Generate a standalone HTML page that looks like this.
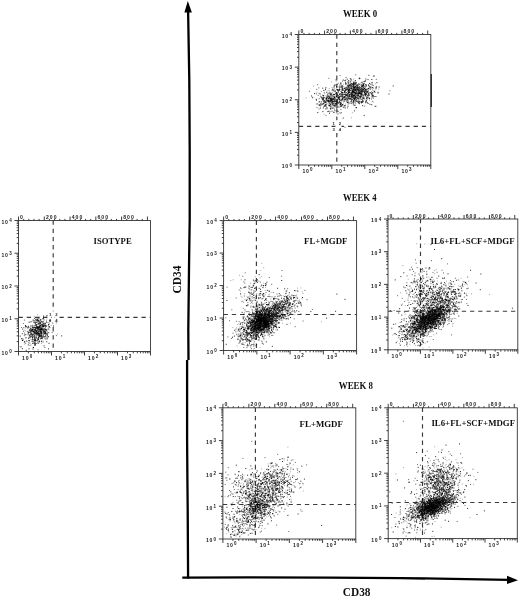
<!DOCTYPE html><html><head><meta charset="utf-8"><style>
html,body{margin:0;padding:0;background:#fff;width:520px;height:597px;overflow:hidden}
svg{display:block}
.tk{font-family:"Liberation Sans",sans-serif;font-weight:bold;font-size:5.1px;letter-spacing:0.7px;fill:#1a1a1a}
.tkt{font-family:"Liberation Sans",sans-serif;font-weight:bold;font-size:5.1px;letter-spacing:1.05px;fill:#1a1a1a}
.tks{font-family:"Liberation Sans",sans-serif;font-weight:bold;font-size:4.5px;fill:#1a1a1a}
.tq{font-family:"Liberation Sans",sans-serif;font-weight:bold;font-size:4.2px;fill:#222}
.lb{font-family:"Liberation Serif",serif;font-weight:bold;font-size:9.2px;fill:#111}
.tt{font-family:"Liberation Serif",serif;font-weight:bold;font-size:9.3px;fill:#111}
.ax{font-family:"Liberation Serif",serif;font-weight:bold;font-size:11.5px;fill:#111}
</style></head><body><svg width="520" height="597" viewBox="0 0 520 597">
<defs><filter id="gb" x="0" y="0" width="1" height="1"><feGaussianBlur stdDeviation="0.3"/></filter></defs>
<rect width="520" height="597" fill="#fff"/><g filter="url(#gb)"><rect width="520" height="597" fill="#fff"/>
<rect x="18.5" y="220.5" width="132" height="131" fill="none" stroke="#333" stroke-width="0.9"/>
<path d="M18.5 220.5v-4M23.66 220.5v-1.6M28.81 220.5v-1.6M33.97 220.5v-1.6M39.12 220.5v-1.6M44.28 220.5v-4M49.44 220.5v-1.6M54.59 220.5v-1.6M59.75 220.5v-1.6M64.91 220.5v-1.6M70.06 220.5v-4M75.22 220.5v-1.6M80.38 220.5v-1.6M85.53 220.5v-1.6M90.69 220.5v-1.6M95.84 220.5v-4M101 220.5v-1.6M106.16 220.5v-1.6M111.31 220.5v-1.6M116.47 220.5v-1.6M121.62 220.5v-4M126.78 220.5v-1.6M131.94 220.5v-1.6M137.09 220.5v-1.6M142.25 220.5v-1.6M147.41 220.5v-4M18.5 351.5h-4M18.5 341.64h-1.8M18.5 335.87h-1.8M18.5 331.78h-1.8M18.5 328.61h-1.8M18.5 326.02h-1.8M18.5 323.82h-1.8M18.5 321.92h-1.8M18.5 320.25h-1.8M18.5 318.75h-4M18.5 308.89h-1.8M18.5 303.12h-1.8M18.5 299.03h-1.8M18.5 295.86h-1.8M18.5 293.27h-1.8M18.5 291.07h-1.8M18.5 289.17h-1.8M18.5 287.5h-1.8M18.5 286h-4M18.5 276.14h-1.8M18.5 270.37h-1.8M18.5 266.28h-1.8M18.5 263.11h-1.8M18.5 260.52h-1.8M18.5 258.32h-1.8M18.5 256.42h-1.8M18.5 254.75h-1.8M18.5 253.25h-4M18.5 243.39h-1.8M18.5 237.62h-1.8M18.5 233.53h-1.8M18.5 230.36h-1.8M18.5 227.77h-1.8M18.5 225.57h-1.8M18.5 223.67h-1.8M18.5 222h-1.8M18.5 220.5h-4M18.5 351.5v4M28.43 351.5v1.8M34.25 351.5v1.8M38.37 351.5v1.8M41.57 351.5v1.8M44.18 351.5v1.8M46.39 351.5v1.8M48.3 351.5v1.8M49.99 351.5v1.8M51.5 351.5v4M61.43 351.5v1.8M67.25 351.5v1.8M71.37 351.5v1.8M74.57 351.5v1.8M77.18 351.5v1.8M79.39 351.5v1.8M81.3 351.5v1.8M82.99 351.5v1.8M84.5 351.5v4M94.43 351.5v1.8M100.25 351.5v1.8M104.37 351.5v1.8M107.57 351.5v1.8M110.18 351.5v1.8M112.39 351.5v1.8M114.3 351.5v1.8M115.99 351.5v1.8M117.5 351.5v4M127.43 351.5v1.8M133.25 351.5v1.8M137.37 351.5v1.8M140.57 351.5v1.8M143.18 351.5v1.8M145.39 351.5v1.8M147.3 351.5v1.8M148.99 351.5v1.8M150.5 351.5v4" stroke="#2a2a2a" stroke-width="0.9" fill="none"/>
<text x="20.1" y="219" class="tkt">0</text>
<text x="45.88" y="219" class="tkt">200</text>
<text x="71.66" y="219" class="tkt">400</text>
<text x="97.44" y="219" class="tkt">600</text>
<text x="123.22" y="219" class="tkt">800</text>
<text x="1.5" y="354.8" class="tk">10</text>
<text x="9.2" y="353" class="tks">0</text>
<text x="1.5" y="322.05" class="tk">10</text>
<text x="9.2" y="320.25" class="tks">1</text>
<text x="1.5" y="289.3" class="tk">10</text>
<text x="9.2" y="287.5" class="tks">2</text>
<text x="1.5" y="256.55" class="tk">10</text>
<text x="9.2" y="254.75" class="tks">3</text>
<text x="1.5" y="223.8" class="tk">10</text>
<text x="9.2" y="222" class="tks">4</text>
<text x="22.1" y="359.8" class="tk">10</text>
<text x="29.7" y="357.8" class="tks">0</text>
<text x="55.1" y="359.8" class="tk">10</text>
<text x="62.7" y="357.8" class="tks">1</text>
<text x="88.1" y="359.8" class="tk">10</text>
<text x="95.7" y="357.8" class="tks">2</text>
<text x="121.1" y="359.8" class="tk">10</text>
<text x="128.7" y="357.8" class="tks">3</text>
<path d="M53.2 220.5V351.5M18.5 317.3H150.5" stroke="#3a3a3a" stroke-width="1.15" stroke-dasharray="4.3 3.9" fill="none"/>
<rect x="51.9" y="311.3" width="2.6" height="12" fill="#fff"/><rect x="54.5" y="316.3" width="3.4" height="2" fill="#fff"/>
<text x="50.1" y="315.8" class="tq" text-anchor="middle">1</text>
<text x="56.3" y="315.8" class="tq" text-anchor="middle">2</text>
<text x="50.1" y="321.8" class="tq" text-anchor="middle">3</text>
<text x="56.3" y="321.8" class="tq" text-anchor="middle">4</text>
<text x="93.6" y="244.4" class="lb" textLength="38.1" lengthAdjust="spacingAndGlyphs">ISOTYPE</text>
<rect x="298.8" y="34.5" width="132" height="130.5" fill="none" stroke="#333" stroke-width="0.9"/>
<path d="M298.8 34.5v-4M303.96 34.5v-1.6M309.11 34.5v-1.6M314.27 34.5v-1.6M319.43 34.5v-1.6M324.58 34.5v-4M329.74 34.5v-1.6M334.89 34.5v-1.6M340.05 34.5v-1.6M345.21 34.5v-1.6M350.36 34.5v-4M355.52 34.5v-1.6M360.68 34.5v-1.6M365.83 34.5v-1.6M370.99 34.5v-1.6M376.14 34.5v-4M381.3 34.5v-1.6M386.46 34.5v-1.6M391.61 34.5v-1.6M396.77 34.5v-1.6M401.93 34.5v-4M407.08 34.5v-1.6M412.24 34.5v-1.6M417.39 34.5v-1.6M422.55 34.5v-1.6M427.71 34.5v-4M298.8 165h-4M298.8 155.18h-1.8M298.8 149.43h-1.8M298.8 145.36h-1.8M298.8 142.2h-1.8M298.8 139.61h-1.8M298.8 137.43h-1.8M298.8 135.54h-1.8M298.8 133.87h-1.8M298.8 132.38h-4M298.8 122.55h-1.8M298.8 116.81h-1.8M298.8 112.73h-1.8M298.8 109.57h-1.8M298.8 106.99h-1.8M298.8 104.8h-1.8M298.8 102.91h-1.8M298.8 101.24h-1.8M298.8 99.75h-4M298.8 89.93h-1.8M298.8 84.18h-1.8M298.8 80.11h-1.8M298.8 76.95h-1.8M298.8 74.36h-1.8M298.8 72.18h-1.8M298.8 70.29h-1.8M298.8 68.62h-1.8M298.8 67.12h-4M298.8 57.3h-1.8M298.8 51.56h-1.8M298.8 47.48h-1.8M298.8 44.32h-1.8M298.8 41.74h-1.8M298.8 39.55h-1.8M298.8 37.66h-1.8M298.8 35.99h-1.8M298.8 34.5h-4M298.8 165v4M308.73 165v1.8M314.55 165v1.8M318.67 165v1.8M321.87 165v1.8M324.48 165v1.8M326.69 165v1.8M328.6 165v1.8M330.29 165v1.8M331.8 165v4M341.73 165v1.8M347.55 165v1.8M351.67 165v1.8M354.87 165v1.8M357.48 165v1.8M359.69 165v1.8M361.6 165v1.8M363.29 165v1.8M364.8 165v4M374.73 165v1.8M380.55 165v1.8M384.67 165v1.8M387.87 165v1.8M390.48 165v1.8M392.69 165v1.8M394.6 165v1.8M396.29 165v1.8M397.8 165v4M407.73 165v1.8M413.55 165v1.8M417.67 165v1.8M420.87 165v1.8M423.48 165v1.8M425.69 165v1.8M427.6 165v1.8M429.29 165v1.8M430.8 165v4" stroke="#2a2a2a" stroke-width="0.9" fill="none"/>
<text x="300.4" y="33" class="tkt">0</text>
<text x="326.18" y="33" class="tkt">200</text>
<text x="351.96" y="33" class="tkt">400</text>
<text x="377.74" y="33" class="tkt">600</text>
<text x="403.53" y="33" class="tkt">800</text>
<text x="281.8" y="168.3" class="tk">10</text>
<text x="289.5" y="166.5" class="tks">0</text>
<text x="281.8" y="135.68" class="tk">10</text>
<text x="289.5" y="133.88" class="tks">1</text>
<text x="281.8" y="103.05" class="tk">10</text>
<text x="289.5" y="101.25" class="tks">2</text>
<text x="281.8" y="70.42" class="tk">10</text>
<text x="289.5" y="68.62" class="tks">3</text>
<text x="281.8" y="37.8" class="tk">10</text>
<text x="289.5" y="36" class="tks">4</text>
<text x="302.4" y="173.3" class="tk">10</text>
<text x="310" y="171.3" class="tks">0</text>
<text x="335.4" y="173.3" class="tk">10</text>
<text x="343" y="171.3" class="tks">1</text>
<text x="368.4" y="173.3" class="tk">10</text>
<text x="376" y="171.3" class="tks">2</text>
<text x="401.4" y="173.3" class="tk">10</text>
<text x="409" y="171.3" class="tks">3</text>
<path d="M336.8 34.5V165M298.8 126.3H430.8" stroke="#3a3a3a" stroke-width="1.15" stroke-dasharray="4.3 3.9" fill="none"/>
<rect x="335.5" y="120.3" width="2.6" height="12" fill="#fff"/><rect x="338.1" y="125.3" width="3.4" height="2" fill="#fff"/>
<text x="333.7" y="124.8" class="tq" text-anchor="middle">1</text>
<text x="339.9" y="124.8" class="tq" text-anchor="middle">2</text>
<text x="333.7" y="130.8" class="tq" text-anchor="middle">3</text>
<text x="339.9" y="130.8" class="tq" text-anchor="middle">4</text>
<rect x="223.6" y="220.6" width="133" height="129.9" fill="none" stroke="#333" stroke-width="0.9"/>
<path d="M223.6 220.6v-4M228.8 220.6v-1.6M233.99 220.6v-1.6M239.19 220.6v-1.6M244.38 220.6v-1.6M249.58 220.6v-4M254.77 220.6v-1.6M259.97 220.6v-1.6M265.16 220.6v-1.6M270.36 220.6v-1.6M275.55 220.6v-4M280.75 220.6v-1.6M285.94 220.6v-1.6M291.14 220.6v-1.6M296.33 220.6v-1.6M301.53 220.6v-4M306.73 220.6v-1.6M311.92 220.6v-1.6M317.12 220.6v-1.6M322.31 220.6v-1.6M327.51 220.6v-4M332.7 220.6v-1.6M337.9 220.6v-1.6M343.09 220.6v-1.6M348.29 220.6v-1.6M353.48 220.6v-4M223.6 350.5h-4M223.6 340.72h-1.8M223.6 335.01h-1.8M223.6 330.95h-1.8M223.6 327.8h-1.8M223.6 325.23h-1.8M223.6 323.06h-1.8M223.6 321.17h-1.8M223.6 319.51h-1.8M223.6 318.02h-4M223.6 308.25h-1.8M223.6 302.53h-1.8M223.6 298.47h-1.8M223.6 295.33h-1.8M223.6 292.75h-1.8M223.6 290.58h-1.8M223.6 288.7h-1.8M223.6 287.04h-1.8M223.6 285.55h-4M223.6 275.77h-1.8M223.6 270.06h-1.8M223.6 266h-1.8M223.6 262.85h-1.8M223.6 260.28h-1.8M223.6 258.11h-1.8M223.6 256.22h-1.8M223.6 254.56h-1.8M223.6 253.07h-4M223.6 243.3h-1.8M223.6 237.58h-1.8M223.6 233.52h-1.8M223.6 230.38h-1.8M223.6 227.8h-1.8M223.6 225.63h-1.8M223.6 223.75h-1.8M223.6 222.09h-1.8M223.6 220.6h-4M223.6 350.5v4M233.61 350.5v1.8M239.46 350.5v1.8M243.62 350.5v1.8M246.84 350.5v1.8M249.47 350.5v1.8M251.7 350.5v1.8M253.63 350.5v1.8M255.33 350.5v1.8M256.85 350.5v4M266.86 350.5v1.8M272.71 350.5v1.8M276.87 350.5v1.8M280.09 350.5v1.8M282.72 350.5v1.8M284.95 350.5v1.8M286.88 350.5v1.8M288.58 350.5v1.8M290.1 350.5v4M300.11 350.5v1.8M305.96 350.5v1.8M310.12 350.5v1.8M313.34 350.5v1.8M315.97 350.5v1.8M318.2 350.5v1.8M320.13 350.5v1.8M321.83 350.5v1.8M323.35 350.5v4M333.36 350.5v1.8M339.21 350.5v1.8M343.37 350.5v1.8M346.59 350.5v1.8M349.22 350.5v1.8M351.45 350.5v1.8M353.38 350.5v1.8M355.08 350.5v1.8M356.6 350.5v4" stroke="#2a2a2a" stroke-width="0.9" fill="none"/>
<text x="225.2" y="219.1" class="tkt">0</text>
<text x="251.18" y="219.1" class="tkt">200</text>
<text x="277.15" y="219.1" class="tkt">400</text>
<text x="303.13" y="219.1" class="tkt">600</text>
<text x="329.11" y="219.1" class="tkt">800</text>
<text x="206.6" y="353.8" class="tk">10</text>
<text x="214.3" y="352" class="tks">0</text>
<text x="206.6" y="321.32" class="tk">10</text>
<text x="214.3" y="319.52" class="tks">1</text>
<text x="206.6" y="288.85" class="tk">10</text>
<text x="214.3" y="287.05" class="tks">2</text>
<text x="206.6" y="256.38" class="tk">10</text>
<text x="214.3" y="254.57" class="tks">3</text>
<text x="206.6" y="223.9" class="tk">10</text>
<text x="214.3" y="222.1" class="tks">4</text>
<text x="227.2" y="358.8" class="tk">10</text>
<text x="234.8" y="356.8" class="tks">0</text>
<text x="260.45" y="358.8" class="tk">10</text>
<text x="268.05" y="356.8" class="tks">1</text>
<text x="293.7" y="358.8" class="tk">10</text>
<text x="301.3" y="356.8" class="tks">2</text>
<text x="326.95" y="358.8" class="tk">10</text>
<text x="334.55" y="356.8" class="tks">3</text>
<path d="M256.4 220.6V350.5M223.6 314.5H356.6" stroke="#3a3a3a" stroke-width="1.15" stroke-dasharray="4.3 3.9" fill="none"/>
<text x="304" y="244.4" class="lb" textLength="43.5" lengthAdjust="spacingAndGlyphs">FL&#43;MGDF</text>
<rect x="388" y="219" width="129.8" height="130.8" fill="none" stroke="#333" stroke-width="0.9"/>
<path d="M388 219v-4M393.07 219v-1.6M398.14 219v-1.6M403.21 219v-1.6M408.28 219v-1.6M413.35 219v-4M418.42 219v-1.6M423.49 219v-1.6M428.56 219v-1.6M433.63 219v-1.6M438.7 219v-4M443.77 219v-1.6M448.84 219v-1.6M453.91 219v-1.6M458.98 219v-1.6M464.05 219v-4M469.12 219v-1.6M474.2 219v-1.6M479.27 219v-1.6M484.34 219v-1.6M489.41 219v-4M494.48 219v-1.6M499.55 219v-1.6M504.62 219v-1.6M509.69 219v-1.6M514.76 219v-4M388 349.8h-4M388 339.96h-1.8M388 334.2h-1.8M388 330.11h-1.8M388 326.94h-1.8M388 324.35h-1.8M388 322.17h-1.8M388 320.27h-1.8M388 318.6h-1.8M388 317.1h-4M388 307.26h-1.8M388 301.5h-1.8M388 297.41h-1.8M388 294.24h-1.8M388 291.65h-1.8M388 289.47h-1.8M388 287.57h-1.8M388 285.9h-1.8M388 284.4h-4M388 274.56h-1.8M388 268.8h-1.8M388 264.71h-1.8M388 261.54h-1.8M388 258.95h-1.8M388 256.77h-1.8M388 254.87h-1.8M388 253.2h-1.8M388 251.7h-4M388 241.86h-1.8M388 236.1h-1.8M388 232.01h-1.8M388 228.84h-1.8M388 226.25h-1.8M388 224.07h-1.8M388 222.17h-1.8M388 220.5h-1.8M388 219h-4M388 349.8v4M397.77 349.8v1.8M403.48 349.8v1.8M407.54 349.8v1.8M410.68 349.8v1.8M413.25 349.8v1.8M415.42 349.8v1.8M417.31 349.8v1.8M418.97 349.8v1.8M420.45 349.8v4M430.22 349.8v1.8M435.93 349.8v1.8M439.99 349.8v1.8M443.13 349.8v1.8M445.7 349.8v1.8M447.87 349.8v1.8M449.76 349.8v1.8M451.42 349.8v1.8M452.9 349.8v4M462.67 349.8v1.8M468.38 349.8v1.8M472.44 349.8v1.8M475.58 349.8v1.8M478.15 349.8v1.8M480.32 349.8v1.8M482.21 349.8v1.8M483.87 349.8v1.8M485.35 349.8v4M495.12 349.8v1.8M500.83 349.8v1.8M504.89 349.8v1.8M508.03 349.8v1.8M510.6 349.8v1.8M512.77 349.8v1.8M514.66 349.8v1.8M516.32 349.8v1.8M517.8 349.8v4" stroke="#2a2a2a" stroke-width="0.9" fill="none"/>
<text x="389.6" y="217.5" class="tkt">0</text>
<text x="414.95" y="217.5" class="tkt">200</text>
<text x="440.3" y="217.5" class="tkt">400</text>
<text x="465.65" y="217.5" class="tkt">600</text>
<text x="491.01" y="217.5" class="tkt">800</text>
<text x="371" y="353.1" class="tk">10</text>
<text x="378.7" y="351.3" class="tks">0</text>
<text x="371" y="320.4" class="tk">10</text>
<text x="378.7" y="318.6" class="tks">1</text>
<text x="371" y="287.7" class="tk">10</text>
<text x="378.7" y="285.9" class="tks">2</text>
<text x="371" y="255" class="tk">10</text>
<text x="378.7" y="253.2" class="tks">3</text>
<text x="371" y="222.3" class="tk">10</text>
<text x="378.7" y="220.5" class="tks">4</text>
<text x="391.6" y="358.1" class="tk">10</text>
<text x="399.2" y="356.1" class="tks">0</text>
<text x="424.05" y="358.1" class="tk">10</text>
<text x="431.65" y="356.1" class="tks">1</text>
<text x="456.5" y="358.1" class="tk">10</text>
<text x="464.1" y="356.1" class="tks">2</text>
<text x="488.95" y="358.1" class="tk">10</text>
<text x="496.55" y="356.1" class="tks">3</text>
<path d="M420.5 219V349.8M388 311.2H517.8" stroke="#3a3a3a" stroke-width="1.15" stroke-dasharray="4.3 3.9" fill="none"/>
<text x="430.5" y="243.7" class="lb" textLength="84.1" lengthAdjust="spacingAndGlyphs">IL6&#43;FL&#43;SCF&#43;MDGF</text>
<rect x="222.9" y="407.8" width="132.9" height="131.2" fill="none" stroke="#333" stroke-width="0.9"/>
<path d="M222.9 407.8v-4M228.09 407.8v-1.6M233.28 407.8v-1.6M238.47 407.8v-1.6M243.67 407.8v-1.6M248.86 407.8v-4M254.05 407.8v-1.6M259.24 407.8v-1.6M264.43 407.8v-1.6M269.62 407.8v-1.6M274.81 407.8v-4M280.01 407.8v-1.6M285.2 407.8v-1.6M290.39 407.8v-1.6M295.58 407.8v-1.6M300.77 407.8v-4M305.96 407.8v-1.6M311.15 407.8v-1.6M316.35 407.8v-1.6M321.54 407.8v-1.6M326.73 407.8v-4M331.92 407.8v-1.6M337.11 407.8v-1.6M342.3 407.8v-1.6M347.49 407.8v-1.6M352.69 407.8v-4M222.9 539h-4M222.9 529.13h-1.8M222.9 523.35h-1.8M222.9 519.25h-1.8M222.9 516.07h-1.8M222.9 513.48h-1.8M222.9 511.28h-1.8M222.9 509.38h-1.8M222.9 507.7h-1.8M222.9 506.2h-4M222.9 496.33h-1.8M222.9 490.55h-1.8M222.9 486.45h-1.8M222.9 483.27h-1.8M222.9 480.68h-1.8M222.9 478.48h-1.8M222.9 476.58h-1.8M222.9 474.9h-1.8M222.9 473.4h-4M222.9 463.53h-1.8M222.9 457.75h-1.8M222.9 453.65h-1.8M222.9 450.47h-1.8M222.9 447.88h-1.8M222.9 445.68h-1.8M222.9 443.78h-1.8M222.9 442.1h-1.8M222.9 440.6h-4M222.9 430.73h-1.8M222.9 424.95h-1.8M222.9 420.85h-1.8M222.9 417.67h-1.8M222.9 415.08h-1.8M222.9 412.88h-1.8M222.9 410.98h-1.8M222.9 409.3h-1.8M222.9 407.8h-4M222.9 539v4M232.9 539v1.8M238.75 539v1.8M242.9 539v1.8M246.12 539v1.8M248.75 539v1.8M250.98 539v1.8M252.91 539v1.8M254.6 539v1.8M256.12 539v4M266.13 539v1.8M271.98 539v1.8M276.13 539v1.8M279.35 539v1.8M281.98 539v1.8M284.2 539v1.8M286.13 539v1.8M287.83 539v1.8M289.35 539v4M299.35 539v1.8M305.2 539v1.8M309.35 539v1.8M312.57 539v1.8M315.2 539v1.8M317.43 539v1.8M319.36 539v1.8M321.05 539v1.8M322.58 539v4M332.58 539v1.8M338.43 539v1.8M342.58 539v1.8M345.8 539v1.8M348.43 539v1.8M350.65 539v1.8M352.58 539v1.8M354.28 539v1.8M355.8 539v4" stroke="#2a2a2a" stroke-width="0.9" fill="none"/>
<text x="224.5" y="406.3" class="tkt">0</text>
<text x="250.46" y="406.3" class="tkt">200</text>
<text x="276.41" y="406.3" class="tkt">400</text>
<text x="302.37" y="406.3" class="tkt">600</text>
<text x="328.33" y="406.3" class="tkt">800</text>
<text x="205.9" y="542.3" class="tk">10</text>
<text x="213.6" y="540.5" class="tks">0</text>
<text x="205.9" y="509.5" class="tk">10</text>
<text x="213.6" y="507.7" class="tks">1</text>
<text x="205.9" y="476.7" class="tk">10</text>
<text x="213.6" y="474.9" class="tks">2</text>
<text x="205.9" y="443.9" class="tk">10</text>
<text x="213.6" y="442.1" class="tks">3</text>
<text x="205.9" y="411.1" class="tk">10</text>
<text x="213.6" y="409.3" class="tks">4</text>
<text x="226.5" y="547.3" class="tk">10</text>
<text x="234.1" y="545.3" class="tks">0</text>
<text x="259.73" y="547.3" class="tk">10</text>
<text x="267.33" y="545.3" class="tks">1</text>
<text x="292.95" y="547.3" class="tk">10</text>
<text x="300.55" y="545.3" class="tks">2</text>
<text x="326.18" y="547.3" class="tk">10</text>
<text x="333.78" y="545.3" class="tks">3</text>
<path d="M255.4 407.8V539M222.9 504.5H355.8" stroke="#3a3a3a" stroke-width="1.15" stroke-dasharray="4.3 3.9" fill="none"/>
<text x="299.6" y="427.1" class="lb" textLength="43.3" lengthAdjust="spacingAndGlyphs">FL&#43;MGDF</text>
<rect x="388.2" y="407.8" width="129.1" height="130.8" fill="none" stroke="#333" stroke-width="0.9"/>
<path d="M388.2 407.8v-4M393.24 407.8v-1.6M398.29 407.8v-1.6M403.33 407.8v-1.6M408.37 407.8v-1.6M413.41 407.8v-4M418.46 407.8v-1.6M423.5 407.8v-1.6M428.54 407.8v-1.6M433.59 407.8v-1.6M438.63 407.8v-4M443.67 407.8v-1.6M448.72 407.8v-1.6M453.76 407.8v-1.6M458.8 407.8v-1.6M463.84 407.8v-4M468.89 407.8v-1.6M473.93 407.8v-1.6M478.97 407.8v-1.6M484.02 407.8v-1.6M489.06 407.8v-4M494.1 407.8v-1.6M499.15 407.8v-1.6M504.19 407.8v-1.6M509.23 407.8v-1.6M514.27 407.8v-4M388.2 538.6h-4M388.2 528.76h-1.8M388.2 523h-1.8M388.2 518.91h-1.8M388.2 515.74h-1.8M388.2 513.15h-1.8M388.2 510.97h-1.8M388.2 509.07h-1.8M388.2 507.4h-1.8M388.2 505.9h-4M388.2 496.06h-1.8M388.2 490.3h-1.8M388.2 486.21h-1.8M388.2 483.04h-1.8M388.2 480.45h-1.8M388.2 478.27h-1.8M388.2 476.37h-1.8M388.2 474.7h-1.8M388.2 473.2h-4M388.2 463.36h-1.8M388.2 457.6h-1.8M388.2 453.51h-1.8M388.2 450.34h-1.8M388.2 447.75h-1.8M388.2 445.57h-1.8M388.2 443.67h-1.8M388.2 442h-1.8M388.2 440.5h-4M388.2 430.66h-1.8M388.2 424.9h-1.8M388.2 420.81h-1.8M388.2 417.64h-1.8M388.2 415.05h-1.8M388.2 412.87h-1.8M388.2 410.97h-1.8M388.2 409.3h-1.8M388.2 407.8h-4M388.2 538.6v4M397.92 538.6v1.8M403.6 538.6v1.8M407.63 538.6v1.8M410.76 538.6v1.8M413.31 538.6v1.8M415.48 538.6v1.8M417.35 538.6v1.8M419 538.6v1.8M420.47 538.6v4M430.19 538.6v1.8M435.87 538.6v1.8M439.91 538.6v1.8M443.03 538.6v1.8M445.59 538.6v1.8M447.75 538.6v1.8M449.62 538.6v1.8M451.27 538.6v1.8M452.75 538.6v4M462.47 538.6v1.8M468.15 538.6v1.8M472.18 538.6v1.8M475.31 538.6v1.8M477.86 538.6v1.8M480.03 538.6v1.8M481.9 538.6v1.8M483.55 538.6v1.8M485.02 538.6v4M494.74 538.6v1.8M500.42 538.6v1.8M504.46 538.6v1.8M507.58 538.6v1.8M510.14 538.6v1.8M512.3 538.6v1.8M514.17 538.6v1.8M515.82 538.6v1.8M517.3 538.6v4" stroke="#2a2a2a" stroke-width="0.9" fill="none"/>
<text x="389.8" y="406.3" class="tkt">0</text>
<text x="415.01" y="406.3" class="tkt">200</text>
<text x="440.23" y="406.3" class="tkt">400</text>
<text x="465.44" y="406.3" class="tkt">600</text>
<text x="490.66" y="406.3" class="tkt">800</text>
<text x="371.2" y="541.9" class="tk">10</text>
<text x="378.9" y="540.1" class="tks">0</text>
<text x="371.2" y="509.2" class="tk">10</text>
<text x="378.9" y="507.4" class="tks">1</text>
<text x="371.2" y="476.5" class="tk">10</text>
<text x="378.9" y="474.7" class="tks">2</text>
<text x="371.2" y="443.8" class="tk">10</text>
<text x="378.9" y="442" class="tks">3</text>
<text x="371.2" y="411.1" class="tk">10</text>
<text x="378.9" y="409.3" class="tks">4</text>
<text x="391.8" y="546.9" class="tk">10</text>
<text x="399.4" y="544.9" class="tks">0</text>
<text x="424.07" y="546.9" class="tk">10</text>
<text x="431.68" y="544.9" class="tks">1</text>
<text x="456.35" y="546.9" class="tk">10</text>
<text x="463.95" y="544.9" class="tks">2</text>
<text x="488.62" y="546.9" class="tk">10</text>
<text x="496.23" y="544.9" class="tks">3</text>
<path d="M422.5 407.8V538.6M388.2 502.5H517.3" stroke="#3a3a3a" stroke-width="1.15" stroke-dasharray="4.3 3.9" fill="none"/>
<text x="431.4" y="425.7" class="lb" textLength="83.7" lengthAdjust="spacingAndGlyphs">IL6&#43;FL&#43;SCF&#43;MDGF</text>
<defs><filter id="bl" x="0" y="0" width="1" height="1"><feGaussianBlur stdDeviation="0.3"/></filter></defs>
<g filter="url(#bl)">
<path d="M47.6 328.2h1M36.6 333.4h1M30.6 330.5h1M44.7 327.4h1M38.2 334.4h1M42.1 324.8h1M36.8 330.2h1M44.9 323.9h1M30.2 326.5h1M32.2 331.0h1M29.4 329.4h1M37.4 322.3h1M41.9 330.1h1M39.4 329.9h1M40.5 329.4h1M43.9 323.2h1M41.3 331.1h1M44.0 331.1h1M38.6 326.0h1M40.1 327.8h1M43.9 330.6h1M38.0 326.7h1M29.0 331.0h1M39.5 323.9h1M42.9 341.2h1M35.1 324.1h1M41.5 327.2h1M39.7 331.2h1M35.5 331.6h1M37.8 329.3h1M32.4 330.0h1M49.3 330.0h1M39.0 322.4h1M45.3 332.3h1M34.0 326.0h1M39.6 330.9h1M39.5 327.7h1M47.3 322.4h1M35.4 321.1h1M47.0 337.5h1M35.7 334.4h1M29.8 334.8h1M32.9 331.4h1M34.2 325.2h1M47.8 329.7h1M39.4 322.1h1M35.5 331.2h1M38.1 324.2h1M46.6 331.1h1M26.9 332.9h1M40.3 325.0h1M42.4 327.8h1M46.6 329.8h1M38.2 332.3h1M32.8 321.7h1M43.2 324.2h1M42.0 324.4h1M41.3 329.0h1M46.3 319.1h1M37.8 328.7h1M37.6 321.2h1M37.7 335.5h1M23.7 330.2h1M39.5 325.4h1M47.7 336.8h1M34.8 328.9h1M41.4 322.4h1M44.3 325.0h1M31.3 329.6h1M43.3 333.3h1M38.0 331.1h1M43.1 326.3h1M43.0 328.2h1M33.0 328.7h1M45.0 327.4h1M42.3 328.2h1M35.1 343.6h1M34.1 331.7h1M35.1 340.4h1M28.0 322.2h1M37.3 329.9h1M32.0 325.3h1M42.5 322.3h1M44.0 329.1h1M43.7 326.2h1M48.5 322.7h1M29.2 322.5h1M28.6 327.6h1M37.2 327.8h1M32.7 319.4h1M37.0 314.8h1M36.0 337.7h1M40.6 336.7h1M34.4 338.5h1M47.8 325.6h1M42.6 326.0h1M33.8 329.3h1M43.1 323.7h1M50.6 325.7h1M40.5 327.2h1M46.1 325.5h1M30.5 336.8h1M34.6 336.1h1M29.6 343.3h1M41.3 337.8h1M24.9 330.7h1M30.1 335.4h1M30.6 339.8h1M32.0 325.6h1M24.8 328.1h1M33.8 333.6h1M33.7 329.8h1M23.9 344.2h1M38.5 333.9h1M33.3 327.4h1M42.8 336.1h1M39.3 326.0h1M40.3 337.7h1M38.1 339.6h1M30.2 330.4h1M37.7 342.0h1M29.1 330.2h1M30.4 336.6h1M31.5 335.6h1M38.4 327.0h1M27.3 341.2h1M25.8 340.9h1M57.1 334.1h1M36.7 332.1h1M30.6 344.9h1M32.3 347.3h1M35.9 333.6h1M32.6 336.7h1M33.7 329.3h1M40.4 334.0h1M32.7 348.7h1M31.6 330.1h1M42.6 342.4h1M38.8 330.2h1M27.5 332.1h1M34.1 337.7h1M39.8 328.7h1M41.5 329.6h1M36.4 340.3h1M33.2 328.8h1M37.4 335.8h1M37.4 335.2h1M38.6 338.8h1M43.0 333.5h1M29.5 338.9h1M32.5 329.3h1M31.3 336.2h1M41.0 343.6h1M39.3 324.6h1M43.5 330.1h1M44.1 324.8h1M33.6 316.5h1M34.8 333.9h1M42.3 328.4h1M39.0 334.7h1M30.4 325.5h1M44.5 324.3h1M32.7 343.5h1M22.8 339.0h1M36.9 333.3h1M29.7 337.4h1M25.6 350.2h1M35.2 322.7h1M38.3 333.2h1M37.3 332.5h1M41.3 341.3h1" stroke="#000" stroke-width="1" stroke-opacity="0.35" fill="none"/>
<path d="M34.2 335.3h1M42.8 335.6h1M42.0 338.7h1M45.5 331.0h1M37.5 323.9h1M39.5 329.9h1M36.2 320.5h1M51.7 332.6h1M39.4 325.4h1M28.2 327.4h1M35.4 325.2h1M46.7 315.6h1M37.3 320.4h1M32.8 332.0h1M37.2 327.8h1M46.1 326.4h1M40.3 331.2h1M41.3 341.0h1M45.0 335.4h1M38.5 323.6h1M38.3 323.3h1M43.0 331.0h1M30.1 329.0h1M36.6 333.3h1M30.5 328.6h1M37.1 338.4h1M34.4 332.7h1M36.5 328.5h1M42.3 329.4h1M39.6 334.4h1M43.4 325.6h1M44.1 326.1h1M38.5 336.5h1M44.5 332.2h1M43.8 336.6h1M26.8 331.4h1M43.9 325.6h1M38.8 329.7h1M43.0 317.7h1M35.4 325.4h1M46.0 330.2h1M41.2 324.7h1M41.2 337.1h1M45.8 337.2h1M34.3 320.6h1M40.7 328.7h1M40.9 330.7h1M39.5 333.0h1M40.1 331.5h1M24.5 334.8h1M38.8 328.8h1M30.3 330.6h1M46.8 336.2h1M38.5 335.6h1M38.4 328.7h1M32.3 327.0h1M35.4 325.0h1M36.5 326.5h1M43.4 323.5h1M42.5 322.1h1M39.4 329.7h1M40.5 329.1h1M42.7 321.3h1M37.4 324.4h1M44.4 329.8h1M39.1 317.2h1M23.3 327.6h1M33.9 332.6h1M30.4 327.8h1M43.1 331.8h1M34.4 321.3h1M39.8 319.4h1M49.4 327.7h1M38.7 320.7h1M39.6 326.2h1M55.9 335.6h1M38.1 331.4h1M42.2 324.2h1M35.1 323.7h1M28.7 330.2h1M34.1 330.2h1M32.2 329.5h1M34.3 330.9h1M43.6 319.9h1M38.1 331.0h1M33.4 326.0h1M51.9 323.0h1M40.1 338.2h1M46.0 316.0h1M45.2 329.7h1M40.0 338.9h1M44.9 323.7h1M32.5 334.4h1M38.0 338.7h1M37.4 329.2h1M42.4 325.7h1M32.6 329.8h1M35.0 333.1h1M34.3 330.1h1M22.9 323.6h1M35.3 328.8h1M39.9 330.7h1M33.5 331.5h1M33.1 327.4h1M36.2 327.3h1M34.3 337.8h1M40.8 336.7h1M31.9 334.3h1M35.3 331.7h1M37.5 328.9h1M33.8 332.9h1M44.1 331.7h1M42.4 328.8h1M37.8 326.8h1M35.9 324.6h1M34.8 328.2h1M32.1 327.0h1M35.6 319.7h1M42.9 329.7h1M45.9 320.9h1M34.5 329.8h1M35.2 330.7h1M40.7 333.6h1M23.9 320.1h1M49.6 320.5h1M41.5 324.3h1M24.1 333.1h1M40.6 334.0h1M42.4 337.0h1M33.7 336.0h1M47.8 328.9h1M38.2 335.7h1M32.1 343.5h1M33.7 339.6h1M31.8 341.3h1M38.2 331.1h1M38.4 332.7h1M38.2 327.9h1M31.6 341.3h1M33.5 341.7h1M34.5 332.3h1M37.1 328.8h1M30.7 333.3h1M28.1 338.0h1M21.1 338.7h1M33.4 336.1h1M28.2 331.9h1M46.9 334.9h1M40.2 329.8h1M28.9 335.6h1M37.5 328.7h1M34.8 329.7h1M30.4 336.9h1M25.9 350.3h1M35.6 340.7h1M33.4 333.3h1M32.8 337.0h1M33.1 334.4h1M42.2 321.8h1M37.9 334.4h1M44.4 347.5h1M31.1 331.8h1M31.3 330.4h1M34.4 333.5h1M47.1 333.6h1M38.4 341.2h1M36.3 333.6h1M33.7 343.1h1M34.1 339.9h1M38.1 321.2h1M40.1 331.5h1M46.8 332.1h1M37.0 342.9h1M37.1 340.8h1M55.8 322.9h1M40.4 328.7h1M33.8 342.1h1M39.5 333.6h1M32.1 338.5h1M36.3 330.6h1M37.9 337.1h1M32.5 343.0h1M20.8 346.8h1M32.9 331.5h1M48.6 323.9h1M21.9 340.3h1M36.1 332.9h1M43.5 330.3h1M25.6 337.5h1M26.0 341.1h1M48.0 324.7h1M28.6 332.6h1M25.1 343.3h1M38.8 329.1h1M24.7 334.5h1M30.7 326.0h1M40.1 335.1h1M34.9 344.0h1M26.8 327.1h1M30.5 336.4h1M40.0 325.5h1M32.8 341.1h1M35.8 324.5h1M35.5 327.9h1M23.8 335.7h1M29.4 337.7h1M39.2 335.5h1M34.8 340.1h1M25.4 338.1h1M34.4 338.0h1M26.6 334.7h1M22.9 331.4h1M31.1 321.7h1M29.5 345.4h1M21.0 327.5h1M28.2 332.7h1M35.6 338.6h1M37.6 349.9h1M33.0 331.4h1M32.5 349.2h1M28.1 338.6h1M35.5 334.5h1M37.3 329.0h1M36.4 330.8h1M19.7 346.8h1M28.8 337.0h1M34.8 322.7h1" stroke="#000" stroke-width="1" stroke-opacity="0.6" fill="none"/>
<path d="M36.0 325.9h1M31.9 337.0h1M49.1 320.7h1M38.1 321.0h1M31.4 330.4h1M40.1 332.7h1M40.0 322.3h1M29.9 331.8h1M41.5 333.1h1M42.9 318.7h1M44.4 328.6h1M42.7 326.1h1M41.8 337.8h1M43.1 331.0h1M39.5 324.1h1M36.9 333.1h1M25.0 325.8h1M40.9 331.7h1M34.8 327.3h1M36.7 320.2h1M31.7 329.2h1M42.3 318.8h1M40.1 336.1h1M31.8 335.6h1M36.6 319.0h1M38.1 327.7h1M36.2 326.5h1M41.6 324.3h1M35.8 322.4h1M43.4 334.5h1M38.8 334.9h1M39.2 331.4h1M34.7 339.6h1M39.7 322.9h1M42.1 336.2h1M44.7 323.2h1M42.8 326.3h1M32.3 327.7h1M40.0 320.1h1M34.4 322.9h1M34.2 318.4h1M48.7 326.5h1M37.2 339.8h1M40.9 328.6h1M38.7 333.8h1M37.0 332.2h1M45.3 325.7h1M44.2 333.5h1M43.6 345.9h1M46.1 322.2h1M38.4 327.7h1M35.2 333.1h1M32.8 332.0h1M35.5 332.2h1M42.3 329.5h1M38.2 327.2h1M35.2 330.1h1M44.3 331.6h1M37.7 327.5h1M41.3 328.3h1M39.8 323.3h1M37.1 327.8h1M42.6 325.6h1M38.7 333.6h1M39.1 327.1h1M37.7 332.0h1M36.1 331.6h1M44.7 329.3h1M44.7 336.5h1M35.5 327.5h1M38.0 333.4h1M28.0 326.3h1M35.8 335.2h1M34.6 329.8h1M34.0 327.6h1M45.5 333.6h1M32.6 331.5h1M39.5 326.8h1M41.0 338.4h1M43.2 332.2h1M40.8 333.2h1M43.0 316.1h1M48.2 324.7h1M45.2 326.0h1M42.9 326.6h1M38.3 323.4h1M39.1 336.7h1M44.3 333.6h1M38.4 318.6h1M39.6 327.8h1M34.4 332.8h1M40.0 325.6h1M45.5 334.3h1M40.1 329.9h1M37.8 327.6h1M41.4 334.9h1M41.0 329.5h1M36.7 321.9h1M40.4 319.9h1M39.2 321.9h1M48.2 332.7h1M35.3 319.7h1M34.0 340.5h1M36.8 327.6h1M41.4 325.8h1M40.9 335.4h1M40.2 329.1h1M44.9 326.0h1M41.2 332.5h1M35.7 336.8h1M41.7 330.3h1M44.4 332.1h1M43.6 332.2h1M36.6 330.7h1M28.4 342.9h1M35.7 328.1h1M35.5 328.1h1M44.9 329.7h1M45.0 333.1h1M46.4 334.0h1M36.9 326.3h1M33.5 322.4h1M35.5 330.1h1M41.8 326.0h1M37.4 334.6h1M41.9 326.8h1M30.9 329.9h1M41.1 334.0h1M45.7 329.8h1M45.2 332.9h1M38.8 341.1h1M29.7 332.4h1M25.1 325.7h1M38.7 327.3h1M41.5 331.9h1M33.0 347.5h1M38.1 343.2h1M32.7 331.0h1M46.8 335.3h1M22.5 340.0h1M41.0 321.7h1M28.4 340.5h1M29.9 328.9h1M44.4 338.1h1M27.8 344.9h1M37.1 319.3h1M32.1 330.9h1M38.4 329.5h1M40.9 341.7h1M30.1 334.3h1M39.2 336.7h1M34.6 344.6h1M35.2 340.2h1M37.7 339.6h1M31.4 334.7h1M40.5 332.6h1M39.1 326.3h1M35.6 343.6h1M21.9 340.5h1M37.5 320.3h1M34.0 337.0h1M45.0 332.1h1M43.2 324.1h1M35.2 341.1h1M32.0 337.4h1M28.0 333.1h1M36.0 333.1h1M29.3 330.1h1M46.3 341.8h1M25.5 326.5h1M27.3 328.0h1M45.4 339.0h1M34.2 338.8h1M22.2 329.1h1M36.0 333.4h1M48.1 336.7h1M24.2 341.8h1M39.6 336.0h1M32.6 339.6h1M32.1 329.7h1M38.1 337.5h1M31.5 334.1h1M48.6 327.1h1M34.9 340.6h1M37.1 334.1h1M48.0 348.9h1M28.8 340.9h1M36.0 331.0h1M39.6 330.1h1M25.6 326.9h1M38.8 334.9h1M33.8 331.9h1M41.3 333.4h1M32.4 327.8h1M34.5 342.7h1M39.0 341.8h1M34.4 344.8h1M34.5 345.4h1M37.6 320.2h1M29.2 335.9h1M30.7 334.0h1M37.9 338.9h1M36.4 333.7h1M43.3 336.9h1M35.6 337.4h1M23.9 342.0h1M30.7 333.1h1M21.5 338.7h1M31.8 339.7h1M40.8 327.1h1M33.7 334.9h1M28.5 348.8h1M45.7 329.8h1M34.3 343.4h1M41.0 336.2h1M21.9 348.7h1M28.5 334.7h1M48.5 343.3h1M39.7 335.7h1M46.8 338.8h1M30.5 331.5h1M32.7 320.4h1M21.8 333.7h1M19.7 336.1h1M61.2 335.9h1M53.0 326.0h1M29.6 321.9h1" stroke="#000" stroke-width="1" stroke-opacity="0.85" fill="none"/>
<path d="M342.1 93.0h1M355.4 92.4h1M362.7 83.5h1M353.6 90.4h1M369.4 86.5h1M351.1 92.6h1M356.9 87.4h1M350.4 92.4h1M355.7 88.8h1M353.2 102.6h1M347.7 92.4h1M362.9 86.8h1M366.0 97.4h1M353.3 86.4h1M364.3 81.1h1M346.2 97.5h1M333.5 96.8h1M347.9 83.3h1M331.2 81.8h1M351.9 112.7h1M365.9 92.6h1M362.7 87.5h1M352.6 91.8h1M351.9 97.4h1M363.6 97.1h1M353.8 94.5h1M347.8 100.4h1M348.9 84.5h1M361.3 90.3h1M346.4 85.9h1M345.0 94.7h1M352.4 98.5h1M340.4 101.8h1M343.8 90.3h1M353.2 79.2h1M355.8 90.1h1M359.2 92.2h1M358.3 89.6h1M346.6 99.5h1M358.0 91.1h1M343.3 90.3h1M353.5 89.1h1M359.9 88.0h1M360.1 93.5h1M362.4 92.8h1M351.5 89.9h1M359.9 92.8h1M341.6 90.9h1M358.5 88.4h1M356.0 88.7h1M348.5 95.9h1M358.0 85.6h1M335.6 93.4h1M365.7 93.8h1M338.5 89.4h1M354.1 98.2h1M348.1 92.6h1M353.6 89.7h1M370.6 88.5h1M345.8 101.8h1M358.4 99.9h1M348.8 91.4h1M352.3 94.5h1M354.2 92.5h1M354.6 81.0h1M360.4 102.6h1M353.0 92.9h1M354.8 96.0h1M346.0 94.7h1M358.4 98.4h1M359.6 94.6h1M347.8 87.6h1M365.8 96.7h1M373.2 92.2h1M345.6 89.3h1M348.1 87.6h1M358.8 96.3h1M349.1 86.3h1M350.6 98.1h1M369.0 100.2h1M358.5 99.2h1M351.8 97.0h1M348.9 85.1h1M350.2 102.0h1M341.0 86.0h1M355.3 103.8h1M353.1 98.3h1M358.1 87.2h1M353.7 91.7h1M360.0 93.2h1M357.6 87.6h1M349.2 92.2h1M354.9 93.5h1M341.9 88.9h1M352.2 83.3h1M355.6 97.4h1M358.5 87.4h1M357.0 89.8h1M357.7 90.5h1M354.3 85.9h1M355.4 74.6h1M346.8 88.2h1M361.0 99.1h1M356.1 87.8h1M362.6 98.0h1M343.8 96.9h1M368.6 95.5h1M346.9 88.5h1M358.9 89.4h1M358.7 96.9h1M365.6 100.8h1M353.5 90.3h1M350.5 85.4h1M352.0 93.3h1M358.5 102.3h1M354.6 93.0h1M339.6 102.6h1M354.5 89.0h1M353.7 90.1h1M353.4 93.3h1M349.7 96.4h1M355.8 95.5h1M358.3 87.5h1M356.0 86.2h1M346.2 100.9h1M351.3 80.2h1M354.9 92.3h1M362.6 91.1h1M348.7 91.9h1M348.5 83.7h1M361.4 93.4h1M355.5 97.3h1M367.1 92.9h1M362.6 89.4h1M352.9 95.6h1M349.1 85.6h1M361.4 93.6h1M367.6 92.7h1M336.6 80.2h1M332.0 101.0h1M356.1 94.9h1M360.4 87.8h1M356.0 91.9h1M343.5 90.3h1M353.5 84.8h1M357.1 102.5h1M352.2 96.1h1M333.2 99.7h1M359.9 94.9h1M358.5 86.3h1M360.8 89.8h1M354.4 95.1h1M359.5 92.6h1M346.4 87.6h1M363.4 87.7h1M352.1 89.7h1M359.9 91.4h1M363.7 89.1h1M345.5 100.1h1M346.4 86.6h1M375.4 89.9h1M353.3 89.0h1M369.9 87.3h1M344.8 98.2h1M346.9 81.9h1M356.1 99.4h1M360.2 92.9h1M363.0 84.6h1M353.6 81.4h1M358.2 97.8h1M355.8 91.0h1M345.3 88.2h1M361.5 88.0h1M352.7 81.7h1M349.3 102.7h1M348.6 92.0h1M357.6 90.0h1M353.2 98.5h1M358.1 90.7h1M353.3 102.3h1M341.0 91.9h1M355.9 90.1h1M331.5 87.5h1M356.9 98.2h1M364.5 92.8h1M371.8 90.1h1M347.4 85.4h1M345.0 88.0h1M348.9 92.4h1M356.4 86.6h1M348.4 97.0h1M372.4 93.0h1M361.5 96.2h1M344.9 99.0h1M356.2 85.5h1M371.9 89.1h1M350.3 86.1h1M351.3 83.3h1M364.6 84.4h1M341.6 98.8h1M343.0 84.1h1M364.5 89.6h1M344.4 87.2h1M353.3 91.7h1M355.5 90.0h1M346.2 87.4h1M362.1 89.4h1M344.9 93.1h1M378.2 89.1h1M365.3 80.8h1M341.7 86.0h1M348.1 101.4h1M352.5 91.0h1M348.5 86.4h1M359.3 88.4h1M336.9 106.0h1M361.0 96.0h1M352.1 93.4h1M354.2 97.8h1M365.3 89.7h1M356.6 92.9h1M357.5 96.3h1M350.5 91.7h1M358.5 89.8h1M365.3 92.1h1M350.4 93.1h1M357.8 90.1h1M354.0 97.9h1M353.7 82.8h1M364.5 99.6h1M343.8 88.2h1M349.4 103.5h1M351.4 96.9h1M354.3 99.8h1M372.2 93.0h1M341.7 93.9h1M359.1 90.7h1M344.9 94.3h1M359.3 87.6h1M369.6 92.6h1M357.4 93.3h1M339.2 84.8h1M372.9 97.8h1M351.4 97.2h1M362.7 96.2h1M358.0 83.5h1M349.4 85.3h1M364.4 86.7h1M357.2 95.9h1M349.5 97.2h1M354.2 84.6h1M374.8 83.7h1M340.6 97.2h1M372.9 102.1h1M346.9 99.1h1M365.0 93.7h1M350.4 99.0h1M351.2 92.3h1M364.3 90.8h1M347.5 81.7h1M355.4 97.1h1M359.4 98.6h1M348.9 81.1h1M344.3 92.5h1M356.8 87.9h1M364.2 86.2h1M356.8 90.2h1M349.9 96.7h1M360.9 96.9h1M351.7 102.7h1M351.8 103.8h1M356.2 88.0h1M353.9 88.5h1M363.4 91.5h1M357.1 97.7h1M363.0 88.7h1M344.8 88.8h1M340.5 93.4h1M356.3 93.4h1M330.1 100.8h1M354.2 91.6h1M347.1 97.0h1M342.4 93.9h1M342.5 100.4h1M355.4 86.6h1M363.3 86.5h1M354.6 99.0h1M354.9 75.1h1M357.4 90.0h1M335.8 97.4h1M326.9 99.9h1M338.1 95.8h1M328.1 100.9h1M326.4 91.8h1M342.9 101.6h1M334.4 103.5h1M336.2 103.8h1M326.5 97.3h1M343.1 102.9h1M320.3 103.0h1M332.3 103.5h1M332.7 108.2h1M331.3 97.6h1M330.5 106.5h1M328.5 97.6h1M342.9 104.7h1M352.7 92.3h1M333.3 98.5h1M337.5 103.2h1M328.9 100.3h1M333.3 94.6h1M329.7 102.6h1M339.3 94.9h1M321.1 96.7h1M342.0 94.2h1M324.4 101.0h1M342.4 99.5h1M329.4 100.2h1M342.6 100.7h1M334.6 107.3h1M305.6 98.0h1M341.4 100.1h1M331.2 98.1h1M345.2 104.0h1M341.0 93.0h1M342.5 99.3h1M343.0 96.4h1M352.3 96.6h1M333.9 97.9h1M325.5 100.6h1M337.4 105.2h1M337.6 97.8h1M328.9 103.7h1M332.4 96.3h1M339.2 96.2h1M321.5 97.2h1M339.0 112.8h1M347.5 102.6h1M325.5 105.6h1M327.8 101.7h1M335.6 106.3h1M340.9 100.9h1M325.6 104.7h1M346.3 99.5h1M323.6 114.3h1M336.8 102.7h1M330.0 97.7h1M348.0 102.4h1M343.8 97.2h1M325.2 102.7h1M346.2 100.7h1M318.6 105.6h1M330.7 95.6h1M328.7 97.6h1M335.5 103.2h1M335.8 113.1h1M330.2 101.0h1M338.8 99.3h1M331.1 90.3h1M322.6 97.9h1M335.8 96.2h1M316.4 92.1h1M326.8 94.8h1M329.3 101.3h1M336.7 95.2h1M322.4 104.0h1M324.6 95.3h1M341.9 96.1h1M329.5 94.1h1M351.5 97.7h1M327.7 90.4h1M324.4 100.4h1M341.1 105.8h1M337.8 95.1h1M327.4 93.0h1M332.5 95.7h1M335.0 100.3h1M339.0 89.9h1M331.9 98.4h1M335.5 104.4h1M326.8 94.0h1M331.9 104.6h1M334.5 101.2h1M327.9 103.9h1M338.4 98.4h1M327.5 100.1h1M338.7 99.6h1M337.5 96.1h1M330.8 97.2h1M330.4 95.7h1M334.2 105.1h1M330.3 93.1h1M333.8 94.4h1M332.3 88.6h1M327.1 111.7h1M338.7 99.4h1M336.0 106.2h1M343.3 95.7h1M339.4 106.1h1M350.9 102.9h1M337.4 99.3h1M329.9 108.6h1M341.5 105.4h1M339.0 88.3h1M335.8 81.2h1M350.9 117.8h1M339.7 98.3h1M359.5 83.4h1M319.6 101.8h1M328.8 88.6h1M313.0 86.2h1M366.3 101.4h1M320.9 91.5h1M352.2 95.2h1M370.0 87.9h1M328.9 91.1h1M340.8 94.3h1M358.4 95.8h1M366.6 99.2h1M366.1 102.6h1M353.0 105.1h1M368.2 91.5h1M355.6 101.0h1" stroke="#000" stroke-width="1" stroke-opacity="0.35" fill="none"/>
<path d="M359.9 95.0h1M346.6 101.7h1M340.0 106.1h1M356.1 101.5h1M333.6 86.5h1M355.5 91.7h1M353.0 83.6h1M346.2 83.8h1M343.5 88.3h1M354.3 90.5h1M347.9 83.2h1M341.3 96.8h1M368.7 88.3h1M351.2 93.4h1M346.4 96.0h1M355.0 90.1h1M352.0 90.6h1M337.4 95.7h1M354.0 98.6h1M348.4 89.5h1M363.3 85.2h1M353.1 91.7h1M361.2 94.8h1M361.5 90.1h1M356.0 97.5h1M374.7 92.2h1M340.8 95.4h1M352.6 91.3h1M356.0 94.0h1M354.8 83.5h1M370.3 92.8h1M358.3 100.0h1M331.6 92.8h1M361.4 92.8h1M372.6 98.2h1M365.5 86.3h1M353.0 100.4h1M360.1 91.6h1M339.9 104.6h1M364.7 91.8h1M355.2 93.3h1M336.2 89.1h1M351.4 97.0h1M354.9 90.4h1M357.2 87.5h1M348.2 96.7h1M363.5 88.4h1M350.1 82.2h1M360.1 97.3h1M373.0 95.4h1M355.2 84.6h1M334.2 89.0h1M350.4 85.0h1M341.5 90.0h1M353.3 102.2h1M353.9 92.6h1M362.4 100.7h1M364.5 88.6h1M343.4 106.9h1M351.3 96.3h1M354.4 90.2h1M370.3 87.4h1M365.1 89.9h1M341.5 87.5h1M367.5 98.4h1M340.5 105.9h1M360.8 96.6h1M354.9 102.9h1M371.2 91.8h1M339.3 89.5h1M344.5 99.7h1M339.8 99.9h1M363.2 91.2h1M360.0 99.0h1M345.0 95.4h1M367.8 90.3h1M355.7 83.6h1M356.5 90.1h1M350.5 93.5h1M352.5 96.9h1M368.1 85.0h1M359.1 92.8h1M353.1 94.3h1M363.3 89.9h1M358.8 93.2h1M361.8 86.1h1M351.4 90.0h1M344.3 92.8h1M355.4 94.0h1M346.6 94.1h1M351.6 94.6h1M356.3 95.5h1M361.5 90.7h1M351.9 92.2h1M353.3 89.0h1M342.1 81.2h1M353.3 92.8h1M342.1 88.2h1M338.4 97.6h1M347.2 85.2h1M353.6 99.3h1M362.4 83.6h1M355.3 89.5h1M362.0 97.7h1M358.4 87.9h1M347.2 96.8h1M346.2 89.5h1M338.8 102.7h1M350.8 103.4h1M341.7 95.0h1M361.7 94.5h1M347.7 82.1h1M375.8 79.4h1M373.0 76.1h1M349.7 94.1h1M357.0 94.4h1M350.2 81.4h1M360.6 94.8h1M367.1 92.4h1M353.1 89.6h1M350.8 94.4h1M364.7 87.4h1M332.7 101.0h1M362.4 89.5h1M346.5 88.5h1M361.0 94.9h1M359.5 78.4h1M355.2 98.6h1M358.4 91.8h1M355.6 89.4h1M346.7 88.1h1M362.9 84.9h1M346.0 92.5h1M366.4 98.9h1M355.0 88.4h1M371.5 96.1h1M355.2 86.9h1M371.5 83.0h1M360.5 88.1h1M358.2 89.1h1M353.0 84.2h1M356.4 93.7h1M363.5 98.7h1M374.5 106.3h1M347.3 94.3h1M362.5 101.9h1M349.8 78.6h1M351.9 88.0h1M361.3 91.2h1M366.2 89.6h1M351.9 91.4h1M359.1 84.5h1M351.0 93.7h1M337.9 90.9h1M341.6 96.2h1M361.7 91.2h1M351.7 84.2h1M361.2 88.9h1M358.7 92.4h1M364.3 81.6h1M357.2 95.0h1M356.6 93.2h1M356.4 100.8h1M356.4 92.6h1M358.5 103.1h1M350.3 84.8h1M365.0 95.8h1M354.0 87.3h1M367.1 89.1h1M365.1 89.3h1M358.9 86.5h1M357.6 96.0h1M358.3 102.1h1M333.5 87.4h1M345.3 98.9h1M341.7 85.6h1M358.4 95.9h1M345.4 97.0h1M368.1 84.9h1M351.4 88.7h1M361.6 90.7h1M370.4 86.9h1M356.2 93.0h1M366.3 97.3h1M361.2 101.6h1M350.7 88.5h1M338.6 86.8h1M350.5 94.6h1M348.4 82.7h1M354.3 93.9h1M347.7 90.0h1M352.3 86.1h1M353.8 96.0h1M348.6 89.3h1M363.0 87.1h1M371.7 95.6h1M351.8 94.0h1M354.2 90.4h1M371.9 101.4h1M349.5 98.7h1M348.3 99.2h1M348.2 90.3h1M351.3 99.4h1M345.4 92.9h1M365.6 90.1h1M349.1 98.8h1M345.2 84.3h1M357.5 98.5h1M351.2 83.7h1M353.9 105.4h1M334.7 104.1h1M352.2 90.8h1M355.4 100.3h1M354.3 95.8h1M360.8 82.6h1M337.2 93.0h1M348.4 91.9h1M351.9 94.5h1M353.3 96.7h1M358.2 88.1h1M361.9 91.3h1M339.5 87.0h1M339.7 94.6h1M348.1 86.0h1M357.9 95.5h1M356.8 96.2h1M344.2 91.3h1M345.2 83.1h1M347.8 90.6h1M340.4 84.5h1M346.7 97.3h1M347.9 90.1h1M365.3 91.3h1M351.5 97.5h1M367.0 102.7h1M332.6 96.1h1M337.6 90.2h1M362.4 98.3h1M350.3 94.8h1M366.3 89.0h1M350.8 96.6h1M344.4 92.1h1M344.7 99.3h1M377.5 93.1h1M360.0 96.7h1M365.4 95.1h1M364.2 106.1h1M352.0 99.5h1M368.2 93.8h1M356.5 87.2h1M346.8 95.0h1M361.5 102.4h1M352.0 86.2h1M356.7 89.7h1M349.3 90.0h1M354.1 92.9h1M362.9 97.0h1M373.1 88.1h1M363.4 98.3h1M361.0 103.0h1M346.0 98.6h1M364.7 90.8h1M353.7 95.4h1M366.2 92.5h1M352.6 86.2h1M350.7 88.4h1M349.3 98.3h1M351.5 91.9h1M348.6 89.6h1M347.1 102.5h1M352.5 92.6h1M350.6 90.5h1M354.7 97.5h1M362.8 98.3h1M342.1 96.3h1M347.9 86.7h1M358.3 84.2h1M353.1 92.0h1M359.6 89.2h1M348.7 85.5h1M357.5 93.7h1M370.0 84.2h1M356.7 98.2h1M341.0 92.4h1M342.8 90.1h1M352.3 89.8h1M355.2 92.7h1M359.2 90.5h1M353.4 89.3h1M348.3 103.0h1M361.0 86.5h1M360.5 95.7h1M371.0 99.0h1M345.6 77.5h1M341.9 94.5h1M350.4 96.8h1M367.1 91.2h1M358.1 101.4h1M360.8 93.2h1M350.6 88.0h1M330.0 109.2h1M330.5 101.1h1M322.0 95.2h1M324.1 97.8h1M330.5 93.9h1M334.4 100.1h1M316.5 107.6h1M329.2 96.8h1M334.0 109.0h1M344.4 99.8h1M331.5 100.4h1M328.5 97.2h1M340.0 102.4h1M333.4 94.2h1M340.1 113.1h1M344.9 105.4h1M339.7 103.8h1M338.7 101.8h1M331.1 102.2h1M338.2 102.9h1M335.0 97.1h1M331.1 99.4h1M329.0 97.1h1M347.6 104.1h1M337.2 99.8h1M335.2 93.3h1M321.8 99.5h1M349.6 98.5h1M333.2 103.4h1M334.1 97.4h1M327.4 94.8h1M328.0 101.0h1M337.8 96.1h1M344.7 108.2h1M328.4 111.1h1M344.4 99.9h1M325.8 98.5h1M332.5 107.0h1M337.0 99.5h1M339.0 101.5h1M334.4 85.0h1M328.3 98.6h1M331.8 105.1h1M339.6 106.9h1M329.5 111.7h1M337.5 89.6h1M330.4 98.8h1M332.4 108.1h1M325.6 102.5h1M320.7 104.1h1M322.9 108.1h1M325.3 104.4h1M332.3 97.9h1M318.3 87.9h1M326.3 103.8h1M347.0 107.8h1M336.7 84.5h1M320.5 97.2h1M319.8 105.8h1M321.5 98.3h1M324.6 102.4h1M338.0 97.5h1M320.1 104.8h1M338.9 87.8h1M340.9 112.7h1M328.3 105.3h1M340.9 100.2h1M333.1 99.6h1M337.2 110.9h1M326.1 92.4h1M330.7 100.7h1M331.4 99.3h1M328.8 100.9h1M329.6 101.7h1M322.7 98.3h1M317.6 95.4h1M334.9 90.9h1M312.2 97.3h1M333.5 112.6h1M323.0 106.9h1M326.9 107.9h1M343.9 101.4h1M336.4 99.3h1M326.4 98.1h1M327.2 100.4h1M342.9 107.5h1M344.2 99.7h1M337.0 100.3h1M331.3 102.9h1M333.3 99.4h1M331.1 94.1h1M337.3 106.6h1M332.9 104.2h1M337.4 97.3h1M318.6 93.4h1M323.8 105.1h1M328.0 100.6h1M342.0 99.1h1M328.8 105.4h1M333.9 91.0h1M318.7 98.7h1M329.8 99.4h1M322.6 98.2h1M328.5 95.6h1M329.9 101.0h1M333.6 100.8h1M340.1 96.0h1M323.0 99.7h1M333.7 85.6h1M330.4 106.4h1M339.5 100.3h1M318.5 109.0h1M327.8 93.3h1M329.2 101.9h1M340.4 109.5h1M333.9 98.1h1M320.4 103.6h1M325.7 98.7h1M318.5 102.2h1M328.9 106.2h1M319.0 101.6h1M330.4 99.2h1M322.1 97.8h1M321.0 97.8h1M335.6 103.0h1M336.8 98.0h1M338.7 102.7h1M316.2 89.3h1M339.5 100.4h1M331.7 102.7h1M327.1 96.1h1M308.9 91.3h1M330.0 99.1h1M334.3 99.1h1M335.5 99.8h1M333.9 97.1h1M330.2 94.0h1M326.6 97.9h1M328.8 98.1h1M321.0 101.8h1M341.1 103.3h1M341.0 94.5h1M323.1 96.2h1M331.8 100.4h1M325.2 88.3h1M316.1 104.0h1M317.1 103.9h1M338.3 98.4h1M331.7 108.5h1M332.6 103.8h1M332.2 101.9h1M325.5 115.6h1M336.5 96.0h1M315.9 93.8h1M350.4 92.9h1M330.3 100.6h1M329.7 104.7h1M325.4 106.5h1M319.9 96.2h1M323.8 100.6h1M340.2 104.6h1M329.2 93.1h1M320.8 105.0h1M325.4 87.5h1M327.9 96.3h1M312.1 97.8h1M362.5 87.0h1M350.3 88.6h1M317.1 84.7h1M331.5 100.9h1M360.8 91.3h1M366.7 96.9h1M360.8 91.9h1M326.1 107.2h1M336.1 107.3h1M334.4 101.2h1M357.1 87.1h1M357.0 97.8h1M372.2 94.7h1M322.6 100.7h1M343.9 80.6h1M339.7 75.6h1M344.5 127.3h1M337.7 83.3h1M326.4 108.9h1M347.7 87.0h1M334.6 105.5h1M338.2 107.1h1M349.3 95.6h1M328.4 78.4h1M339.5 85.8h1M358.6 93.3h1M371.1 94.5h1M351.1 98.9h1M353.3 101.4h1M389.4 90.8h1" stroke="#000" stroke-width="1" stroke-opacity="0.6" fill="none"/>
<path d="M363.5 81.7h1M371.6 82.7h1M354.6 83.4h1M358.6 92.4h1M354.8 89.9h1M355.2 98.7h1M350.4 79.1h1M340.4 83.1h1M338.0 92.0h1M358.5 91.3h1M359.7 97.8h1M342.0 95.9h1M342.4 86.3h1M361.6 86.4h1M365.9 85.2h1M364.0 94.2h1M369.7 89.3h1M352.0 95.0h1M345.6 89.7h1M339.0 90.2h1M349.0 96.3h1M355.5 89.9h1M363.6 83.4h1M365.2 94.7h1M356.2 87.9h1M359.4 102.0h1M375.4 96.5h1M365.5 85.8h1M355.1 93.3h1M356.4 91.3h1M354.2 92.0h1M359.9 96.6h1M369.0 83.4h1M355.1 96.5h1M353.7 95.6h1M347.9 98.6h1M360.9 85.0h1M353.5 83.0h1M349.5 84.9h1M358.0 102.8h1M367.2 91.5h1M363.8 92.5h1M345.5 94.9h1M340.3 83.2h1M363.0 95.1h1M349.1 92.1h1M361.3 88.7h1M345.1 80.3h1M359.3 90.0h1M350.6 80.0h1M369.7 92.8h1M361.3 91.4h1M346.2 95.1h1M367.4 97.5h1M349.4 87.5h1M354.4 97.8h1M353.0 83.3h1M353.1 103.9h1M352.1 84.4h1M352.8 88.9h1M344.2 91.5h1M360.5 93.4h1M357.3 84.5h1M362.3 100.2h1M363.3 98.1h1M353.1 89.6h1M353.1 87.5h1M348.4 92.7h1M352.4 96.6h1M364.0 92.6h1M334.6 91.6h1M372.0 95.3h1M361.2 94.2h1M351.9 91.3h1M354.5 105.2h1M368.4 75.3h1M353.4 100.2h1M346.9 93.3h1M348.4 89.7h1M356.3 85.4h1M366.1 98.6h1M348.5 96.1h1M355.2 87.4h1M364.6 93.2h1M373.6 96.5h1M375.5 88.1h1M372.6 85.7h1M359.5 97.2h1M353.4 88.4h1M340.4 104.4h1M350.0 90.2h1M341.7 87.1h1M358.8 78.7h1M371.9 87.5h1M358.6 91.8h1M367.2 95.4h1M348.1 80.7h1M342.0 92.5h1M355.0 86.4h1M372.5 96.2h1M361.4 89.7h1M362.5 101.4h1M360.6 85.1h1M365.7 93.6h1M357.4 88.3h1M353.5 92.7h1M354.8 97.0h1M348.1 92.6h1M347.0 102.3h1M343.9 97.0h1M364.9 81.0h1M350.2 98.9h1M366.4 91.8h1M351.1 83.8h1M341.6 88.9h1M349.0 94.6h1M363.0 89.4h1M364.6 93.9h1M365.0 93.8h1M367.5 79.6h1M349.3 88.3h1M375.9 86.8h1M350.2 86.7h1M369.1 86.9h1M342.4 92.9h1M378.6 87.0h1M349.4 85.6h1M351.2 86.9h1M353.1 98.3h1M371.9 92.8h1M377.6 92.3h1M334.5 85.0h1M357.8 91.1h1M350.6 101.3h1M368.7 95.0h1M352.0 91.7h1M365.4 101.5h1M368.3 85.8h1M352.7 101.2h1M374.0 91.7h1M357.2 89.5h1M365.1 102.7h1M361.8 102.1h1M335.5 79.9h1M369.5 104.3h1M342.8 97.4h1M364.7 90.0h1M347.5 87.0h1M351.3 88.8h1M353.2 86.7h1M359.3 101.4h1M348.2 95.1h1M339.2 96.5h1M371.1 93.6h1M361.8 86.7h1M355.6 97.0h1M337.1 89.7h1M353.2 87.1h1M362.5 90.6h1M343.8 92.3h1M364.0 88.5h1M340.5 87.2h1M353.2 84.4h1M357.2 101.3h1M357.2 85.4h1M348.9 90.7h1M350.9 85.7h1M355.9 107.6h1M371.3 79.5h1M354.1 87.8h1M371.5 84.7h1M364.6 95.7h1M356.7 88.4h1M360.5 87.3h1M354.0 87.8h1M355.2 89.9h1M353.7 86.2h1M373.7 76.0h1M353.8 95.2h1M369.1 98.6h1M371.6 97.0h1M350.7 94.3h1M344.9 90.2h1M360.0 89.8h1M354.0 98.7h1M360.2 90.0h1M357.1 86.8h1M340.3 103.0h1M347.0 95.7h1M350.0 84.1h1M345.6 90.2h1M373.6 91.0h1M376.4 82.6h1M348.1 93.0h1M367.6 103.5h1M335.7 93.2h1M341.2 86.2h1M343.8 94.5h1M354.1 87.6h1M345.5 87.9h1M353.4 84.5h1M350.9 95.8h1M365.4 79.0h1M361.5 99.4h1M375.6 87.8h1M327.6 96.4h1M354.5 96.0h1M353.2 84.8h1M362.2 105.6h1M364.9 94.9h1M365.6 91.6h1M375.3 106.3h1M348.3 91.2h1M368.0 88.4h1M341.9 90.1h1M338.4 98.6h1M358.0 94.7h1M351.7 92.4h1M342.7 80.0h1M367.8 88.7h1M355.0 93.0h1M365.3 84.6h1M346.8 98.7h1M345.0 90.0h1M358.9 103.7h1M362.3 95.2h1M358.0 89.8h1M348.2 88.9h1M354.9 80.7h1M346.7 79.2h1M357.5 95.4h1M351.3 87.1h1M353.3 95.7h1M355.2 82.7h1M345.9 95.4h1M360.3 92.8h1M362.6 84.6h1M344.0 97.3h1M352.8 97.3h1M367.7 95.0h1M364.2 91.1h1M352.3 90.7h1M363.6 91.2h1M365.8 100.6h1M354.5 89.6h1M362.8 84.3h1M347.4 91.3h1M365.7 90.1h1M347.7 86.0h1M347.9 85.1h1M352.5 95.5h1M359.5 93.8h1M358.9 78.1h1M357.4 93.1h1M344.6 97.1h1M354.2 99.4h1M353.4 84.9h1M359.4 96.5h1M347.7 94.0h1M345.1 82.3h1M340.5 91.3h1M351.0 100.9h1M361.2 102.0h1M355.2 101.0h1M362.0 85.6h1M361.8 92.0h1M368.2 93.1h1M353.7 83.7h1M339.2 89.4h1M358.2 93.0h1M360.7 91.5h1M348.4 92.8h1M353.9 110.9h1M352.9 85.3h1M360.7 93.2h1M371.2 104.7h1M354.3 98.8h1M368.2 94.2h1M358.1 98.2h1M355.6 85.0h1M369.1 98.1h1M361.6 88.4h1M367.7 96.1h1M361.7 82.1h1M349.5 99.0h1M356.3 99.3h1M358.9 88.1h1M352.7 91.0h1M366.0 94.3h1M358.9 93.5h1M355.5 107.8h1M363.0 85.5h1M351.3 99.9h1M353.4 82.5h1M341.5 99.3h1M343.9 88.5h1M322.0 104.2h1M335.2 105.9h1M332.0 99.4h1M333.3 112.2h1M344.5 107.0h1M331.5 95.9h1M325.0 89.7h1M343.5 98.3h1M330.4 100.1h1M316.0 100.2h1M326.3 99.0h1M337.8 103.0h1M330.4 98.5h1M332.8 90.8h1M326.1 100.9h1M339.7 104.4h1M325.4 101.9h1M332.5 89.9h1M325.0 102.0h1M330.9 100.8h1M323.0 95.5h1M336.5 89.7h1M344.9 94.6h1M323.8 101.2h1M336.5 102.1h1M327.6 100.8h1M332.3 89.7h1M324.4 105.7h1M330.3 105.8h1M329.3 97.2h1M319.9 108.0h1M334.5 94.8h1M337.0 94.7h1M336.4 94.1h1M329.9 108.3h1M323.8 92.9h1M336.4 103.9h1M341.4 99.9h1M345.3 83.8h1M336.3 96.7h1M334.5 110.7h1M332.1 101.8h1M334.0 106.0h1M337.4 114.0h1M329.8 94.4h1M336.4 101.0h1M325.9 98.4h1M325.7 99.6h1M339.6 93.5h1M333.5 99.2h1M329.4 101.9h1M334.9 98.9h1M322.1 99.7h1M338.9 99.5h1M315.8 99.3h1M347.5 106.2h1M333.7 94.5h1M322.5 98.3h1M322.3 88.2h1M327.3 97.7h1M338.2 97.7h1M330.3 96.1h1M330.7 94.3h1M331.5 101.7h1M332.2 104.1h1M314.1 93.6h1M326.6 96.0h1M311.0 96.0h1M336.1 86.6h1M342.4 97.4h1M318.6 104.7h1M330.4 104.1h1M344.6 91.0h1M334.1 101.1h1M344.5 96.5h1M330.6 107.9h1M336.7 101.9h1M327.6 111.5h1M319.1 105.2h1M324.2 106.3h1M340.4 103.3h1M336.0 96.2h1M329.4 93.0h1M326.7 100.5h1M325.7 97.2h1M325.2 105.3h1M333.6 96.6h1M322.8 103.8h1M336.3 105.7h1M322.4 111.6h1M329.0 113.2h1M323.3 97.6h1M328.3 98.5h1M331.7 98.9h1M324.4 101.8h1M325.4 104.6h1M336.2 103.9h1M329.4 98.8h1M336.6 102.0h1M342.7 118.0h1M328.2 101.6h1M342.3 98.7h1M331.6 103.0h1M348.8 95.1h1M335.2 101.6h1M325.8 98.7h1M335.9 92.8h1M347.1 100.0h1M341.3 106.0h1M338.9 97.6h1M328.0 101.9h1M330.8 98.3h1M336.7 107.4h1M333.9 97.5h1M325.3 108.8h1M337.6 90.3h1M336.3 96.6h1M330.2 99.0h1M328.1 100.0h1M329.3 103.8h1M336.4 104.6h1M331.2 99.6h1M339.0 94.4h1M319.6 93.9h1M352.6 102.2h1M341.7 89.0h1M330.1 104.3h1M341.9 104.6h1M337.3 90.8h1M342.1 98.6h1M331.5 111.1h1M323.9 102.9h1M328.8 105.5h1M334.9 103.7h1M336.8 101.8h1M334.3 105.8h1M333.1 105.6h1M323.1 101.2h1M333.5 102.2h1M332.8 101.7h1M340.7 106.1h1M338.4 97.3h1M328.0 101.0h1M327.4 101.7h1M334.3 101.3h1M343.8 105.5h1M323.0 103.2h1M332.9 98.5h1M340.4 96.4h1M346.9 89.6h1M361.3 101.9h1M355.8 82.7h1M337.5 111.6h1M354.8 94.7h1M348.3 97.4h1M353.6 100.9h1M317.3 112.6h1M323.1 99.1h1M351.0 95.7h1M341.3 92.7h1M353.2 95.5h1M358.1 93.5h1M336.1 100.0h1M348.0 90.5h1M348.9 89.2h1M334.6 104.1h1M363.7 115.4h1M332.7 94.6h1M323.4 90.5h1M352.5 92.4h1M388.5 94.0h1M392.7 85.9h1M343.3 94.3h1M342.0 104.8h1M342.3 89.9h1M361.1 94.1h1" stroke="#000" stroke-width="1" stroke-opacity="0.85" fill="none"/>
<path d="M262.1 314.0h1M269.4 317.2h1M252.9 331.7h1M258.7 320.6h1M261.4 325.1h1M269.1 319.5h1M252.2 311.9h1M250.2 329.9h1M265.3 313.6h1M263.0 322.2h1M264.5 313.8h1M263.8 312.9h1M265.6 323.1h1M262.5 310.9h1M253.3 306.6h1M264.5 327.4h1M259.3 327.5h1M258.3 306.3h1M273.6 317.9h1M258.3 332.6h1M248.5 313.3h1M263.6 326.7h1M250.9 329.7h1M249.4 333.3h1M251.8 325.9h1M272.4 321.6h1M255.5 336.0h1M256.5 337.0h1M259.1 312.0h1M267.5 319.6h1M260.3 309.7h1M267.6 317.1h1M255.6 319.7h1M261.5 308.8h1M256.8 317.0h1M252.7 318.6h1M270.5 332.1h1M258.8 316.4h1M249.3 326.2h1M256.5 322.5h1M260.6 323.2h1M261.8 328.1h1M254.2 319.7h1M256.8 302.6h1M268.5 334.0h1M251.3 324.1h1M255.1 325.0h1M269.3 317.1h1M265.1 322.5h1M250.9 322.1h1M264.9 329.3h1M262.3 321.7h1M267.5 326.7h1M261.6 335.0h1M255.1 326.4h1M247.8 329.9h1M258.0 320.0h1M256.3 316.6h1M258.3 328.7h1M254.1 322.1h1M259.1 312.4h1M263.7 323.5h1M260.4 327.7h1M264.7 335.3h1M261.8 320.4h1M265.6 324.9h1M255.9 315.9h1M266.5 321.3h1M258.3 321.5h1M267.8 318.9h1M259.8 311.3h1M267.8 315.5h1M250.6 326.1h1M257.8 317.9h1M246.2 320.8h1M258.6 313.2h1M264.6 314.1h1M263.6 312.4h1M262.2 315.2h1M266.8 308.3h1M268.7 316.5h1M260.0 330.9h1M252.1 324.3h1M265.6 326.5h1M257.7 307.6h1M255.4 311.5h1M270.2 328.3h1M259.8 317.9h1M252.4 320.9h1M246.1 332.3h1M253.5 323.0h1M276.7 323.9h1M251.5 322.3h1M264.9 319.0h1M246.3 326.0h1M262.1 329.4h1M260.2 320.4h1M271.2 326.1h1M258.5 319.8h1M270.4 316.1h1M257.6 316.5h1M249.0 332.4h1M248.8 318.6h1M261.9 328.8h1M252.7 317.1h1M264.1 326.9h1M257.3 317.6h1M267.6 318.8h1M250.9 324.6h1M264.3 312.4h1M266.9 314.8h1M263.1 325.4h1M264.4 316.8h1M257.8 318.6h1M270.2 318.3h1M261.1 326.9h1M258.5 330.0h1M254.5 321.2h1M264.0 326.4h1M264.6 326.1h1M260.2 321.7h1M261.9 322.8h1M265.5 319.6h1M272.6 327.9h1M257.3 321.3h1M257.9 327.6h1M260.7 323.1h1M258.8 323.0h1M252.4 322.6h1M264.3 322.7h1M270.2 315.2h1M262.1 334.2h1M272.4 332.5h1M264.0 317.3h1M255.4 333.4h1M248.8 321.4h1M267.4 323.6h1M261.1 317.1h1M251.0 323.1h1M263.9 324.6h1M260.5 323.4h1M257.3 328.0h1M247.5 328.0h1M267.2 324.7h1M254.1 324.3h1M264.2 316.5h1M265.6 328.5h1M259.9 322.2h1M264.4 321.7h1M262.2 327.1h1M261.3 321.3h1M258.1 322.3h1M253.2 328.8h1M248.4 328.8h1M255.4 317.7h1M269.2 336.7h1M255.6 321.8h1M256.2 312.4h1M252.1 316.5h1M267.1 317.7h1M255.2 324.7h1M266.5 329.6h1M253.8 310.6h1M250.1 317.9h1M263.3 322.0h1M265.8 324.0h1M255.5 325.0h1M250.8 320.5h1M243.9 329.2h1M258.3 330.1h1M259.9 319.0h1M258.6 323.9h1M265.1 320.3h1M256.7 323.1h1M271.1 323.1h1M270.0 311.9h1M249.9 326.0h1M266.5 329.0h1M260.7 329.7h1M251.9 323.2h1M256.5 323.1h1M249.9 326.9h1M260.4 315.7h1M251.1 327.5h1M265.7 327.8h1M256.8 311.4h1M261.9 313.8h1M265.0 314.0h1M265.4 317.0h1M268.9 319.9h1M266.8 314.9h1M264.4 324.6h1M261.9 321.8h1M262.0 311.9h1M254.0 328.4h1M252.6 340.1h1M261.1 319.9h1M267.6 322.6h1M261.6 311.6h1M262.0 332.1h1M254.0 320.5h1M260.1 320.0h1M268.1 325.4h1M264.2 321.6h1M255.4 318.3h1M245.1 330.2h1M257.3 313.4h1M259.0 329.6h1M262.3 315.6h1M268.9 321.4h1M249.9 321.1h1M257.3 316.1h1M254.9 326.0h1M251.2 322.6h1M254.1 322.0h1M268.4 326.3h1M259.1 317.1h1M265.8 319.6h1M262.1 320.2h1M265.5 332.3h1M258.5 321.0h1M274.9 319.7h1M263.3 314.1h1M268.6 329.8h1M255.4 319.1h1M270.3 322.4h1M259.9 330.2h1M258.7 317.7h1M259.2 317.9h1M255.8 306.4h1M266.7 317.7h1M258.5 328.2h1M252.5 322.1h1M267.3 322.2h1M261.6 316.9h1M260.6 314.8h1M251.0 320.8h1M272.6 317.0h1M269.2 313.1h1M263.7 319.4h1M272.2 328.1h1M261.4 322.5h1M270.3 313.9h1M266.4 325.4h1M266.3 324.1h1M254.6 314.9h1M261.5 321.3h1M265.7 320.2h1M266.1 323.4h1M258.5 322.3h1M259.8 320.6h1M258.0 330.1h1M263.2 327.9h1M268.5 304.5h1M259.7 326.3h1M265.9 325.9h1M266.8 331.6h1M267.7 333.7h1M264.0 322.7h1M262.1 329.9h1M259.0 316.7h1M249.8 329.3h1M257.5 321.8h1M257.8 319.3h1M253.7 330.7h1M275.3 318.7h1M249.4 326.4h1M248.8 313.6h1M261.2 329.1h1M266.4 316.1h1M254.8 335.5h1M274.4 314.2h1M253.7 326.2h1M264.0 320.7h1M265.3 316.1h1M255.5 328.6h1M253.9 317.3h1M248.2 322.3h1M259.4 318.9h1M272.8 322.1h1M261.7 327.0h1M251.1 330.1h1M264.1 325.1h1M266.9 323.8h1M257.0 318.9h1M259.0 326.3h1M258.3 328.4h1M261.8 326.3h1M259.6 312.9h1M272.7 320.2h1M259.5 317.3h1M271.1 309.0h1M250.3 324.2h1M273.5 320.1h1M263.4 313.2h1M255.2 319.1h1M264.7 331.3h1M268.6 329.2h1M264.5 318.3h1M259.1 312.3h1M260.4 322.2h1M264.8 324.2h1M263.6 327.9h1M254.1 316.0h1M253.7 317.6h1M260.8 324.4h1M263.5 331.5h1M264.0 331.4h1M258.4 318.7h1M265.4 313.2h1M253.5 319.4h1M263.9 324.9h1M259.8 310.1h1M268.6 315.5h1M266.6 321.1h1M263.3 320.7h1M266.4 332.8h1M254.4 327.5h1M268.0 328.2h1M259.4 320.3h1M266.5 324.8h1M264.6 321.9h1M262.9 330.6h1M262.6 322.2h1M264.6 318.7h1M270.5 323.5h1M252.7 319.9h1M249.2 321.8h1M244.8 311.1h1M260.2 319.2h1M263.8 319.4h1M258.8 321.7h1M258.9 321.1h1M253.7 329.5h1M254.5 326.5h1M249.9 319.5h1M255.7 314.8h1M262.9 325.8h1M260.5 302.0h1M262.1 324.6h1M265.4 313.8h1M250.6 329.5h1M268.9 316.1h1M250.4 330.0h1M257.3 321.0h1M257.4 325.9h1M257.0 320.5h1M270.9 323.6h1M261.1 327.4h1M262.4 315.8h1M250.7 327.7h1M257.5 321.0h1M275.5 325.3h1M261.0 329.2h1M259.6 305.6h1M261.1 329.7h1M257.8 318.5h1M264.2 335.1h1M260.0 330.1h1M261.8 315.4h1M258.1 328.3h1M263.1 327.0h1M253.7 321.5h1M261.1 315.1h1M258.5 323.0h1M268.3 326.9h1M251.5 325.6h1M255.6 318.0h1M260.8 320.9h1M256.5 317.8h1M263.5 325.2h1M264.6 318.3h1M260.6 311.1h1M262.6 328.5h1M262.1 317.0h1M258.1 325.8h1M259.0 305.1h1M263.2 316.1h1M254.7 318.5h1M262.0 322.9h1M261.3 321.3h1M270.8 322.0h1M259.2 309.8h1M256.4 311.8h1M276.0 320.9h1M260.5 315.6h1M246.7 323.3h1M269.2 317.3h1M253.4 322.1h1M257.3 325.1h1M264.5 318.4h1M261.3 311.8h1M255.9 324.3h1M260.7 320.3h1M265.8 322.2h1M255.1 323.7h1M263.3 322.0h1M273.1 319.4h1M267.2 327.4h1M260.0 322.9h1M265.3 320.0h1M265.2 323.5h1M246.5 326.7h1M254.4 318.7h1M266.9 322.8h1M248.2 326.5h1M260.0 326.2h1M271.0 320.6h1M262.6 318.7h1M273.4 323.2h1M260.7 317.0h1M269.9 319.3h1M243.8 320.2h1M264.4 329.9h1M271.3 313.3h1M263.7 330.7h1M264.6 323.5h1M249.8 322.8h1M266.0 309.5h1M256.4 324.9h1M272.0 321.0h1M258.8 323.6h1M256.6 324.0h1M262.2 331.0h1M258.6 324.4h1M263.9 322.0h1M261.7 323.5h1M257.8 315.7h1M270.5 318.7h1M264.4 311.4h1M267.4 330.3h1M268.3 312.9h1M264.3 331.7h1M261.8 324.6h1M257.0 325.5h1M265.4 326.7h1M260.2 321.2h1M252.5 315.3h1M264.9 321.7h1M266.7 326.8h1M257.3 317.6h1M265.1 319.1h1M265.0 313.5h1M252.2 326.0h1M248.9 317.5h1M259.0 322.9h1M264.3 336.2h1M266.7 331.1h1M259.3 324.6h1M254.8 309.6h1M266.5 317.2h1M255.8 321.1h1M260.0 318.3h1M269.4 318.1h1M253.4 323.9h1M255.9 326.6h1M265.9 323.8h1M257.0 317.1h1M266.5 316.0h1M257.0 315.5h1M260.9 316.4h1M263.5 325.3h1M268.9 320.4h1M242.7 318.9h1M268.6 316.6h1M255.9 321.8h1M260.6 323.1h1M268.7 328.3h1M260.2 318.7h1M258.2 327.6h1M270.0 323.3h1M264.2 311.4h1M255.0 318.1h1M274.5 326.2h1M264.7 322.1h1M258.5 323.8h1M255.4 318.0h1M268.9 326.2h1M263.5 325.4h1M264.6 323.6h1M267.0 330.4h1M272.9 313.7h1M266.5 317.3h1M257.5 319.9h1M267.1 323.2h1M260.0 324.0h1M256.9 321.7h1M261.2 330.5h1M258.4 315.2h1M256.8 329.5h1M266.8 324.0h1M253.8 322.7h1M267.3 314.8h1M260.2 323.2h1M248.6 314.7h1M268.0 314.1h1M268.3 314.8h1M263.4 323.8h1M264.5 308.0h1M266.2 328.8h1M275.5 315.8h1M265.6 322.2h1M273.6 307.1h1M275.6 312.9h1M270.2 299.1h1M275.6 304.3h1M284.7 315.6h1M275.3 312.4h1M264.3 311.8h1M277.1 307.9h1M265.1 315.4h1M261.9 321.1h1M302.1 291.8h1M258.7 317.1h1M275.6 314.5h1M253.5 327.4h1M267.1 308.3h1M272.3 313.2h1M285.2 296.1h1M263.8 309.9h1M285.6 292.9h1M276.1 307.8h1M307.1 299.8h1M262.4 313.4h1M283.8 311.0h1M266.7 316.7h1M268.2 312.9h1M279.9 303.6h1M274.8 326.0h1M271.4 324.7h1M258.8 319.8h1M277.1 314.0h1M258.0 331.4h1M289.7 313.2h1M270.5 315.9h1M288.7 304.5h1M276.9 310.5h1M275.9 307.2h1M256.4 323.8h1M280.5 305.4h1M298.8 303.4h1M282.1 308.5h1M281.6 310.5h1M275.9 317.3h1M256.9 314.9h1M246.4 324.4h1M266.5 327.4h1M293.5 311.1h1M274.0 307.7h1M285.8 305.9h1M292.8 301.2h1M306.0 299.7h1M263.6 303.7h1M288.2 309.3h1M270.9 306.7h1M280.0 312.1h1M277.4 307.8h1M277.5 303.0h1M276.6 316.2h1M287.3 310.4h1M259.4 311.3h1M277.1 313.4h1M267.6 308.9h1M253.2 316.4h1M276.3 310.5h1M281.9 307.6h1M297.5 302.9h1M274.1 308.1h1M279.1 305.8h1M271.9 308.7h1M277.5 306.7h1M269.0 326.3h1M266.8 325.9h1M265.5 311.6h1M281.8 304.4h1M259.1 324.0h1M264.4 309.8h1M256.3 329.0h1M277.6 310.4h1M274.6 310.7h1M295.9 295.0h1M278.7 309.6h1M275.0 318.8h1M284.3 303.7h1M286.2 299.6h1M300.4 288.0h1M277.9 303.2h1M282.0 302.4h1M253.7 312.6h1M281.2 304.3h1M289.0 296.8h1M285.2 310.6h1M285.1 307.3h1M275.5 313.7h1M269.0 317.9h1M272.1 301.5h1M261.8 315.5h1M272.8 310.0h1M277.8 316.7h1M289.8 298.0h1M270.1 306.5h1M252.3 326.3h1M289.5 307.5h1M294.3 297.9h1M274.0 310.3h1M278.5 312.1h1M264.3 313.9h1M271.2 305.4h1M273.4 315.8h1M274.3 308.1h1M280.5 302.1h1M271.4 297.1h1M284.9 309.7h1M282.8 307.8h1M261.9 320.7h1M278.3 318.4h1M268.9 320.2h1M270.4 323.3h1M263.8 324.7h1M284.8 309.3h1M280.5 315.7h1M261.8 314.5h1M280.1 303.5h1M283.7 303.9h1M276.0 306.4h1M288.2 305.0h1M276.4 318.3h1M258.8 317.3h1M264.5 331.9h1M273.6 303.2h1M281.5 312.6h1M260.3 320.3h1M273.7 308.1h1M274.4 310.7h1M269.1 311.7h1M264.9 315.1h1M264.6 303.9h1M301.5 298.9h1M283.7 318.4h1M289.8 309.3h1M266.5 326.7h1M277.6 307.4h1M287.7 313.8h1M284.1 306.6h1M272.4 315.6h1M277.0 304.6h1M265.0 318.9h1M295.4 296.0h1M248.9 321.4h1M288.1 305.9h1M274.5 311.0h1M250.0 329.8h1M273.9 309.4h1M291.0 297.5h1M294.3 314.6h1M270.4 319.7h1M295.7 298.0h1M264.7 317.2h1M278.2 317.9h1M299.0 300.2h1M286.8 297.1h1M269.6 323.6h1M300.2 313.4h1M259.7 322.9h1M281.0 317.0h1M275.0 301.2h1M286.3 314.4h1M269.0 302.7h1M271.9 314.6h1M249.5 345.6h1M276.4 301.4h1M270.3 308.8h1M286.7 295.8h1M278.2 305.7h1M256.1 323.5h1M275.3 329.9h1M268.4 333.0h1M289.3 308.6h1M254.5 314.7h1M279.5 315.0h1M271.5 311.8h1M282.7 295.9h1M258.0 318.7h1M260.8 303.4h1M277.4 308.8h1M279.6 311.4h1M273.3 325.6h1M290.8 307.1h1M268.8 316.2h1M246.7 320.8h1M264.7 302.5h1M287.4 310.1h1M255.1 329.5h1M288.7 297.3h1M278.3 305.1h1M270.9 301.1h1M284.3 317.0h1M246.9 332.2h1M286.2 312.6h1M271.6 296.6h1M263.0 315.0h1M297.0 288.1h1M296.8 290.8h1M291.8 306.1h1M271.8 313.1h1M284.8 315.6h1M287.6 301.8h1M286.4 306.5h1M276.1 315.1h1M278.3 317.7h1M269.8 316.1h1M289.2 303.2h1M288.5 295.0h1M296.4 297.0h1M275.9 305.2h1M277.5 315.4h1M283.4 305.1h1M280.0 307.6h1M302.5 293.5h1M275.0 316.3h1M293.0 301.0h1M288.2 306.6h1M284.4 307.8h1M272.5 313.3h1M282.1 312.7h1M271.4 318.3h1M272.1 302.2h1M290.0 323.2h1M282.2 323.2h1M277.0 304.5h1M274.0 312.3h1M260.7 305.0h1M279.1 299.8h1M262.5 311.0h1M259.9 326.7h1M280.2 306.8h1M277.3 314.8h1M274.9 306.2h1M279.7 309.0h1M271.8 305.7h1M262.4 324.7h1M278.1 313.3h1M272.8 308.8h1M277.1 303.2h1M271.6 303.9h1M252.8 325.3h1M268.5 311.0h1M262.7 315.6h1M273.9 307.1h1M274.5 315.5h1M289.0 302.2h1M277.2 316.0h1M280.9 313.5h1M263.9 309.3h1M291.9 306.6h1M273.5 312.6h1M261.1 323.1h1M275.9 318.2h1M288.7 315.3h1M286.3 313.3h1M288.0 311.5h1M278.9 310.2h1M275.4 314.2h1M262.9 322.1h1M273.0 302.0h1M244.4 299.4h1M270.6 292.6h1M265.1 287.6h1M264.9 294.8h1M258.1 297.6h1M262.8 285.4h1M240.2 291.2h1M261.2 276.4h1M263.2 283.3h1M249.9 303.3h1M245.6 287.0h1M252.0 296.6h1M246.7 296.9h1M232.7 279.8h1M251.3 289.5h1M259.1 295.0h1M250.8 290.6h1M255.7 311.3h1M263.2 267.8h1M249.6 295.4h1M258.5 281.4h1M251.1 287.4h1M246.4 306.4h1M245.8 300.9h1M258.1 298.8h1M259.4 298.6h1M260.4 286.3h1M244.1 316.8h1M260.3 270.5h1M251.0 294.4h1M242.4 301.0h1M244.0 293.8h1M251.8 294.1h1M254.8 287.5h1M247.9 296.8h1M240.6 296.2h1M241.3 288.6h1M248.4 287.7h1M257.4 280.5h1M251.1 294.0h1M249.6 312.6h1M261.3 263.3h1M241.7 297.2h1M253.0 286.6h1M258.6 298.1h1M259.5 304.3h1M249.2 286.5h1M265.9 284.6h1M263.2 286.2h1M248.9 320.5h1M250.7 289.6h1M250.1 283.3h1M242.9 302.3h1M264.9 290.6h1M258.0 304.0h1M251.1 296.9h1M249.2 289.2h1M260.9 291.7h1M254.8 276.7h1M258.4 305.4h1M252.3 303.5h1M249.5 296.5h1M257.8 298.3h1M258.5 304.4h1M250.6 305.9h1M248.5 292.5h1M256.2 293.4h1M240.7 279.7h1M255.4 299.2h1M247.2 334.6h1M246.6 334.6h1M254.7 336.1h1M243.3 334.2h1M252.6 337.5h1M250.1 325.9h1M251.1 337.6h1M246.6 322.0h1M246.7 336.3h1M244.4 332.1h1M242.3 330.6h1M244.0 344.9h1M249.8 326.0h1M263.3 338.0h1M250.1 347.7h1M253.5 342.1h1M250.1 330.1h1M250.4 337.4h1M262.6 334.2h1M252.0 324.6h1M236.6 345.9h1M238.4 328.9h1M246.2 340.5h1M253.4 337.2h1M237.4 331.4h1M235.9 334.8h1M238.9 327.0h1M253.4 335.3h1M246.9 344.4h1M246.1 332.0h1M250.5 333.1h1M251.4 328.8h1M238.5 330.4h1M253.8 348.4h1M249.2 340.1h1M244.0 336.1h1M243.7 326.1h1M246.1 345.7h1M240.5 339.5h1M248.0 334.7h1M246.0 337.6h1M244.0 329.9h1M251.3 335.9h1M246.3 322.0h1M253.3 349.0h1M239.1 342.5h1M242.5 342.7h1M253.1 329.1h1M243.0 340.0h1M254.2 334.8h1M247.3 328.0h1M256.6 334.2h1M241.0 322.7h1M251.0 332.1h1M243.4 321.8h1M253.7 327.9h1M254.0 341.3h1M239.5 336.0h1M247.9 339.2h1M251.4 339.4h1M257.1 328.6h1M247.8 319.5h1M236.2 327.8h1M254.8 345.6h1M236.9 324.7h1M248.4 333.5h1M256.1 339.5h1M232.3 327.6h1M249.0 323.1h1M241.1 333.9h1M246.9 333.8h1M257.2 330.5h1M248.1 332.8h1M250.7 323.7h1M244.6 342.6h1M242.1 325.1h1M259.5 347.7h1M255.3 338.2h1M246.8 327.8h1M239.1 275.3h1M284.9 314.6h1M240.8 343.5h1M230.3 280.5h1M238.4 323.9h1M320.9 321.8h1M259.6 277.7h1" stroke="#000" stroke-width="1" stroke-opacity="0.35" fill="none"/>
<path d="M258.0 327.4h1M259.5 323.4h1M262.2 309.4h1M248.1 323.0h1M248.6 328.1h1M268.0 327.8h1M258.6 325.1h1M258.7 324.9h1M243.7 314.6h1M254.5 327.4h1M272.1 320.8h1M258.4 324.0h1M259.2 322.8h1M258.8 317.0h1M260.2 322.6h1M262.1 334.9h1M245.1 327.8h1M258.2 331.2h1M251.5 329.1h1M257.4 328.6h1M265.7 324.2h1M272.8 312.3h1M263.4 318.4h1M262.0 324.8h1M255.6 326.8h1M250.5 314.7h1M268.2 315.5h1M267.6 335.2h1M270.6 316.0h1M256.1 313.8h1M254.7 322.2h1M264.5 327.5h1M255.4 316.7h1M268.3 324.5h1M268.8 317.4h1M254.7 326.8h1M259.0 319.5h1M265.9 324.4h1M254.3 318.1h1M274.1 315.5h1M260.7 323.4h1M270.3 316.6h1M267.6 315.2h1M272.3 322.8h1M260.8 318.9h1M263.9 321.2h1M244.4 309.8h1M251.1 329.1h1M261.3 322.3h1M255.0 315.8h1M264.8 312.6h1M277.1 312.8h1M262.2 306.5h1M263.7 322.7h1M271.4 316.1h1M252.9 324.8h1M263.0 330.2h1M261.7 321.0h1M259.3 311.8h1M266.3 320.5h1M276.7 313.5h1M249.2 315.4h1M257.5 316.9h1M256.8 332.7h1M266.8 321.2h1M254.7 321.3h1M252.8 324.3h1M259.9 321.1h1M256.5 307.3h1M266.2 300.3h1M263.2 314.0h1M256.3 328.8h1M260.9 324.6h1M271.0 321.0h1M258.9 332.6h1M260.1 313.7h1M264.5 317.1h1M258.5 326.4h1M256.5 317.9h1M251.1 322.6h1M247.3 325.4h1M259.0 319.9h1M259.4 315.0h1M259.3 323.7h1M261.4 331.0h1M261.2 315.1h1M264.4 324.2h1M260.5 318.6h1M259.0 320.1h1M251.6 309.6h1M270.9 308.7h1M260.0 331.9h1M260.4 328.5h1M264.7 319.0h1M264.6 317.0h1M253.1 321.7h1M273.6 325.8h1M253.7 313.9h1M257.8 319.7h1M252.6 326.4h1M264.6 323.7h1M252.2 325.3h1M259.2 331.7h1M253.3 320.6h1M262.1 320.0h1M255.1 330.3h1M275.0 315.2h1M259.5 328.6h1M260.7 316.9h1M258.4 319.9h1M259.6 323.2h1M264.8 327.0h1M264.8 322.7h1M265.4 317.4h1M265.0 324.7h1M257.8 340.1h1M266.0 316.7h1M273.1 314.2h1M255.2 326.2h1M260.5 318.4h1M270.0 325.9h1M260.6 321.9h1M265.8 314.4h1M252.0 322.5h1M248.5 319.7h1M250.9 320.3h1M262.1 321.0h1M255.4 336.9h1M267.7 325.4h1M260.9 331.2h1M259.8 319.8h1M253.5 338.4h1M263.9 327.5h1M272.9 316.6h1M265.1 299.3h1M266.8 324.5h1M265.6 321.5h1M256.4 324.7h1M262.1 316.0h1M262.5 327.1h1M265.0 323.2h1M265.0 317.4h1M249.6 319.2h1M266.4 312.7h1M265.7 319.1h1M255.4 327.3h1M259.0 323.3h1M276.2 321.1h1M254.0 318.8h1M265.0 324.7h1M252.7 331.0h1M263.7 311.4h1M262.7 321.4h1M264.0 321.2h1M264.9 318.9h1M259.4 318.4h1M264.9 316.9h1M253.4 321.0h1M266.3 325.8h1M254.9 316.9h1M253.0 313.7h1M254.0 328.9h1M259.0 320.7h1M268.2 331.2h1M258.1 321.3h1M254.0 329.9h1M264.8 324.0h1M246.4 324.7h1M249.4 326.8h1M258.6 329.9h1M248.3 311.5h1M260.8 321.2h1M259.7 324.7h1M252.8 325.1h1M260.2 320.5h1M256.1 316.1h1M267.5 317.3h1M266.9 318.3h1M256.5 328.0h1M273.9 320.4h1M271.2 329.5h1M259.9 327.3h1M257.9 328.2h1M269.3 323.8h1M259.1 319.4h1M262.8 327.1h1M262.1 309.6h1M255.8 332.3h1M259.7 323.7h1M275.7 324.1h1M267.6 315.4h1M265.9 316.3h1M269.1 325.8h1M251.7 330.2h1M257.7 319.6h1M260.4 334.7h1M256.2 313.5h1M267.1 320.0h1M249.7 328.9h1M261.8 323.2h1M256.2 319.2h1M255.5 311.4h1M250.7 330.8h1M265.0 322.9h1M265.5 322.7h1M267.9 326.9h1M267.2 325.5h1M250.4 318.4h1M275.5 316.0h1M270.8 316.4h1M273.8 322.5h1M248.3 314.2h1M246.5 331.2h1M261.8 325.7h1M254.4 332.6h1M261.5 324.4h1M257.6 321.7h1M260.0 314.1h1M255.7 333.0h1M265.4 326.8h1M262.2 312.3h1M248.1 327.9h1M266.3 330.4h1M266.9 319.4h1M240.7 326.5h1M266.6 315.2h1M266.4 316.4h1M255.3 322.7h1M263.9 325.8h1M257.0 327.6h1M276.4 327.9h1M265.2 315.2h1M268.1 323.4h1M267.5 315.5h1M262.6 321.5h1M267.9 325.6h1M254.5 328.1h1M271.2 335.4h1M257.1 316.6h1M259.7 325.8h1M263.9 321.9h1M273.8 320.9h1M253.8 325.5h1M252.2 329.7h1M267.6 328.4h1M259.8 319.5h1M264.0 315.0h1M272.1 313.8h1M257.7 325.4h1M268.8 317.1h1M254.8 335.2h1M261.5 315.5h1M274.2 306.9h1M252.0 321.9h1M272.1 323.6h1M251.0 332.2h1M259.4 329.4h1M266.2 324.4h1M254.4 328.9h1M264.2 322.2h1M256.8 312.8h1M261.4 323.5h1M260.4 324.1h1M254.6 316.3h1M265.4 321.5h1M260.7 315.6h1M265.9 321.7h1M258.9 324.1h1M252.7 329.6h1M271.2 324.3h1M271.1 329.3h1M267.7 315.9h1M259.8 314.4h1M260.9 320.6h1M255.8 325.1h1M263.9 325.1h1M286.6 318.9h1M262.4 314.4h1M268.2 304.5h1M263.7 315.7h1M265.8 321.1h1M260.3 320.4h1M255.6 330.6h1M263.6 325.1h1M259.6 322.6h1M270.0 315.7h1M251.9 310.9h1M264.1 327.1h1M261.1 321.6h1M266.5 326.9h1M264.3 309.8h1M260.0 328.4h1M265.9 324.7h1M256.1 321.5h1M267.8 318.7h1M269.1 334.7h1M257.8 328.4h1M253.7 320.0h1M254.3 327.6h1M252.3 323.9h1M265.1 322.6h1M267.7 317.2h1M254.5 319.1h1M249.6 326.7h1M253.0 316.7h1M265.2 325.0h1M266.5 321.0h1M253.6 326.7h1M251.7 331.2h1M259.4 312.3h1M266.8 320.7h1M268.8 312.2h1M257.6 320.4h1M258.4 323.5h1M258.2 329.9h1M257.4 318.8h1M263.9 328.5h1M261.1 319.0h1M251.8 313.3h1M263.9 332.5h1M254.0 322.9h1M269.2 316.1h1M267.9 327.5h1M259.9 320.1h1M264.8 316.2h1M267.4 329.3h1M253.0 331.5h1M259.0 326.9h1M263.4 323.3h1M256.6 320.7h1M265.0 320.5h1M261.8 330.9h1M260.3 320.6h1M266.6 312.5h1M267.0 317.5h1M267.4 318.0h1M272.2 319.8h1M260.6 324.8h1M260.2 317.2h1M255.8 325.3h1M261.3 323.9h1M263.2 323.7h1M266.8 331.5h1M260.5 326.6h1M260.0 314.4h1M259.2 312.1h1M251.5 332.8h1M263.4 317.5h1M255.9 315.7h1M257.7 321.0h1M256.0 315.7h1M262.2 336.2h1M273.1 320.8h1M267.4 329.4h1M257.2 334.0h1M251.3 332.3h1M257.2 320.5h1M269.1 319.1h1M258.2 323.3h1M258.1 326.2h1M273.1 298.8h1M267.7 322.0h1M253.2 321.9h1M260.8 324.2h1M264.6 310.2h1M262.9 322.1h1M256.9 323.0h1M258.9 321.5h1M264.7 313.9h1M263.5 317.5h1M259.8 318.6h1M263.0 325.4h1M262.6 327.1h1M265.9 327.8h1M244.3 323.3h1M264.3 318.1h1M257.0 325.7h1M249.7 322.7h1M255.7 325.1h1M263.8 320.5h1M265.2 325.5h1M261.4 323.3h1M263.0 323.1h1M261.9 319.7h1M248.1 317.3h1M274.4 320.5h1M248.5 323.2h1M258.1 316.7h1M265.1 326.9h1M261.7 326.7h1M263.9 312.2h1M252.8 329.9h1M250.8 322.6h1M268.2 308.0h1M260.0 322.3h1M256.2 330.9h1M264.0 314.7h1M268.1 321.7h1M251.8 327.3h1M255.2 325.2h1M258.0 328.9h1M264.7 317.9h1M262.3 317.5h1M252.0 320.1h1M253.6 314.4h1M256.3 324.7h1M259.1 321.1h1M245.5 338.8h1M260.9 321.3h1M258.2 321.1h1M260.7 325.9h1M252.1 331.0h1M267.4 321.9h1M270.3 323.6h1M272.3 335.3h1M261.8 323.8h1M257.4 320.8h1M257.6 327.9h1M272.8 316.2h1M271.6 317.1h1M260.6 325.4h1M256.4 315.9h1M268.3 302.0h1M273.9 323.8h1M247.4 326.9h1M271.8 325.4h1M247.3 316.6h1M262.2 321.3h1M269.4 313.1h1M258.0 317.6h1M256.6 320.7h1M265.6 315.1h1M271.8 319.7h1M275.3 324.1h1M255.0 326.5h1M265.7 320.2h1M254.4 333.7h1M259.4 323.9h1M246.1 326.0h1M252.7 324.1h1M257.7 322.0h1M263.9 314.5h1M260.9 320.5h1M252.8 327.1h1M259.0 315.8h1M260.2 309.2h1M267.4 322.4h1M258.2 320.9h1M254.5 318.2h1M261.8 329.8h1M263.2 317.7h1M260.7 333.4h1M269.4 319.1h1M257.4 316.5h1M251.9 322.9h1M257.1 328.2h1M261.4 329.4h1M259.4 320.0h1M257.3 314.1h1M257.4 329.5h1M255.9 310.9h1M260.1 313.4h1M262.5 321.3h1M265.6 318.1h1M247.0 326.5h1M250.9 324.5h1M253.9 320.8h1M259.1 318.3h1M253.7 324.0h1M266.3 323.1h1M254.8 313.9h1M262.5 325.1h1M256.1 312.9h1M265.0 307.0h1M260.3 318.3h1M266.4 319.6h1M259.7 322.3h1M257.3 327.4h1M262.2 332.3h1M266.3 324.3h1M255.5 327.0h1M259.4 321.4h1M270.9 333.1h1M258.0 326.6h1M258.8 315.6h1M266.3 322.6h1M263.0 322.0h1M248.1 325.8h1M264.6 325.7h1M257.0 327.6h1M263.4 329.7h1M260.9 319.1h1M257.3 319.4h1M250.9 326.9h1M254.0 320.4h1M257.2 329.9h1M257.5 331.1h1M259.0 323.8h1M265.7 326.0h1M260.6 307.7h1M264.9 324.7h1M262.8 336.8h1M250.6 316.8h1M245.4 328.4h1M260.3 324.1h1M257.2 311.8h1M270.3 327.4h1M249.1 334.8h1M262.7 318.5h1M256.5 308.4h1M250.9 320.9h1M254.2 334.9h1M278.4 310.7h1M272.3 321.5h1M294.6 308.1h1M265.3 311.8h1M284.7 301.7h1M272.9 308.6h1M282.6 313.0h1M267.9 317.0h1M269.2 308.0h1M271.6 319.0h1M279.4 320.1h1M283.3 304.8h1M273.9 305.3h1M294.7 326.7h1M272.8 307.2h1M273.1 305.7h1M278.5 312.0h1M282.1 301.3h1M275.1 318.2h1M278.5 319.2h1M273.5 305.0h1M253.1 331.8h1M287.4 295.8h1M261.7 320.7h1M271.7 321.0h1M286.4 298.3h1M271.5 319.0h1M284.1 299.0h1M275.3 312.7h1M269.3 313.1h1M282.2 315.3h1M264.7 322.0h1M279.5 307.6h1M276.1 302.8h1M284.0 304.5h1M273.1 306.1h1M268.2 307.3h1M290.1 305.0h1M278.5 303.9h1M270.9 309.9h1M271.1 315.0h1M282.3 310.3h1M298.3 311.5h1M287.6 298.9h1M275.5 302.6h1M283.4 298.3h1M274.5 296.4h1M267.4 317.0h1M259.3 318.2h1M278.3 316.2h1M295.3 290.8h1M281.3 314.6h1M277.7 322.2h1M262.3 313.9h1M269.1 303.0h1M268.7 311.6h1M289.6 296.6h1M290.4 312.9h1M263.2 316.9h1M267.1 322.8h1M278.5 315.1h1M279.3 306.9h1M284.3 304.4h1M274.5 308.3h1M272.2 316.8h1M277.1 296.3h1M272.2 304.1h1M263.5 321.6h1M269.8 315.8h1M270.1 307.7h1M287.9 305.3h1M279.0 303.8h1M265.6 316.8h1M255.2 308.6h1M272.6 308.2h1M269.5 310.2h1M266.7 329.1h1M269.2 314.0h1M276.6 308.1h1M273.3 303.1h1M274.8 315.1h1M293.0 298.4h1M276.3 320.4h1M275.7 308.9h1M255.0 316.4h1M276.6 315.4h1M288.0 319.1h1M283.6 304.9h1M287.5 306.1h1M257.4 324.0h1M281.7 314.3h1M274.3 313.6h1M292.8 303.8h1M286.1 318.5h1M267.9 321.3h1M281.8 307.9h1M276.7 310.1h1M285.4 304.2h1M281.8 311.3h1M281.2 310.4h1M291.4 311.6h1M269.2 318.0h1M284.1 308.6h1M278.7 306.3h1M281.1 302.1h1M284.4 306.6h1M243.8 312.9h1M280.0 308.4h1M268.2 325.1h1M283.1 306.4h1M289.6 303.2h1M259.7 310.8h1M271.6 317.8h1M275.3 312.1h1M289.4 308.2h1M281.7 300.9h1M295.6 300.2h1M262.0 318.1h1M268.9 312.4h1M274.8 310.2h1M266.9 315.9h1M282.8 306.7h1M279.4 317.0h1M288.3 307.1h1M274.6 318.2h1M284.6 309.7h1M278.3 303.8h1M279.9 315.1h1M286.3 290.9h1M288.4 308.9h1M253.5 321.5h1M280.0 303.5h1M254.0 330.5h1M262.1 316.1h1M285.8 296.7h1M275.5 303.4h1M279.1 317.2h1M281.9 307.1h1M264.9 316.0h1M278.4 311.2h1M287.7 310.5h1M276.9 312.6h1M257.8 322.3h1M299.3 301.7h1M279.4 315.3h1M268.6 294.7h1M276.9 304.9h1M289.7 307.8h1M297.2 306.9h1M261.0 313.9h1M287.2 298.4h1M250.5 330.7h1M276.1 313.0h1M273.9 309.5h1M280.2 304.9h1M298.6 303.0h1M268.5 305.7h1M279.1 316.7h1M274.0 306.3h1M256.1 325.3h1M270.9 318.2h1M289.3 310.8h1M274.2 316.2h1M285.4 311.7h1M276.7 301.6h1M277.9 306.9h1M256.3 325.4h1M270.9 313.2h1M263.5 322.6h1M284.6 306.9h1M269.4 317.6h1M271.4 319.1h1M278.3 307.4h1M290.3 298.9h1M266.7 305.8h1M250.7 319.4h1M287.4 303.5h1M285.0 301.6h1M270.6 317.0h1M260.7 321.6h1M273.1 312.5h1M278.8 312.8h1M251.1 327.9h1M297.5 300.9h1M292.1 310.9h1M254.0 327.9h1M261.9 328.8h1M263.4 316.5h1M284.4 315.2h1M260.3 325.3h1M265.3 312.2h1M274.0 307.6h1M279.3 304.4h1M291.7 304.1h1M268.4 310.0h1M284.9 302.1h1M281.7 308.7h1M275.1 324.4h1M269.9 310.7h1M277.5 313.6h1M285.6 300.2h1M300.6 304.6h1M273.8 318.8h1M291.3 295.0h1M262.6 320.1h1M282.5 310.2h1M281.7 307.2h1M278.1 309.7h1M276.9 318.7h1M304.4 290.4h1M283.5 306.2h1M278.6 306.2h1M291.6 295.7h1M287.3 307.5h1M260.1 315.5h1M258.0 318.1h1M267.0 326.6h1M289.5 304.8h1M280.4 311.8h1M265.0 318.4h1M275.9 302.0h1M276.9 309.4h1M294.4 295.6h1M280.1 313.1h1M276.6 317.2h1M266.1 317.1h1M293.7 306.2h1M285.4 303.1h1M280.8 305.5h1M258.7 312.9h1M269.4 311.4h1M282.7 317.5h1M273.8 309.3h1M295.9 303.5h1M281.0 314.4h1M280.8 309.0h1M273.5 313.4h1M272.6 324.5h1M266.0 302.5h1M286.4 307.6h1M283.3 314.7h1M280.6 307.8h1M248.1 327.5h1M287.5 318.1h1M271.5 322.6h1M252.1 330.0h1M257.3 305.1h1M283.9 315.3h1M271.1 319.8h1M266.3 313.5h1M284.5 306.9h1M256.0 309.7h1M286.6 308.4h1M272.8 310.6h1M270.7 317.7h1M280.6 295.7h1M257.2 324.0h1M261.4 321.0h1M293.7 318.8h1M260.2 318.8h1M273.7 318.1h1M266.5 311.4h1M265.1 322.9h1M265.2 321.3h1M275.8 316.8h1M277.8 313.4h1M283.3 307.4h1M265.5 321.4h1M269.0 314.7h1M259.8 324.9h1M274.1 314.8h1M279.9 295.0h1M267.1 309.3h1M283.1 317.6h1M281.8 317.7h1M248.4 291.8h1M253.5 290.7h1M261.0 304.9h1M250.5 287.4h1M256.0 305.4h1M252.4 298.0h1M253.5 292.0h1M253.3 295.2h1M253.7 300.1h1M260.8 305.0h1M262.4 298.4h1M247.7 304.9h1M235.7 298.0h1M248.9 300.1h1M254.8 291.3h1M244.3 283.1h1M242.7 308.3h1M258.5 295.2h1M238.8 289.9h1M253.4 285.0h1M259.7 295.0h1M258.0 298.0h1M255.0 311.2h1M242.3 276.3h1M241.4 301.7h1M244.7 272.8h1M257.0 310.2h1M244.0 287.2h1M265.5 292.6h1M254.1 283.5h1M243.9 296.0h1M261.0 285.0h1M272.8 292.6h1M249.2 298.1h1M247.4 302.6h1M261.3 285.7h1M255.0 280.6h1M253.6 281.0h1M259.9 282.2h1M262.4 304.1h1M268.2 291.1h1M242.4 317.1h1M258.3 317.4h1M255.5 296.8h1M273.5 297.9h1M243.3 281.8h1M250.3 307.0h1M276.5 294.0h1M251.2 302.4h1M246.8 299.4h1M250.3 299.0h1M259.1 293.6h1M247.4 297.6h1M254.6 282.0h1M260.2 306.0h1M235.4 329.1h1M250.9 348.7h1M237.4 336.0h1M255.3 333.2h1M244.2 336.3h1M243.0 334.5h1M249.1 333.6h1M246.6 334.3h1M235.4 331.8h1M248.2 333.8h1M237.9 329.8h1M243.3 347.4h1M244.5 334.8h1M251.9 327.2h1M237.9 339.2h1M251.0 330.3h1M244.2 330.0h1M257.6 334.7h1M232.5 333.1h1M240.7 337.4h1M245.1 339.8h1M242.1 344.1h1M246.0 331.8h1M241.4 334.8h1M236.3 334.2h1M246.0 325.4h1M250.7 324.9h1M244.2 323.0h1M251.2 337.2h1M244.9 335.9h1M231.1 338.5h1M247.1 341.1h1M244.3 334.4h1M256.1 344.5h1M248.8 337.4h1M253.3 334.5h1M245.9 334.8h1M239.2 331.4h1M252.1 338.4h1M238.6 321.6h1M263.0 344.1h1M251.7 325.2h1M241.4 344.3h1M249.2 325.2h1M255.1 331.3h1M247.6 335.6h1M239.9 335.8h1M248.4 318.3h1M256.9 335.8h1M238.5 328.8h1M241.0 328.4h1M256.6 334.9h1M258.1 333.5h1M247.7 333.0h1M247.3 339.4h1M252.9 338.0h1M250.9 344.4h1M242.9 333.4h1M252.4 334.9h1M247.7 320.9h1M253.5 337.3h1M253.7 344.2h1M235.9 321.3h1M250.9 339.9h1M254.1 326.2h1M243.5 329.6h1M229.0 320.7h1M244.9 318.4h1M238.4 343.2h1M240.1 338.2h1M246.8 332.2h1M247.2 344.2h1M256.1 344.9h1M253.0 318.1h1M246.4 347.7h1M253.8 339.1h1M253.1 344.2h1M240.1 334.8h1M239.2 340.2h1M241.1 328.1h1M250.4 320.9h1M251.8 344.5h1M260.1 329.9h1M258.5 337.5h1M227.4 336.8h1M246.8 339.8h1M281.1 276.3h1M271.2 284.3h1M302.6 321.0h1M268.8 277.5h1M263.5 318.7h1M225.3 317.8h1M270.4 301.6h1M311.9 309.5h1M257.4 318.3h1M242.1 324.1h1M231.3 309.8h1M288.5 315.6h1M248.5 288.8h1M281.4 270.5h1M268.0 320.3h1M226.5 287.2h1M287.2 288.7h1M289.0 303.2h1M260.9 333.8h1" stroke="#000" stroke-width="1" stroke-opacity="0.6" fill="none"/>
<path d="M263.3 322.8h1M258.3 327.3h1M263.8 325.0h1M267.4 332.4h1M259.4 327.5h1M260.8 321.6h1M250.3 322.2h1M271.1 330.5h1M263.1 321.3h1M256.8 323.1h1M258.1 325.3h1M247.9 328.4h1M267.8 324.4h1M259.2 327.1h1M270.5 332.6h1M259.0 326.0h1M262.0 308.4h1M255.0 315.1h1M263.3 309.1h1M268.0 323.3h1M258.8 313.0h1M255.8 321.0h1M264.2 328.3h1M243.9 331.1h1M260.4 316.9h1M265.2 323.0h1M264.3 318.8h1M278.4 327.2h1M260.8 314.2h1M256.4 324.8h1M265.8 309.4h1M259.6 321.6h1M264.8 319.4h1M271.5 314.0h1M260.4 326.4h1M259.1 320.2h1M264.3 325.4h1M265.9 327.1h1M265.8 320.9h1M269.2 308.7h1M258.8 321.9h1M258.0 311.2h1M252.9 326.6h1M271.2 314.8h1M260.9 321.9h1M260.7 323.0h1M250.0 322.9h1M251.0 335.9h1M269.4 320.8h1M263.1 330.0h1M252.4 332.5h1M263.5 323.8h1M268.3 328.9h1M258.9 327.8h1M251.1 315.9h1M264.3 320.7h1M263.3 322.4h1M260.3 320.5h1M264.8 320.7h1M258.7 315.2h1M259.1 325.6h1M257.9 325.9h1M267.9 330.0h1M255.1 323.0h1M260.7 310.8h1M258.6 339.9h1M258.7 327.9h1M262.0 336.7h1M259.5 322.7h1M259.8 329.5h1M268.7 330.7h1M258.7 325.4h1M264.1 321.4h1M266.8 313.7h1M272.5 323.3h1M260.4 320.5h1M265.3 326.1h1M256.8 320.9h1M256.1 320.1h1M259.7 312.6h1M265.9 325.6h1M256.7 328.1h1M250.8 325.9h1M263.3 319.4h1M263.5 326.8h1M254.7 324.6h1M260.3 323.3h1M264.2 315.6h1M268.9 324.1h1M271.2 321.4h1M261.6 319.5h1M260.4 330.4h1M265.7 329.7h1M254.0 331.7h1M252.7 314.9h1M262.8 323.8h1M265.1 313.9h1M255.1 323.4h1M254.9 326.2h1M259.1 320.6h1M262.5 314.8h1M257.7 327.4h1M260.8 329.3h1M257.3 309.6h1M248.6 322.6h1M262.2 320.4h1M265.2 321.9h1M259.1 327.5h1M266.5 321.3h1M260.2 329.1h1M259.2 315.8h1M267.8 319.1h1M253.6 329.8h1M266.4 318.9h1M257.8 329.5h1M261.8 317.9h1M260.3 322.8h1M253.9 325.8h1M262.5 317.2h1M263.4 329.3h1M261.1 334.4h1M268.2 321.7h1M263.4 338.9h1M264.3 313.8h1M261.6 326.1h1M273.2 317.5h1M255.9 312.4h1M255.8 318.7h1M248.6 340.9h1M268.6 316.5h1M255.7 326.9h1M268.7 317.1h1M263.8 321.1h1M261.4 318.3h1M263.8 332.0h1M256.2 330.4h1M257.4 316.9h1M258.6 321.7h1M264.2 324.4h1M254.6 329.0h1M272.6 314.2h1M260.4 322.2h1M254.4 328.1h1M261.9 329.6h1M252.0 327.2h1M269.2 313.0h1M264.6 320.5h1M251.9 321.6h1M261.9 318.3h1M271.8 318.5h1M260.2 326.9h1M262.7 318.4h1M264.7 330.7h1M255.3 338.9h1M254.5 329.1h1M260.3 318.5h1M261.2 328.1h1M264.1 307.8h1M259.9 317.9h1M257.6 323.2h1M241.6 312.4h1M264.2 325.5h1M260.4 314.3h1M253.7 325.2h1M266.7 314.7h1M264.2 320.7h1M255.1 328.8h1M268.4 311.9h1M273.0 312.2h1M261.0 334.6h1M260.8 325.9h1M253.5 331.8h1M261.8 314.3h1M260.5 314.8h1M259.8 327.5h1M268.3 323.9h1M257.9 323.2h1M253.0 322.2h1M265.8 318.7h1M257.0 312.4h1M268.7 327.9h1M270.9 315.3h1M261.3 329.7h1M264.8 322.8h1M264.0 316.1h1M265.4 321.1h1M264.6 321.7h1M262.2 320.7h1M256.6 315.1h1M269.0 321.7h1M264.2 300.4h1M264.9 326.7h1M256.5 310.9h1M255.0 315.2h1M257.6 329.1h1M258.6 327.8h1M264.3 318.8h1M253.8 326.7h1M273.1 325.8h1M251.5 328.2h1M257.4 323.0h1M258.2 318.8h1M263.6 324.4h1M263.2 316.6h1M259.1 328.3h1M263.7 316.1h1M277.1 320.6h1M257.2 319.8h1M266.9 320.5h1M266.7 314.4h1M262.8 310.7h1M257.0 326.6h1M261.9 314.4h1M270.0 321.2h1M264.2 318.6h1M268.8 325.7h1M253.7 327.9h1M252.0 320.0h1M267.3 326.5h1M261.9 318.0h1M262.7 324.0h1M268.9 328.4h1M257.9 329.3h1M266.0 317.4h1M245.6 330.3h1M250.0 323.2h1M259.7 327.5h1M251.6 319.0h1M253.9 313.8h1M266.8 318.1h1M264.0 327.5h1M263.8 332.8h1M269.3 310.3h1M249.6 332.2h1M275.5 325.0h1M263.5 323.2h1M264.7 322.6h1M265.0 321.2h1M265.6 310.7h1M267.4 310.9h1M276.8 329.9h1M251.1 328.5h1M259.0 327.6h1M254.2 323.8h1M261.3 315.8h1M258.5 311.0h1M252.6 306.4h1M265.8 326.3h1M258.3 325.6h1M256.1 331.8h1M273.5 332.8h1M260.8 332.2h1M270.1 322.0h1M255.3 321.9h1M258.5 325.7h1M248.2 327.0h1M251.2 320.8h1M262.9 317.1h1M265.1 306.9h1M261.1 316.2h1M263.6 323.3h1M267.5 324.5h1M262.1 329.5h1M257.6 332.9h1M262.9 326.2h1M265.8 320.9h1M274.0 326.0h1M260.0 335.4h1M265.9 324.2h1M275.6 322.2h1M257.6 329.2h1M252.0 327.7h1M263.0 328.2h1M253.3 328.4h1M263.0 319.9h1M271.9 324.1h1M246.5 311.6h1M258.6 326.0h1M266.6 326.8h1M266.3 327.4h1M258.2 316.7h1M246.7 317.0h1M271.1 322.2h1M255.1 324.9h1M257.4 320.1h1M276.1 327.0h1M270.6 323.5h1M258.6 323.9h1M264.1 324.7h1M257.2 325.7h1M272.0 321.1h1M263.2 328.1h1M258.9 312.7h1M246.2 324.1h1M261.1 319.8h1M260.7 311.3h1M263.8 317.8h1M269.4 331.9h1M261.8 318.7h1M255.4 323.9h1M257.5 319.4h1M257.4 324.2h1M271.2 321.2h1M256.9 312.1h1M261.4 318.8h1M258.5 319.7h1M259.9 327.4h1M258.2 318.1h1M268.9 310.9h1M257.0 323.0h1M262.0 318.3h1M255.3 317.7h1M263.2 310.9h1M271.6 322.9h1M267.3 321.2h1M261.3 317.3h1M257.6 336.7h1M279.0 327.5h1M264.4 324.7h1M258.0 318.6h1M256.5 311.6h1M268.3 322.4h1M270.0 321.0h1M259.8 321.2h1M247.7 329.4h1M267.0 322.5h1M254.4 307.2h1M266.8 319.3h1M251.7 328.0h1M268.0 326.5h1M253.5 329.9h1M257.5 316.5h1M258.2 320.9h1M266.0 311.9h1M270.4 326.1h1M259.0 330.7h1M259.4 331.7h1M267.4 323.9h1M248.0 323.4h1M257.1 328.8h1M261.2 317.9h1M261.9 326.4h1M266.5 322.7h1M263.4 320.0h1M269.5 319.1h1M261.1 330.7h1M264.4 321.5h1M268.3 321.1h1M258.0 315.2h1M248.1 319.1h1M258.2 318.3h1M255.3 327.1h1M259.5 317.4h1M252.9 321.4h1M269.0 328.6h1M263.9 326.6h1M268.9 319.6h1M272.3 316.8h1M264.3 309.3h1M264.0 324.2h1M258.8 315.9h1M278.2 323.1h1M263.7 317.2h1M269.8 319.1h1M263.5 317.9h1M255.3 328.8h1M260.5 317.7h1M263.7 323.6h1M265.8 323.3h1M268.7 317.2h1M267.4 304.8h1M259.0 314.7h1M256.2 334.6h1M257.4 321.2h1M275.7 319.4h1M250.5 323.0h1M249.7 314.7h1M275.0 326.6h1M267.0 321.1h1M262.7 310.8h1M258.9 321.1h1M263.8 322.9h1M263.0 317.7h1M265.3 310.6h1M258.8 337.9h1M256.9 319.0h1M267.1 323.1h1M259.8 324.6h1M254.9 329.4h1M254.5 316.4h1M265.1 327.1h1M263.7 329.7h1M259.2 317.2h1M255.8 322.5h1M255.2 321.4h1M252.4 321.2h1M256.9 324.5h1M261.1 333.1h1M259.3 316.6h1M254.7 327.8h1M254.2 321.0h1M267.9 321.8h1M250.5 325.1h1M270.8 322.4h1M268.7 326.8h1M261.3 314.1h1M266.0 331.9h1M254.7 316.3h1M266.0 321.9h1M261.6 318.1h1M263.5 325.3h1M268.2 321.1h1M261.7 325.4h1M273.0 329.2h1M267.0 308.2h1M259.3 330.1h1M257.1 316.2h1M278.8 322.8h1M251.6 322.3h1M248.9 318.5h1M249.3 326.6h1M259.9 330.4h1M252.6 320.4h1M261.4 315.7h1M254.8 325.5h1M259.9 318.7h1M255.4 328.3h1M261.0 320.1h1M261.6 305.6h1M265.5 325.2h1M252.0 327.0h1M257.5 335.5h1M253.1 328.1h1M264.7 323.4h1M256.4 334.4h1M246.0 330.5h1M274.5 316.5h1M267.3 325.8h1M252.3 323.8h1M261.9 312.4h1M255.1 318.7h1M257.1 312.9h1M269.9 313.2h1M256.0 316.2h1M259.0 319.2h1M267.5 324.4h1M264.8 324.8h1M262.1 307.0h1M257.0 332.4h1M254.3 324.1h1M258.9 325.4h1M257.4 320.7h1M269.5 308.2h1M255.1 315.7h1M274.2 298.6h1M268.5 316.8h1M259.7 325.7h1M259.4 325.3h1M254.3 318.8h1M260.9 311.1h1M264.8 325.0h1M265.7 325.7h1M254.8 322.4h1M260.2 326.1h1M261.2 323.1h1M265.4 323.2h1M268.9 317.9h1M252.3 314.1h1M270.0 321.4h1M257.4 327.7h1M260.2 330.0h1M243.1 317.2h1M257.2 332.2h1M258.6 318.2h1M260.1 323.5h1M253.0 331.4h1M258.0 318.5h1M266.3 309.9h1M256.4 319.5h1M254.7 334.2h1M265.7 327.9h1M256.3 322.0h1M255.6 309.4h1M252.4 316.2h1M259.3 320.6h1M259.5 317.0h1M268.0 321.1h1M256.8 320.2h1M264.4 326.9h1M262.9 332.6h1M258.5 314.9h1M260.3 321.4h1M257.5 320.0h1M256.3 332.6h1M248.0 333.2h1M260.5 317.8h1M249.4 321.5h1M247.1 328.1h1M259.8 327.0h1M258.0 317.1h1M268.4 323.7h1M263.0 319.3h1M252.3 312.6h1M273.1 327.6h1M272.0 331.3h1M258.5 332.7h1M252.9 313.9h1M271.5 318.7h1M268.6 320.7h1M253.7 326.8h1M268.5 317.0h1M256.3 319.1h1M257.4 324.0h1M261.0 315.1h1M249.9 324.0h1M267.4 325.0h1M265.0 315.4h1M259.0 319.8h1M263.5 320.4h1M261.5 320.8h1M254.5 326.1h1M258.1 318.9h1M260.6 326.1h1M253.0 321.7h1M257.1 321.1h1M270.5 321.1h1M270.4 322.4h1M259.0 326.0h1M262.7 326.0h1M259.3 319.6h1M250.0 325.2h1M260.0 321.7h1M261.4 315.6h1M268.1 312.8h1M270.6 319.6h1M263.1 323.5h1M263.0 329.0h1M263.2 318.9h1M265.6 324.3h1M269.5 323.2h1M265.3 322.6h1M267.3 321.7h1M263.9 324.9h1M253.4 333.2h1M259.7 314.7h1M259.3 321.8h1M287.3 313.7h1M254.6 323.2h1M281.4 320.1h1M279.4 303.1h1M262.7 328.0h1M272.0 316.1h1M273.9 309.4h1M268.5 314.1h1M273.2 311.8h1M268.6 312.6h1M271.0 327.7h1M260.2 320.3h1M283.0 302.1h1M279.6 310.6h1M285.7 300.0h1M265.9 319.4h1M287.7 302.8h1M265.7 324.0h1M276.3 305.7h1M274.7 304.5h1M289.5 312.7h1M275.5 308.3h1M284.2 288.8h1M278.1 305.1h1M268.4 311.4h1M289.6 302.9h1M282.6 306.3h1M277.2 308.2h1M291.6 308.8h1M277.6 316.4h1M257.6 317.1h1M281.8 304.0h1M276.0 315.1h1M275.5 298.4h1M283.7 302.5h1M258.6 313.9h1M286.1 296.8h1M261.5 319.8h1M274.6 311.3h1M283.3 299.0h1M287.4 311.7h1M261.0 318.7h1M278.8 307.2h1M265.4 320.3h1M300.4 303.1h1M294.0 297.5h1M270.7 313.5h1M276.5 306.0h1M281.0 298.2h1M258.2 329.0h1M290.9 299.1h1M264.5 313.0h1M261.0 310.6h1M252.9 329.1h1M258.1 324.6h1M278.8 293.7h1M264.0 318.7h1M287.0 300.5h1M278.3 313.6h1M274.4 309.5h1M286.0 304.1h1M293.8 310.8h1M282.5 314.7h1M279.1 307.4h1M294.5 312.1h1M266.0 304.6h1M292.2 303.9h1M282.5 309.3h1M282.4 315.5h1M293.2 297.7h1M271.0 314.8h1M274.9 305.8h1M259.4 322.1h1M293.3 297.4h1M280.8 308.7h1M277.6 315.8h1M270.6 323.8h1M274.7 326.1h1M278.5 296.0h1M276.0 316.9h1M302.0 297.5h1M282.5 306.4h1M277.5 299.0h1M287.6 315.7h1M275.0 306.7h1M275.1 307.2h1M263.2 327.6h1M262.7 307.0h1M272.8 309.8h1M274.5 320.2h1M247.0 322.7h1M299.9 302.7h1M276.1 313.2h1M263.2 320.1h1M255.2 323.3h1M273.0 305.6h1M276.4 305.9h1M278.8 310.8h1M287.2 298.7h1M267.7 313.6h1M275.2 321.4h1M298.0 303.0h1M268.6 313.6h1M259.7 322.9h1M284.2 296.6h1M263.0 319.0h1M275.8 320.7h1M262.2 308.2h1M285.7 291.1h1M270.4 318.8h1M269.2 314.1h1M280.3 302.2h1M284.1 300.7h1M273.1 317.8h1M284.5 314.6h1M259.8 314.8h1M268.7 315.8h1M288.8 292.8h1M280.6 318.3h1M276.4 303.9h1M287.0 313.7h1M268.0 324.2h1M243.2 329.7h1M279.4 310.2h1M270.6 310.4h1M267.6 296.5h1M287.6 298.7h1M258.3 315.8h1M272.7 317.0h1M281.8 314.3h1M275.2 316.5h1M264.9 319.0h1M293.6 301.0h1M275.2 313.4h1M281.6 309.5h1M277.7 322.8h1M296.2 310.8h1M255.0 313.9h1M294.4 305.1h1M283.4 316.7h1M273.4 319.2h1M266.7 311.2h1M288.5 300.7h1M259.9 318.9h1M280.6 318.7h1M270.8 310.2h1M271.5 308.2h1M285.9 310.4h1M268.2 311.1h1M267.1 315.3h1M273.2 317.0h1M274.5 305.1h1M259.0 307.6h1M273.7 309.0h1M264.8 320.8h1M297.1 298.2h1M310.4 311.6h1M273.6 326.8h1M285.4 318.9h1M276.8 316.5h1M270.5 324.6h1M254.6 330.2h1M288.7 304.7h1M276.7 307.9h1M280.2 315.8h1M281.8 307.3h1M294.6 300.6h1M268.5 309.1h1M275.6 311.8h1M274.4 315.9h1M280.7 310.4h1M278.3 311.8h1M253.9 323.4h1M283.4 318.6h1M271.8 313.9h1M265.3 327.0h1M276.4 318.2h1M258.7 311.5h1M276.8 306.1h1M282.6 304.5h1M290.3 298.0h1M285.7 301.2h1M273.5 313.7h1M268.8 311.4h1M279.6 315.9h1M266.5 304.6h1M293.8 302.0h1M263.5 319.2h1M281.9 316.2h1M260.6 314.6h1M251.4 335.7h1M262.7 325.9h1M270.5 316.6h1M274.1 303.9h1M280.5 300.9h1M260.9 313.4h1M259.6 325.0h1M261.4 318.4h1M269.2 315.7h1M276.2 312.0h1M268.5 323.5h1M290.3 313.9h1M278.1 308.5h1M273.6 315.8h1M264.1 308.9h1M283.6 309.3h1M294.1 290.5h1M279.4 315.8h1M287.3 313.1h1M262.5 304.6h1M286.8 302.6h1M268.5 312.4h1M289.9 303.1h1M274.4 307.2h1M270.4 310.4h1M272.0 315.7h1M287.1 310.9h1M286.8 301.5h1M286.3 303.7h1M264.5 310.2h1M281.1 301.9h1M271.6 314.3h1M266.4 310.7h1M266.5 323.2h1M272.5 308.7h1M274.8 307.9h1M272.8 321.1h1M268.5 319.3h1M275.9 327.1h1M272.0 319.2h1M277.9 299.8h1M278.8 316.5h1M270.3 319.0h1M270.9 308.7h1M259.8 322.0h1M281.0 317.3h1M282.7 305.8h1M270.0 311.0h1M272.5 315.5h1M285.0 308.3h1M266.4 317.3h1M266.6 309.2h1M271.3 312.4h1M288.5 299.5h1M261.9 320.6h1M279.0 301.8h1M272.0 311.3h1M244.2 320.3h1M289.0 304.9h1M292.1 304.4h1M263.0 317.9h1M254.3 317.6h1M272.0 307.8h1M268.0 304.1h1M300.8 305.8h1M274.7 310.6h1M279.5 304.6h1M278.6 319.2h1M265.4 319.4h1M286.2 297.3h1M275.1 305.0h1M276.5 310.0h1M276.8 317.2h1M268.6 319.9h1M288.7 305.3h1M282.4 307.3h1M282.3 301.1h1M268.1 314.5h1M296.7 306.2h1M267.1 309.5h1M263.6 315.7h1M262.0 319.3h1M282.0 310.1h1M263.1 307.9h1M269.0 314.7h1M242.3 322.5h1M285.3 293.6h1M269.2 308.1h1M279.6 311.7h1M261.1 320.2h1M260.4 316.8h1M270.0 332.8h1M272.6 317.8h1M286.5 297.3h1M276.6 315.7h1M277.1 288.3h1M273.4 299.5h1M280.9 306.8h1M285.3 303.3h1M277.1 312.8h1M270.8 312.0h1M285.4 316.5h1M265.7 315.0h1M291.2 306.6h1M267.8 318.2h1M267.6 310.0h1M278.4 308.0h1M277.4 308.8h1M279.7 316.8h1M270.3 315.5h1M264.0 313.3h1M275.3 304.5h1M272.1 306.6h1M297.4 291.1h1M268.6 315.3h1M278.7 309.8h1M276.1 309.2h1M250.7 292.8h1M260.1 293.5h1M255.2 300.4h1M256.0 289.9h1M252.8 285.5h1M252.7 320.1h1M265.2 285.0h1M259.9 297.6h1M251.7 300.9h1M243.0 314.4h1M244.9 287.1h1M258.7 288.3h1M252.9 280.1h1M258.6 274.6h1M253.6 297.7h1M260.0 289.3h1M254.2 288.5h1M251.9 287.3h1M247.1 305.1h1M266.9 290.3h1M259.7 312.5h1M249.1 298.9h1M273.0 298.7h1M262.3 295.7h1M251.9 294.2h1M255.6 298.3h1M245.9 305.5h1M281.2 280.5h1M265.2 299.4h1M248.5 292.5h1M252.8 307.3h1M256.6 301.8h1M263.4 296.0h1M269.0 291.2h1M245.9 300.4h1M266.4 282.2h1M263.2 293.6h1M253.2 293.1h1M257.1 282.3h1M265.1 285.6h1M261.1 302.9h1M253.2 295.3h1M257.3 308.4h1M249.5 293.7h1M240.1 288.0h1M257.4 313.8h1M261.2 310.0h1M246.1 300.3h1M267.5 304.5h1M246.9 316.0h1M263.1 285.5h1M269.4 296.6h1M262.4 287.6h1M248.7 298.6h1M248.6 286.0h1M265.6 298.5h1M253.5 283.5h1M240.0 293.9h1M263.1 293.9h1M261.9 294.3h1M256.9 279.8h1M261.6 298.8h1M266.2 308.8h1M259.9 291.5h1M258.9 304.7h1M243.5 287.6h1M250.2 300.8h1M254.7 288.0h1M256.7 306.3h1M265.3 283.5h1M263.3 296.8h1M246.9 335.9h1M250.1 336.9h1M243.4 327.8h1M242.7 344.3h1M244.6 339.5h1M248.9 333.7h1M249.0 343.8h1M240.4 328.9h1M249.7 328.4h1M253.1 330.8h1M247.0 328.9h1M246.4 335.1h1M255.1 336.2h1M239.8 336.0h1M256.6 330.9h1M237.1 339.2h1M243.2 331.4h1M238.8 336.0h1M247.4 345.4h1M241.7 339.3h1M241.0 328.4h1M242.1 340.0h1M248.9 340.0h1M239.6 329.8h1M251.4 338.6h1M246.2 341.2h1M250.5 335.6h1M261.8 343.2h1M248.9 340.8h1M242.3 332.8h1M239.8 324.4h1M249.7 332.5h1M250.1 340.9h1M255.4 332.4h1M225.7 344.3h1M250.5 330.1h1M245.6 319.4h1M240.1 323.2h1M258.2 336.8h1M252.0 332.4h1M246.4 333.1h1M253.3 346.0h1M246.6 333.0h1M250.4 345.9h1M242.3 326.9h1M240.1 335.3h1M234.2 330.3h1M238.3 336.8h1M253.0 335.3h1M255.9 335.2h1M245.1 332.6h1M250.0 335.6h1M243.2 339.6h1M261.4 341.2h1M237.8 330.0h1M243.9 329.4h1M241.7 336.0h1M255.1 339.4h1M249.0 342.1h1M252.7 336.4h1M245.6 338.2h1M250.2 341.5h1M239.5 341.8h1M265.8 341.9h1M240.1 340.9h1M252.3 333.2h1M232.0 337.2h1M255.9 338.5h1M246.7 339.5h1M243.6 337.1h1M247.5 334.3h1M247.9 340.1h1M238.3 334.1h1M245.7 337.4h1M241.3 338.5h1M254.5 338.0h1M246.7 338.8h1M259.6 328.0h1M243.3 329.2h1M242.8 318.7h1M247.3 345.9h1M240.3 333.0h1M242.4 327.5h1M246.5 333.1h1M255.5 331.6h1M261.3 329.3h1M245.7 332.9h1M251.0 333.4h1M246.6 336.1h1M250.0 334.3h1M247.5 328.4h1M233.9 336.1h1M293.1 295.7h1M226.4 300.5h1M271.8 346.4h1M286.4 310.1h1M254.2 329.4h1M275.2 320.6h1M244.5 279.8h1M336.4 294.1h1M326.1 318.2h1M286.5 298.9h1M290.0 317.6h1M263.3 309.4h1M335.1 311.3h1M344.5 299.4h1M255.2 326.7h1M286.5 324.3h1" stroke="#000" stroke-width="1" stroke-opacity="0.85" fill="none"/>
<path d="M436.4 310.9h1M414.0 329.3h1M435.5 309.4h1M428.1 318.9h1M413.3 328.8h1M423.9 320.1h1M417.9 324.5h1M418.0 331.0h1M419.6 314.6h1M427.7 319.0h1M444.3 312.8h1M433.2 322.3h1M454.2 318.4h1M409.8 319.4h1M432.0 326.2h1M423.7 320.9h1M428.4 323.4h1M424.2 313.7h1M428.9 321.6h1M433.0 320.9h1M422.8 319.3h1M426.1 311.2h1M421.0 320.1h1M415.6 324.5h1M412.6 331.9h1M426.5 317.0h1M421.1 319.5h1M429.7 318.0h1M427.0 318.3h1M437.7 321.9h1M414.2 317.5h1M422.1 325.1h1M430.2 323.0h1M442.3 307.9h1M441.4 320.8h1M427.5 313.4h1M424.7 311.2h1M438.1 316.7h1M430.9 318.4h1M435.9 305.9h1M422.3 328.4h1M439.4 323.3h1M436.7 311.5h1M423.6 322.7h1M436.3 309.3h1M426.8 318.3h1M417.5 335.8h1M411.9 316.0h1M433.9 322.0h1M430.6 313.7h1M423.2 317.8h1M440.3 308.4h1M412.9 324.8h1M420.3 324.6h1M431.8 322.9h1M435.5 313.8h1M435.3 320.1h1M401.0 328.4h1M425.1 329.9h1M413.3 320.1h1M415.2 323.7h1M446.3 317.9h1M443.1 323.8h1M438.7 317.3h1M413.5 326.9h1M428.5 316.7h1M448.7 312.6h1M448.5 320.6h1M431.9 320.9h1M430.0 309.9h1M422.8 314.6h1M427.0 318.0h1M442.2 312.0h1M417.0 322.7h1M433.5 319.6h1M410.2 326.3h1M427.6 324.1h1M430.1 320.3h1M440.4 310.5h1M436.5 316.3h1M434.7 310.8h1M434.2 323.6h1M432.1 310.8h1M452.0 326.1h1M421.8 323.4h1M432.5 316.1h1M423.3 324.0h1M415.3 312.0h1M422.0 327.5h1M433.5 327.8h1M430.8 309.9h1M424.9 317.1h1M444.1 319.8h1M440.3 307.5h1M429.6 327.0h1M436.9 313.3h1M438.0 319.9h1M433.0 319.3h1M424.4 320.7h1M417.4 326.6h1M420.2 318.2h1M441.8 318.2h1M421.2 319.4h1M411.0 326.3h1M431.2 324.0h1M428.2 322.5h1M416.8 328.7h1M417.0 318.3h1M424.2 329.3h1M435.9 324.4h1M446.3 308.8h1M429.0 319.9h1M427.7 327.2h1M436.7 324.3h1M438.5 316.4h1M439.4 302.1h1M424.7 318.5h1M435.4 319.8h1M413.3 325.3h1M443.0 322.1h1M426.5 318.5h1M419.5 326.3h1M436.7 322.0h1M421.7 322.5h1M427.2 313.4h1M437.9 323.4h1M425.1 326.9h1M442.9 310.5h1M443.6 317.1h1M420.6 323.8h1M428.2 324.4h1M427.9 312.3h1M430.0 316.4h1M427.7 319.4h1M438.2 322.3h1M424.6 320.8h1M420.2 326.3h1M423.0 307.6h1M416.6 317.0h1M423.6 313.7h1M434.0 320.3h1M442.8 315.3h1M420.0 319.0h1M433.3 334.7h1M412.1 330.0h1M429.3 317.8h1M429.0 322.8h1M437.9 306.3h1M418.3 319.8h1M429.3 315.4h1M427.7 326.6h1M431.1 315.4h1M427.2 315.2h1M432.2 323.4h1M432.9 316.6h1M420.1 331.7h1M442.6 303.9h1M430.1 318.5h1M434.2 327.7h1M418.8 323.4h1M431.8 325.9h1M428.7 315.4h1M425.0 316.9h1M446.1 310.0h1M421.1 333.2h1M442.0 320.0h1M420.4 317.3h1M423.3 326.6h1M419.4 324.3h1M432.0 316.8h1M424.1 321.2h1M425.1 317.8h1M442.5 311.5h1M425.9 321.2h1M434.7 311.6h1M441.2 314.1h1M433.2 318.7h1M435.3 322.0h1M422.7 320.5h1M427.7 316.9h1M409.9 327.5h1M417.9 316.1h1M424.9 326.5h1M431.0 319.5h1M422.0 326.8h1M435.5 318.2h1M437.5 320.9h1M428.3 320.0h1M420.3 331.2h1M425.4 324.5h1M420.3 323.8h1M441.8 312.8h1M428.6 325.7h1M417.9 325.2h1M427.1 314.7h1M418.4 328.7h1M424.9 308.2h1M430.7 323.6h1M420.6 323.9h1M426.5 324.0h1M413.7 318.7h1M413.6 336.4h1M421.9 307.9h1M429.5 323.3h1M424.7 313.4h1M443.7 314.1h1M419.5 324.3h1M427.5 325.1h1M424.5 316.7h1M417.4 319.2h1M433.7 319.5h1M421.8 322.7h1M440.4 311.8h1M418.3 329.7h1M432.4 323.0h1M441.4 312.9h1M432.3 322.9h1M424.9 319.5h1M407.7 335.6h1M421.8 310.8h1M423.6 322.8h1M454.1 307.0h1M417.3 322.1h1M424.1 316.1h1M420.6 323.0h1M435.9 318.6h1M428.0 319.8h1M430.2 322.0h1M432.4 316.1h1M421.2 319.6h1M441.7 310.8h1M438.5 312.7h1M422.2 317.2h1M428.4 326.1h1M455.3 318.6h1M422.9 312.7h1M427.6 316.5h1M412.4 318.7h1M406.8 323.7h1M440.0 316.7h1M431.9 316.2h1M441.4 313.6h1M432.5 318.5h1M428.0 323.7h1M418.4 325.8h1M416.7 327.0h1M433.5 318.5h1M426.4 315.7h1M416.5 322.1h1M442.2 321.0h1M436.5 306.0h1M435.1 301.0h1M426.3 319.9h1M434.3 328.0h1M419.9 322.6h1M444.0 314.4h1M425.7 314.8h1M432.0 314.0h1M421.6 330.6h1M434.2 315.0h1M414.1 322.5h1M437.8 312.9h1M426.8 324.3h1M432.2 321.2h1M419.8 319.3h1M428.9 315.0h1M443.6 321.0h1M423.4 325.3h1M432.9 314.9h1M432.7 322.3h1M427.8 318.3h1M433.9 327.7h1M426.2 316.4h1M442.7 307.6h1M413.4 317.9h1M432.8 312.8h1M432.4 312.4h1M439.1 315.3h1M407.5 331.1h1M432.9 312.2h1M434.4 323.7h1M421.2 315.3h1M428.5 311.1h1M427.8 317.5h1M433.8 313.5h1M430.4 326.5h1M446.8 311.1h1M417.1 323.2h1M448.9 307.0h1M440.2 303.9h1M431.5 305.3h1M413.7 327.6h1M441.4 314.4h1M426.8 314.1h1M429.9 325.5h1M417.6 314.7h1M430.8 310.5h1M434.1 312.4h1M431.7 314.1h1M429.3 316.4h1M414.2 316.4h1M424.3 315.1h1M428.3 322.8h1M442.0 309.8h1M430.7 318.7h1M426.0 324.6h1M435.9 313.1h1M424.7 325.3h1M433.2 320.7h1M414.5 328.2h1M425.3 326.0h1M419.9 327.0h1M438.9 323.8h1M440.3 314.3h1M430.7 336.5h1M434.6 298.3h1M432.1 314.6h1M433.3 316.0h1M424.1 316.7h1M413.8 332.2h1M436.7 316.6h1M418.4 334.0h1M430.5 321.1h1M425.9 322.7h1M430.9 318.7h1M435.7 318.2h1M413.0 330.8h1M447.2 320.7h1M425.6 314.1h1M427.6 313.0h1M441.8 309.8h1M421.8 316.5h1M426.6 322.6h1M424.3 320.6h1M424.0 318.2h1M424.7 303.5h1M415.8 321.8h1M433.8 311.3h1M446.6 307.9h1M425.9 320.4h1M429.2 323.7h1M417.2 317.7h1M436.1 304.6h1M420.0 317.1h1M421.9 321.4h1M437.4 320.9h1M421.4 320.8h1M442.7 315.0h1M431.2 319.1h1M439.5 311.0h1M442.3 327.4h1M438.7 308.6h1M426.5 312.9h1M447.4 307.9h1M438.3 315.2h1M430.4 327.3h1M434.9 317.2h1M438.2 312.1h1M417.6 319.8h1M418.3 333.5h1M425.8 319.8h1M421.2 327.8h1M433.7 318.7h1M429.3 310.0h1M441.8 319.7h1M417.4 329.9h1M422.9 327.2h1M424.1 329.7h1M426.4 323.1h1M399.4 333.6h1M436.2 318.4h1M418.9 326.3h1M426.1 316.9h1M428.2 318.1h1M431.8 319.5h1M423.8 326.9h1M433.7 313.5h1M447.3 303.9h1M433.1 323.0h1M422.7 317.9h1M430.3 321.5h1M444.4 318.4h1M427.1 321.1h1M431.9 317.5h1M433.4 319.8h1M426.2 313.3h1M418.7 325.5h1M428.8 316.6h1M429.1 319.7h1M429.1 314.7h1M432.9 324.5h1M430.6 316.8h1M414.7 315.9h1M426.5 324.0h1M430.6 308.5h1M422.8 313.0h1M432.7 321.3h1M427.9 314.9h1M412.2 333.2h1M429.2 318.0h1M442.0 303.9h1M434.9 309.3h1M430.3 320.7h1M443.7 317.1h1M439.9 311.6h1M444.9 322.1h1M432.4 317.3h1M431.2 316.5h1M429.0 319.6h1M415.7 327.2h1M421.5 316.8h1M434.4 314.0h1M416.8 306.2h1M425.2 326.1h1M438.6 313.2h1M434.8 314.2h1M441.2 322.4h1M440.6 321.7h1M444.0 314.9h1M441.7 305.3h1M437.2 300.5h1M413.3 330.0h1M414.0 313.4h1M441.9 316.0h1M426.3 316.8h1M418.2 309.4h1M435.5 311.4h1M422.9 317.4h1M434.4 305.7h1M433.2 320.2h1M423.8 323.3h1M433.1 318.4h1M423.5 319.6h1M422.0 322.2h1M432.6 317.8h1M438.8 314.1h1M420.5 322.6h1M429.0 317.1h1M429.2 318.5h1M419.6 315.9h1M412.5 338.1h1M439.9 317.1h1M429.6 317.9h1M440.1 303.9h1M431.8 318.8h1M434.3 318.4h1M442.1 313.1h1M423.4 324.2h1M426.4 323.8h1M433.7 320.9h1M443.4 318.4h1M423.7 322.1h1M417.0 319.3h1M418.7 323.3h1M429.3 325.9h1M425.3 315.9h1M434.4 314.6h1M430.3 325.6h1M437.2 320.9h1M433.6 328.0h1M430.1 328.2h1M427.2 310.8h1M427.2 315.4h1M428.4 327.2h1M427.6 321.1h1M435.0 314.5h1M428.1 319.3h1M442.7 322.3h1M435.3 318.6h1M428.3 311.8h1M423.3 323.8h1M421.3 326.3h1M428.4 318.4h1M420.6 331.4h1M429.8 322.1h1M411.8 320.6h1M425.8 327.3h1M413.5 318.2h1M429.8 324.8h1M421.5 326.6h1M428.0 325.1h1M444.0 315.4h1M410.4 327.4h1M424.1 314.9h1M419.9 315.0h1M438.0 318.0h1M438.1 313.2h1M439.0 315.1h1M442.3 310.1h1M442.0 302.2h1M452.5 318.6h1M435.9 294.4h1M447.7 295.7h1M437.0 292.6h1M430.4 305.6h1M467.0 284.8h1M441.2 297.0h1M452.9 297.0h1M439.5 310.3h1M445.1 318.3h1M442.3 300.3h1M426.7 321.0h1M440.5 300.2h1M437.0 306.0h1M440.1 306.0h1M416.5 333.6h1M448.5 321.7h1M453.6 292.3h1M448.3 298.0h1M452.2 299.4h1M445.6 296.5h1M437.2 314.8h1M429.4 297.8h1M457.6 279.9h1M448.5 307.2h1M454.6 305.6h1M435.1 328.0h1M441.9 307.0h1M433.0 316.5h1M441.8 289.9h1M440.8 294.7h1M450.1 309.6h1M439.0 301.4h1M437.4 310.6h1M457.9 309.5h1M434.8 285.1h1M443.2 302.3h1M463.8 293.4h1M440.8 300.2h1M417.8 305.4h1M442.7 304.8h1M449.9 298.0h1M447.4 307.2h1M445.8 281.1h1M450.3 285.0h1M443.1 295.1h1M432.8 302.4h1M456.2 296.2h1M445.1 304.7h1M433.9 316.6h1M449.1 288.5h1M432.2 294.0h1M423.0 308.3h1M452.8 291.2h1M434.5 308.2h1M456.4 309.6h1M434.8 296.9h1M421.9 313.5h1M443.7 314.6h1M434.7 295.4h1M439.6 289.8h1M451.5 286.7h1M440.6 310.5h1M440.8 311.4h1M453.0 306.4h1M431.6 312.0h1M443.3 302.5h1M434.9 316.2h1M449.0 300.8h1M439.7 315.7h1M425.4 304.6h1M454.9 299.4h1M422.0 301.8h1M452.5 303.4h1M458.3 296.1h1M471.0 293.8h1M458.3 295.2h1M437.4 310.6h1M437.6 288.7h1M433.7 315.3h1M460.5 278.3h1M455.3 303.1h1M445.3 303.0h1M423.7 307.3h1M440.4 306.4h1M443.3 307.6h1M438.2 293.1h1M445.8 311.2h1M425.1 301.1h1M440.8 312.5h1M440.3 303.9h1M440.2 309.8h1M453.7 297.0h1M450.2 300.2h1M443.9 301.4h1M418.7 324.1h1M439.2 297.8h1M435.0 300.8h1M436.1 302.7h1M433.7 321.9h1M449.1 302.1h1M452.3 291.2h1M453.2 306.4h1M433.9 298.4h1M461.4 291.0h1M458.0 290.8h1M450.4 299.7h1M450.7 290.8h1M411.0 319.2h1M456.8 313.3h1M450.6 292.0h1M451.1 281.5h1M439.1 301.6h1M458.9 293.1h1M444.2 301.9h1M447.1 299.1h1M448.3 311.3h1M463.7 284.8h1M434.3 303.0h1M448.4 283.1h1M458.4 306.5h1M431.9 307.5h1M426.0 296.1h1M427.8 316.1h1M436.2 297.5h1M430.1 311.9h1M424.0 298.1h1M445.7 305.2h1M442.0 307.3h1M448.1 310.2h1M449.4 310.7h1M435.6 312.6h1M451.4 310.8h1M429.0 309.4h1M425.6 317.6h1M441.7 313.3h1M443.6 309.0h1M435.2 294.1h1M460.9 287.1h1M437.3 323.0h1M447.5 294.0h1M428.1 305.7h1M446.1 310.8h1M422.5 305.8h1M435.0 296.5h1M445.7 288.0h1M432.3 299.0h1M450.8 288.8h1M427.0 321.8h1M458.9 292.4h1M445.1 298.0h1M431.1 300.7h1M422.4 300.5h1M446.1 316.1h1M425.8 303.5h1M456.4 293.3h1M431.1 307.6h1M431.9 293.7h1M443.2 295.7h1M460.3 293.4h1M442.4 299.2h1M458.2 280.0h1M446.4 302.1h1M445.1 310.6h1M454.6 291.2h1M441.2 312.0h1M442.3 302.0h1M446.1 307.0h1M432.3 296.1h1M423.8 318.6h1M450.4 298.4h1M460.8 299.7h1M427.4 314.6h1M418.8 311.5h1M454.9 306.8h1M412.7 324.6h1M450.2 291.2h1M458.8 289.6h1M462.5 281.7h1M458.4 285.9h1M426.7 319.2h1M450.7 305.6h1M424.2 313.9h1M444.2 316.0h1M437.4 306.5h1M427.6 309.3h1M441.2 297.1h1M430.2 299.5h1M430.5 305.9h1M444.2 301.7h1M434.5 298.0h1M444.4 319.3h1M447.2 300.8h1M460.4 294.4h1M448.3 285.0h1M436.5 300.5h1M447.2 301.4h1M437.0 321.8h1M453.5 291.5h1M435.3 303.4h1M412.3 283.3h1M414.3 281.5h1M432.6 309.7h1M418.1 302.9h1M404.9 305.7h1M425.1 294.4h1M407.7 279.2h1M413.5 303.4h1M434.4 299.2h1M432.2 277.1h1M434.1 273.8h1M443.7 290.0h1M412.3 282.8h1M407.1 289.0h1M430.2 286.5h1M413.9 293.6h1M448.1 306.9h1M406.7 300.0h1M416.7 300.5h1M431.7 292.7h1M408.5 295.1h1M415.0 292.3h1M411.9 290.6h1M425.8 285.9h1M421.7 290.2h1M427.8 286.3h1M413.7 309.9h1M423.6 299.8h1M426.8 281.0h1M420.4 293.6h1M422.0 277.8h1M428.0 314.5h1M427.3 295.7h1M407.2 285.8h1M418.2 292.2h1M423.5 287.0h1M421.3 301.1h1M420.0 278.3h1M422.2 275.8h1M410.9 300.4h1M429.6 294.9h1M420.7 290.5h1M417.3 267.7h1M432.8 279.7h1M409.4 293.3h1M426.4 273.3h1M419.6 302.6h1M430.2 286.2h1M440.5 283.1h1M408.2 304.5h1M431.8 277.4h1M415.9 289.0h1M423.3 309.6h1M421.0 282.7h1M421.2 287.2h1M417.6 297.7h1M434.1 270.6h1M420.7 294.4h1M402.3 265.5h1M415.4 284.0h1M423.0 297.4h1M428.1 268.2h1M407.8 297.9h1M427.0 280.4h1M429.1 308.1h1M416.4 297.3h1M436.1 284.8h1M418.1 289.0h1M423.1 291.9h1M416.7 288.9h1M436.8 281.1h1M420.0 292.1h1M427.8 298.5h1M416.3 286.0h1M417.2 316.5h1M428.4 277.1h1M432.8 296.3h1M433.1 294.2h1M435.6 269.6h1M428.9 292.2h1M419.2 295.4h1M425.3 284.0h1M427.6 293.5h1M424.9 298.9h1M438.0 295.5h1M400.1 292.7h1M445.5 316.8h1M417.1 301.0h1M418.0 299.4h1M430.9 288.5h1M425.7 280.9h1M419.7 295.7h1M420.9 291.2h1M398.2 327.1h1M410.7 315.2h1M417.9 322.3h1M407.7 337.7h1M414.7 321.9h1M406.1 341.5h1M418.5 332.1h1M419.3 332.2h1M420.3 335.3h1M409.6 335.7h1M409.5 327.2h1M418.2 324.1h1M418.6 332.1h1M405.3 326.1h1M414.7 329.4h1M422.6 348.2h1M415.5 332.3h1M392.3 335.0h1M408.2 321.5h1M415.4 334.8h1M408.9 327.9h1M405.6 337.3h1M424.2 327.7h1M417.2 309.5h1M416.5 339.2h1M400.3 325.7h1M404.2 345.6h1M400.8 327.9h1M409.8 329.5h1M411.3 332.8h1M406.1 345.0h1M409.7 314.5h1M408.9 327.0h1M410.5 326.9h1M421.8 316.7h1M429.7 314.2h1M416.7 333.8h1M425.7 315.7h1M401.2 325.9h1M421.6 334.4h1M413.4 333.8h1M415.8 328.9h1M403.6 329.8h1M400.3 339.0h1M407.2 333.5h1M404.1 326.9h1M419.9 318.3h1M415.5 331.8h1M409.7 328.2h1M424.7 343.2h1M413.5 325.0h1M420.5 340.3h1M414.8 326.7h1M428.6 347.0h1M398.8 343.2h1M417.8 330.5h1M400.0 327.3h1M411.7 337.6h1M403.0 334.9h1M420.3 329.4h1M414.4 323.9h1M418.8 322.8h1M401.7 333.8h1M411.9 336.2h1M410.3 331.4h1M415.0 330.1h1M422.2 324.1h1M407.7 333.6h1M431.7 330.2h1M403.8 326.5h1M409.9 332.6h1M406.9 346.4h1M412.0 331.5h1M422.0 335.3h1M404.5 325.0h1M412.4 340.6h1M414.3 315.5h1M405.0 335.0h1M414.5 317.8h1M416.9 312.2h1M399.5 330.0h1M418.4 340.1h1M411.1 338.5h1M404.7 314.1h1M406.7 339.5h1M414.0 318.0h1M408.9 330.5h1M396.7 341.2h1M414.8 345.4h1M429.2 336.6h1M426.2 319.7h1M409.4 344.2h1M423.2 326.5h1M422.5 333.7h1M406.7 335.9h1M417.1 345.7h1M410.6 318.2h1M414.0 317.1h1M415.0 333.4h1M426.4 336.5h1M412.3 309.6h1M427.8 285.5h1M454.2 284.4h1M402.1 304.0h1M468.2 281.2h1M416.4 267.6h1M416.3 243.8h1M407.9 300.3h1M422.8 340.6h1M489.0 294.4h1M424.3 244.1h1M453.0 300.4h1M444.8 283.6h1M415.5 286.8h1" stroke="#000" stroke-width="1" stroke-opacity="0.35" fill="none"/>
<path d="M435.6 319.0h1M449.2 309.3h1M428.6 318.9h1M427.9 311.2h1M422.7 331.3h1M430.4 318.0h1M409.2 317.3h1M424.8 322.2h1M419.9 324.6h1M449.5 307.8h1M431.5 320.9h1M426.8 309.0h1M412.7 323.3h1M422.9 328.2h1M413.5 318.1h1M439.7 309.3h1M431.6 320.4h1M421.8 320.4h1M439.1 326.6h1M425.8 316.7h1M423.4 319.9h1M441.5 320.2h1M437.2 316.3h1M433.3 309.1h1M438.7 329.3h1M445.5 300.4h1M423.6 326.5h1M437.6 307.7h1M432.3 322.1h1M426.5 330.8h1M425.3 315.9h1M443.3 323.1h1M430.6 322.5h1M421.8 319.2h1M432.1 316.1h1M436.2 311.5h1M430.8 327.1h1M427.3 314.2h1M431.8 312.5h1M437.9 324.4h1M421.5 316.3h1M435.5 315.9h1M438.9 320.7h1M436.5 316.0h1M419.2 314.8h1M415.8 318.2h1M428.7 313.0h1M428.2 308.5h1M426.6 315.1h1M427.1 322.5h1M423.8 307.0h1M439.8 313.5h1M435.1 318.6h1M420.1 325.9h1M439.9 322.0h1M417.1 326.8h1M430.8 315.9h1M428.4 323.4h1M430.5 304.7h1M427.7 308.1h1M424.0 317.0h1M448.6 323.5h1M421.1 324.8h1M405.9 318.6h1M423.8 314.9h1M418.9 316.9h1M441.5 311.1h1M447.7 302.9h1M434.6 322.5h1M444.8 313.8h1M444.2 315.3h1M430.8 319.5h1M436.4 318.6h1M429.2 314.8h1M426.7 315.4h1M422.0 319.5h1M428.5 320.4h1M422.2 318.7h1M438.9 313.3h1M444.0 318.3h1M429.4 320.7h1M437.3 320.4h1M420.4 323.5h1M432.8 324.8h1M442.8 319.9h1M439.8 308.2h1M419.3 328.1h1M425.9 317.4h1M422.9 321.3h1M414.9 323.4h1M449.5 302.3h1M432.0 324.4h1M432.2 315.2h1M435.3 313.5h1M433.9 310.5h1M450.6 321.0h1M425.4 325.8h1M413.6 329.2h1M421.6 320.7h1M430.6 324.7h1M422.0 309.9h1M401.3 331.4h1M425.9 329.5h1M440.7 312.3h1M431.4 317.7h1M431.1 311.8h1M438.5 315.6h1M433.2 321.9h1M425.3 323.0h1M416.4 338.9h1M423.6 326.3h1M440.1 307.5h1M431.0 312.2h1M432.6 313.6h1M428.3 320.9h1M428.7 319.3h1M422.9 319.1h1M421.6 323.6h1M442.2 313.8h1M421.2 319.9h1M403.5 320.4h1M422.0 331.0h1M439.1 312.8h1M421.5 326.2h1M429.1 315.5h1M426.3 308.4h1M429.0 321.0h1M427.6 328.5h1M436.8 317.6h1M420.3 316.4h1M433.1 319.8h1M418.5 315.8h1M417.2 324.7h1M420.2 332.9h1M435.6 309.3h1M422.9 316.9h1M436.5 310.8h1M417.9 335.7h1M428.7 323.3h1M416.5 329.8h1M419.7 323.9h1M443.2 306.9h1M417.5 319.6h1M400.7 325.6h1M430.2 312.3h1M405.2 335.6h1M424.9 326.6h1M426.6 335.5h1M436.8 309.0h1M425.1 330.4h1M434.3 312.0h1M440.8 308.2h1M437.2 316.8h1M420.0 317.1h1M432.3 316.6h1M434.2 313.1h1M426.5 321.8h1M423.5 319.8h1M437.6 315.4h1M425.7 317.2h1M417.5 320.3h1M408.3 330.5h1M417.6 315.4h1M435.0 320.9h1M418.4 321.1h1M435.8 315.7h1M430.0 323.5h1M417.6 316.6h1M432.6 321.4h1M432.1 320.1h1M429.1 317.0h1M409.5 330.3h1M424.7 323.1h1M419.5 325.7h1M439.9 324.0h1M418.9 328.7h1M432.3 323.2h1M428.1 318.0h1M429.2 312.1h1M424.6 331.3h1M417.0 317.6h1M434.4 309.8h1M420.2 321.3h1M431.9 318.9h1M449.0 314.7h1M428.3 319.3h1M446.7 314.8h1M431.9 327.2h1M426.5 320.7h1M401.5 334.7h1M452.1 311.5h1M427.9 305.3h1M428.9 327.5h1M408.3 322.1h1M415.4 327.3h1M411.7 326.2h1M411.2 328.3h1M439.9 315.3h1M429.3 330.1h1M443.9 307.4h1M423.7 322.4h1M406.4 331.8h1M422.7 320.5h1M428.7 315.7h1M430.1 319.3h1M424.4 319.6h1M432.5 319.1h1M430.4 324.0h1M421.2 327.3h1M439.0 318.6h1M423.7 321.4h1M436.1 316.8h1M431.0 315.3h1M425.3 325.1h1M423.3 320.8h1M435.7 318.0h1M432.6 331.5h1M451.0 334.9h1M447.6 317.6h1M419.8 324.7h1M433.3 312.6h1M426.3 324.1h1M426.9 322.9h1M423.7 323.0h1M422.6 327.7h1M433.9 320.1h1M424.2 325.3h1M436.8 323.7h1M441.3 312.6h1M430.7 323.4h1M417.3 325.8h1M417.9 311.9h1M440.1 318.4h1M447.0 310.6h1M431.7 318.5h1M432.6 327.2h1M427.6 323.2h1M438.8 314.3h1M408.0 317.0h1M431.4 317.4h1M434.5 314.4h1M413.6 321.3h1M422.3 317.0h1M424.1 318.2h1M426.3 318.9h1M427.2 320.7h1M434.1 324.0h1M424.6 316.7h1M438.5 313.8h1M448.1 303.9h1M438.1 313.9h1M411.2 336.1h1M422.0 320.9h1M432.0 323.0h1M442.0 314.4h1M422.7 324.7h1M429.0 308.7h1M422.5 316.3h1M423.0 326.6h1M427.6 323.9h1M447.3 312.2h1M423.7 322.0h1M423.8 336.0h1M420.4 327.5h1M432.5 315.1h1M433.4 316.4h1M425.9 326.6h1M430.8 319.9h1M428.5 320.4h1M427.1 327.3h1M431.3 321.7h1M452.6 313.6h1M444.0 310.2h1M433.7 321.8h1M422.3 312.9h1M423.4 332.8h1M422.8 318.1h1M428.1 323.2h1M414.9 331.1h1M438.5 313.9h1M430.6 316.4h1M437.9 317.1h1M427.8 333.3h1M423.1 316.3h1M428.8 308.0h1M414.3 321.4h1M436.6 315.9h1M426.6 320.3h1M426.7 320.4h1M420.7 333.6h1M425.0 321.5h1M431.8 312.4h1M443.3 294.0h1M423.5 320.3h1M413.5 329.7h1M433.8 318.1h1M436.5 307.2h1M443.5 323.4h1M435.8 316.6h1M423.7 307.9h1M419.0 326.6h1M434.9 323.2h1M428.0 322.2h1M427.6 314.8h1M432.9 317.6h1M428.7 310.1h1M426.2 317.1h1M416.6 319.9h1M435.4 312.2h1M424.6 323.0h1M430.4 301.7h1M422.6 318.6h1M419.7 311.0h1M441.6 315.2h1M440.6 311.7h1M423.1 316.5h1M432.4 313.1h1M425.0 320.0h1M432.3 318.2h1M427.7 322.8h1M425.1 324.2h1M435.9 317.9h1M428.4 319.7h1M443.5 313.9h1M435.0 318.0h1M432.2 326.1h1M426.9 319.5h1M419.1 325.9h1M407.4 331.7h1M421.6 322.1h1M430.7 319.2h1M435.5 315.1h1M434.4 320.8h1M439.7 316.6h1M426.9 326.3h1M422.0 329.7h1M446.6 318.3h1M430.1 312.1h1M430.9 317.0h1M427.4 311.4h1M416.3 320.8h1M443.8 322.0h1M431.0 328.4h1M423.1 317.8h1M435.7 317.0h1M423.7 325.4h1M415.8 327.1h1M428.8 315.1h1M435.6 319.6h1M412.8 341.2h1M419.9 329.0h1M419.2 322.6h1M434.7 300.2h1M435.7 318.5h1M428.2 321.9h1M427.6 323.6h1M420.2 327.0h1M424.9 310.0h1M441.2 315.6h1M428.4 316.6h1M420.0 323.5h1M416.5 321.9h1M425.3 330.0h1M430.8 322.3h1M417.4 322.1h1M436.4 326.2h1M421.6 319.7h1M436.1 315.3h1M429.7 322.2h1M431.7 318.6h1M426.5 317.4h1M428.3 320.1h1M430.6 326.4h1M438.7 313.3h1M418.5 326.5h1M416.7 322.5h1M412.7 336.5h1M425.3 320.8h1M436.6 324.7h1M422.2 319.5h1M414.9 322.8h1M440.6 312.6h1M430.6 319.6h1M422.1 331.9h1M435.1 317.8h1M414.6 319.1h1M427.3 322.4h1M426.2 316.8h1M427.7 334.5h1M421.0 325.3h1M434.2 314.7h1M428.2 320.3h1M435.4 309.4h1M436.2 318.8h1M415.8 319.8h1M439.9 325.1h1M449.3 312.2h1M429.6 312.5h1M438.3 308.4h1M431.2 316.0h1M443.0 317.7h1M436.0 314.6h1M433.8 317.5h1M427.5 312.8h1M418.2 329.7h1M416.1 331.0h1M432.4 324.3h1M439.9 315.0h1M423.7 334.7h1M438.4 308.8h1M436.5 307.5h1M420.3 322.2h1M419.5 315.9h1M423.2 322.6h1M432.3 315.0h1M424.4 320.0h1M434.4 326.4h1M424.0 320.9h1M420.6 317.9h1M438.7 315.9h1M443.3 307.8h1M451.5 319.1h1M428.1 318.7h1M442.6 318.4h1M415.1 327.4h1M438.9 311.6h1M412.5 323.5h1M430.3 319.3h1M449.5 318.7h1M422.3 310.8h1M441.5 305.5h1M428.5 324.5h1M427.8 323.5h1M413.4 336.4h1M427.1 314.9h1M406.9 329.7h1M442.9 313.3h1M421.7 322.1h1M421.8 316.4h1M432.5 327.9h1M429.9 320.4h1M427.6 318.8h1M443.9 310.5h1M422.6 319.5h1M443.0 313.7h1M424.8 322.7h1M430.3 329.7h1M431.3 320.5h1M432.0 314.3h1M431.6 314.0h1M427.1 313.1h1M416.1 320.2h1M421.4 320.6h1M432.5 312.2h1M409.8 321.2h1M434.0 318.1h1M429.5 317.8h1M416.3 330.1h1M437.3 313.9h1M425.2 317.9h1M440.3 318.9h1M435.6 308.1h1M422.3 313.9h1M427.3 322.4h1M433.6 310.9h1M434.1 317.7h1M439.8 314.4h1M425.9 321.7h1M437.7 312.0h1M421.1 318.0h1M437.5 314.5h1M424.9 319.7h1M438.2 317.1h1M426.5 322.1h1M423.4 319.2h1M436.3 306.5h1M428.0 321.4h1M432.3 325.6h1M422.4 318.5h1M445.9 310.8h1M421.2 325.7h1M433.6 319.1h1M452.5 323.7h1M424.2 316.6h1M446.4 317.4h1M423.3 317.4h1M435.6 320.0h1M423.3 322.3h1M435.0 316.4h1M415.4 323.2h1M426.9 317.9h1M424.9 328.0h1M423.6 322.2h1M425.2 317.2h1M415.9 325.1h1M433.5 315.5h1M424.1 327.2h1M439.3 319.0h1M431.5 324.1h1M414.5 329.5h1M436.8 322.7h1M432.0 329.7h1M431.8 322.9h1M429.6 316.8h1M426.9 315.3h1M410.5 320.8h1M416.7 326.7h1M410.2 324.5h1M433.8 321.4h1M435.9 326.5h1M432.0 313.4h1M425.5 320.2h1M434.3 312.7h1M438.2 309.4h1M418.7 331.8h1M420.6 330.3h1M434.1 315.5h1M427.7 315.5h1M429.3 317.1h1M429.1 315.1h1M421.6 321.2h1M434.4 317.5h1M431.7 313.8h1M420.1 312.6h1M421.2 310.6h1M420.1 321.1h1M441.9 317.9h1M430.5 313.4h1M429.1 321.4h1M425.1 330.5h1M434.8 321.4h1M435.3 324.9h1M425.6 326.3h1M424.6 329.3h1M425.9 312.7h1M414.6 329.4h1M435.3 315.5h1M429.3 320.6h1M436.1 314.3h1M422.3 316.1h1M420.1 315.4h1M424.0 316.6h1M421.9 317.7h1M422.7 318.1h1M425.4 331.9h1M430.6 324.3h1M416.0 321.1h1M420.7 321.3h1M424.6 321.8h1M447.2 324.7h1M424.0 322.6h1M428.4 312.3h1M417.0 309.8h1M427.9 313.0h1M422.0 313.7h1M417.5 319.7h1M458.4 295.9h1M446.6 310.0h1M447.2 300.2h1M457.7 289.7h1M445.2 309.4h1M449.4 286.5h1M446.0 300.5h1M416.4 315.7h1M432.4 290.7h1M412.2 318.0h1M433.3 300.5h1M448.1 309.1h1M430.7 307.1h1M448.1 302.8h1M445.1 320.8h1M443.2 288.2h1M435.0 306.3h1M467.7 288.2h1M437.8 298.3h1M444.9 299.5h1M421.2 301.3h1M427.3 300.5h1M441.1 298.3h1M438.0 292.9h1M432.5 272.6h1M430.6 303.0h1M452.7 291.7h1M431.3 308.9h1M447.3 287.9h1M451.4 292.0h1M448.9 306.2h1M443.0 307.0h1M462.0 283.9h1M432.8 284.5h1M416.4 303.7h1M423.3 305.6h1M443.6 289.2h1M433.3 318.1h1M448.0 310.4h1M431.8 321.4h1M436.1 293.0h1M444.3 291.6h1M445.6 291.4h1M429.1 319.1h1M439.0 314.2h1M446.1 304.9h1M445.6 296.2h1M449.6 310.3h1M440.7 294.8h1M440.5 295.0h1M440.1 307.1h1M425.3 298.0h1M448.2 300.9h1M435.0 298.4h1M465.7 293.9h1M424.8 317.5h1M422.1 307.3h1M447.2 296.6h1M445.5 312.4h1M434.3 299.0h1M446.9 293.9h1M430.8 297.5h1M467.2 277.1h1M452.7 286.6h1M428.6 307.3h1M454.7 292.1h1M462.4 286.7h1M459.6 286.5h1M427.7 318.8h1M426.2 304.3h1M449.5 311.3h1M448.0 303.3h1M425.5 311.8h1M457.4 288.6h1M425.9 291.2h1M441.1 311.2h1M430.3 309.7h1M437.3 295.4h1M448.3 288.7h1M445.3 297.2h1M436.6 278.3h1M451.2 284.5h1M456.3 299.0h1M449.3 308.8h1M455.9 293.7h1M436.5 314.3h1M429.1 306.7h1M445.4 299.9h1M438.9 296.1h1M440.0 314.0h1M433.1 302.3h1M442.8 301.0h1M438.8 289.4h1M441.1 305.5h1M453.6 293.0h1M439.4 308.8h1M444.3 288.3h1M448.8 311.9h1M421.4 326.3h1M455.0 306.2h1M436.4 321.0h1M435.6 324.8h1M425.9 296.2h1M434.1 294.5h1M442.0 291.4h1M459.2 302.8h1M441.1 302.3h1M448.0 300.1h1M447.2 305.9h1M419.8 307.6h1M434.0 309.5h1M447.4 300.3h1M452.2 306.9h1M436.0 307.5h1M444.7 285.1h1M440.4 291.1h1M437.8 310.6h1M455.0 294.5h1M451.6 308.1h1M433.8 292.4h1M432.7 314.6h1M439.4 314.4h1M438.2 304.8h1M447.9 307.2h1M443.6 303.4h1M430.1 321.8h1M432.5 296.6h1M463.5 281.8h1M449.6 300.6h1M442.5 289.9h1M447.9 301.7h1M435.1 291.4h1M431.9 305.2h1M446.2 307.3h1M439.5 310.9h1M457.3 311.3h1M437.8 313.6h1M434.9 302.3h1M432.2 308.2h1M428.2 315.8h1M433.2 286.3h1M451.4 305.4h1M428.3 318.8h1M454.4 306.2h1M456.3 307.2h1M426.2 318.7h1M437.0 304.0h1M439.5 322.8h1M466.0 299.4h1M440.0 307.3h1M444.5 309.8h1M432.4 309.4h1M452.1 307.1h1M438.3 288.1h1M442.9 305.9h1M447.9 297.1h1M455.0 293.3h1M422.7 314.6h1M429.5 279.3h1M439.9 302.6h1M453.8 298.8h1M422.9 304.8h1M432.1 292.5h1M412.8 307.8h1M461.3 290.7h1M457.4 302.9h1M463.9 297.1h1M452.3 306.0h1M433.9 312.7h1M434.2 294.4h1M458.2 308.9h1M441.8 298.1h1M442.0 299.5h1M429.7 305.3h1M450.1 310.9h1M446.5 297.1h1M454.0 309.4h1M443.3 278.6h1M447.8 309.4h1M434.1 299.6h1M438.5 302.0h1M447.9 309.5h1M427.2 300.4h1M448.3 310.3h1M445.4 303.3h1M458.6 296.0h1M427.9 313.5h1M445.9 294.1h1M447.1 307.8h1M449.9 280.5h1M443.9 294.9h1M426.4 313.3h1M438.2 296.3h1M449.4 286.5h1M453.8 309.2h1M446.5 289.0h1M425.8 307.4h1M421.8 314.0h1M437.4 301.0h1M449.8 307.6h1M440.8 282.3h1M448.6 304.6h1M436.8 300.3h1M434.2 298.6h1M461.6 285.3h1M453.7 311.0h1M436.3 296.2h1M445.8 300.5h1M440.1 296.6h1M439.3 303.4h1M446.7 305.9h1M435.2 297.5h1M408.6 296.0h1M419.3 306.7h1M434.0 302.3h1M421.4 294.0h1M416.5 295.9h1M433.0 287.8h1M416.8 284.8h1M421.5 272.0h1M423.9 306.2h1M436.3 290.2h1M414.9 301.7h1M423.0 290.6h1M427.6 292.2h1M430.3 281.7h1M413.9 308.6h1M418.8 298.7h1M427.9 292.3h1M427.3 295.9h1M425.8 294.8h1M434.2 287.8h1M435.4 319.2h1M412.6 294.3h1M420.5 278.4h1M416.6 310.9h1M418.9 301.1h1M417.0 303.4h1M422.2 280.0h1M442.5 311.4h1M410.6 282.5h1M410.7 288.1h1M419.6 284.9h1M418.1 294.2h1M420.5 314.9h1M421.4 303.0h1M418.3 286.3h1M410.0 296.8h1M430.0 288.0h1M415.9 307.5h1M425.5 306.1h1M426.0 293.6h1M418.4 273.9h1M429.8 308.0h1M425.9 303.2h1M414.6 273.1h1M429.0 288.9h1M425.7 281.5h1M419.3 291.0h1M416.4 280.3h1M401.7 298.3h1M417.6 302.9h1M432.1 302.5h1M428.5 269.3h1M421.6 294.3h1M431.0 277.3h1M421.1 291.9h1M416.9 301.7h1M432.5 307.3h1M414.1 312.2h1M403.1 286.9h1M436.0 292.7h1M413.8 309.0h1M406.6 275.9h1M406.4 282.7h1M426.3 277.2h1M430.4 283.6h1M417.6 279.4h1M423.6 291.0h1M422.4 297.5h1M437.0 293.3h1M437.7 301.6h1M432.6 281.4h1M410.9 282.7h1M434.1 281.2h1M424.6 321.7h1M415.7 263.2h1M421.7 285.8h1M427.6 280.9h1M419.2 275.0h1M406.3 293.2h1M414.6 295.9h1M427.2 302.3h1M422.0 268.5h1M428.6 288.5h1M426.1 301.3h1M414.9 292.4h1M431.6 295.7h1M432.8 282.6h1M426.4 298.8h1M420.1 296.7h1M415.0 259.8h1M414.5 300.7h1M429.5 288.1h1M430.0 297.2h1M441.6 270.2h1M421.5 285.1h1M431.2 296.2h1M419.8 300.5h1M422.2 307.2h1M408.4 310.8h1M414.8 309.2h1M420.9 291.3h1M417.8 304.2h1M411.7 274.7h1M431.7 309.0h1M410.3 304.5h1M426.8 280.4h1M413.6 297.9h1M408.5 302.6h1M412.0 303.4h1M413.0 271.4h1M420.1 291.6h1M419.8 297.6h1M446.9 263.9h1M436.5 294.4h1M425.4 295.7h1M413.6 282.3h1M425.2 294.7h1M431.7 281.0h1M419.4 284.0h1M436.6 272.3h1M427.9 301.3h1M416.8 295.2h1M426.2 271.7h1M410.2 304.5h1M411.1 267.2h1M428.9 307.6h1M415.4 312.7h1M429.1 288.4h1M419.9 281.9h1M432.8 339.5h1M409.8 341.5h1M422.5 338.6h1M407.5 334.2h1M407.5 324.1h1M408.9 315.3h1M395.2 323.9h1M407.0 336.7h1M408.8 332.1h1M413.8 330.2h1M422.1 341.9h1M415.8 320.0h1M406.7 343.2h1M412.6 322.4h1M398.3 337.7h1M399.7 322.3h1M405.2 329.5h1M417.6 325.7h1M409.1 338.9h1M418.5 321.9h1M427.5 317.4h1M429.5 332.1h1M415.8 328.4h1M423.7 333.1h1M414.0 322.0h1M412.0 332.6h1M413.5 323.6h1M407.1 334.4h1M405.5 337.4h1M419.5 315.5h1M432.2 321.1h1M408.9 330.9h1M412.0 333.1h1M413.7 328.0h1M408.9 330.3h1M416.8 311.0h1M407.2 338.6h1M405.5 326.3h1M404.4 338.5h1M397.9 335.7h1M411.5 332.1h1M415.6 330.6h1M422.4 333.7h1M405.2 336.4h1M418.3 324.2h1M422.1 335.9h1M403.4 337.6h1M410.3 340.0h1M401.2 319.4h1M405.4 337.0h1M413.2 327.8h1M409.5 339.3h1M421.3 344.3h1M418.6 317.8h1M406.9 338.7h1M401.5 332.0h1M402.5 331.1h1M404.8 327.7h1M411.1 333.1h1M416.2 336.2h1M420.8 324.0h1M417.8 345.3h1M411.4 329.1h1M415.1 328.0h1M409.2 335.6h1M417.0 331.5h1M413.2 328.0h1M416.9 329.8h1M413.5 334.9h1M422.1 334.0h1M406.8 324.9h1M436.1 333.2h1M403.5 331.7h1M403.2 331.7h1M408.0 327.4h1M403.5 331.4h1M422.5 342.1h1M415.7 329.6h1M404.9 339.5h1M416.9 339.3h1M402.5 337.5h1M418.3 338.5h1M414.9 332.7h1M411.9 321.9h1M405.1 335.2h1M393.7 333.8h1M420.2 324.8h1M410.0 338.3h1M417.4 334.6h1M412.6 340.4h1M424.2 310.6h1M406.4 342.6h1M410.1 323.5h1M393.7 310.5h1M419.3 339.8h1M407.7 327.0h1M412.9 325.0h1M411.3 326.9h1M421.8 333.8h1M401.6 338.0h1M421.6 328.4h1M404.5 340.0h1M417.5 331.7h1M421.4 331.2h1M415.9 328.5h1M402.5 326.9h1M411.0 291.4h1M427.7 332.2h1M443.0 272.9h1M431.0 260.7h1M426.1 286.4h1M446.6 312.1h1M412.0 291.5h1M423.7 287.6h1M466.3 303.7h1M404.2 301.4h1M441.9 309.6h1M430.0 318.7h1M397.1 295.7h1M421.7 281.3h1M454.9 278.2h1M438.1 327.8h1M441.9 302.0h1M440.7 311.3h1M429.4 299.5h1M451.8 311.2h1M427.8 294.2h1" stroke="#000" stroke-width="1" stroke-opacity="0.6" fill="none"/>
<path d="M418.3 332.2h1M443.6 303.0h1M421.9 313.9h1M434.0 303.0h1M424.7 327.5h1M421.2 334.2h1M411.4 334.2h1M437.4 303.7h1M434.4 326.7h1M426.6 315.7h1M422.4 320.8h1M417.3 328.5h1M448.4 317.6h1M425.8 318.4h1M424.5 318.9h1M440.4 310.1h1M406.5 329.0h1M442.2 322.9h1M424.3 322.1h1M451.1 321.3h1M406.0 330.4h1M427.3 319.2h1M431.5 317.0h1M428.4 317.3h1M429.0 321.2h1M424.0 309.4h1M428.8 326.4h1M443.8 306.6h1M434.0 313.7h1M419.8 319.0h1M429.3 312.1h1M434.8 310.5h1M435.3 312.5h1M434.4 319.6h1M427.2 320.7h1M437.6 315.1h1M430.2 310.3h1M433.8 320.9h1M430.8 320.2h1M444.1 319.7h1M440.1 324.2h1M429.2 316.9h1M440.3 317.8h1M434.8 311.8h1M415.9 328.9h1M440.1 305.5h1M424.1 323.2h1M426.4 329.1h1M426.8 325.8h1M411.9 331.4h1M422.0 313.3h1M428.3 319.3h1M449.2 310.0h1M419.0 325.1h1M439.2 323.8h1M432.5 310.3h1M422.7 314.6h1M411.0 317.9h1M415.9 318.6h1M433.7 307.4h1M443.2 310.5h1M439.5 318.5h1M430.8 322.4h1M426.1 328.2h1M424.5 324.9h1M429.7 316.3h1M435.5 321.2h1M425.1 317.6h1M423.7 314.1h1M418.8 320.8h1M418.1 315.3h1M442.8 326.1h1M449.0 310.1h1M430.7 314.3h1M438.6 303.8h1M434.9 311.0h1M439.1 309.9h1M440.4 298.2h1M421.6 320.4h1M430.3 313.2h1M436.5 318.8h1M435.4 326.7h1M435.8 317.5h1M426.4 322.8h1M425.7 317.8h1M432.2 309.5h1M412.7 317.7h1M430.6 331.1h1M414.3 324.0h1M421.9 315.1h1M425.1 328.9h1M428.4 312.7h1M442.6 309.8h1M427.6 322.4h1M417.0 321.7h1M421.8 324.2h1M430.3 320.0h1M420.7 325.3h1M425.1 319.6h1M410.2 325.1h1M433.4 322.0h1M435.8 324.2h1M416.9 319.1h1M420.1 317.6h1M432.8 314.2h1M430.4 327.0h1M434.0 316.5h1M439.1 316.4h1M436.8 315.9h1M435.5 318.3h1M434.9 310.6h1M433.0 317.3h1M423.6 327.0h1M436.0 320.8h1M442.4 320.5h1M436.0 328.5h1M439.8 313.6h1M429.6 317.0h1M421.2 318.8h1M419.3 316.3h1M437.7 311.3h1M442.2 319.9h1M438.5 308.4h1M441.1 320.2h1M425.8 324.1h1M440.4 312.4h1M429.3 328.2h1M429.1 326.8h1M426.2 323.1h1M422.8 328.4h1M420.5 312.1h1M441.2 313.4h1M426.9 320.2h1M421.0 312.7h1M442.3 316.6h1M440.3 309.7h1M439.4 318.8h1M418.9 328.7h1M418.7 328.5h1M413.6 327.1h1M429.8 312.6h1M435.3 322.9h1M423.3 316.7h1M427.8 317.5h1M413.6 333.7h1M434.6 319.3h1M432.4 313.7h1M409.6 336.5h1M438.0 322.2h1M431.2 305.3h1M428.1 316.7h1M436.4 313.9h1M440.7 329.6h1M438.4 318.6h1M445.0 319.3h1M435.8 302.3h1M413.5 325.2h1M436.0 311.5h1M438.1 318.1h1M427.7 327.8h1M437.7 309.6h1M437.3 318.8h1M430.5 318.1h1M436.3 316.5h1M415.2 331.8h1M432.9 313.6h1M420.9 316.7h1M432.1 314.2h1M426.8 318.1h1M404.2 331.3h1M440.8 307.0h1M422.0 318.7h1M422.3 315.9h1M423.0 313.6h1M434.3 321.3h1M439.5 308.7h1M422.4 326.6h1M416.4 318.9h1M425.8 324.3h1M448.8 313.2h1M437.1 308.9h1M432.5 312.2h1M425.5 327.4h1M438.3 314.2h1M427.7 325.0h1M428.9 326.4h1M427.6 322.0h1M467.6 305.5h1M425.2 318.7h1M430.0 316.4h1M425.4 318.7h1M430.1 323.0h1M423.7 319.7h1M453.5 312.9h1M419.1 322.2h1M432.1 315.4h1M422.6 328.2h1M425.0 328.4h1M417.2 324.6h1M433.9 328.6h1M424.1 318.7h1M424.3 323.7h1M418.1 315.4h1M433.5 324.4h1M434.4 318.4h1M446.9 311.5h1M434.7 322.1h1M436.1 316.0h1M420.6 321.6h1M422.2 334.1h1M430.4 311.6h1M437.9 310.1h1M426.5 313.7h1M433.3 324.1h1M425.3 331.7h1M426.4 317.7h1M420.5 327.0h1M434.2 311.9h1M420.7 328.1h1M420.4 329.0h1M442.6 306.3h1M430.2 322.0h1M441.6 316.9h1M442.9 314.7h1M422.1 322.7h1M435.6 325.0h1M415.6 327.7h1M442.9 316.2h1M417.9 323.7h1M433.1 325.0h1M414.4 323.9h1M425.3 333.0h1M422.3 321.1h1M422.6 322.5h1M434.3 310.4h1M436.6 308.5h1M425.9 324.0h1M439.5 320.9h1M426.6 324.1h1M428.8 313.3h1M421.5 318.7h1M432.4 310.8h1M418.3 326.0h1M423.9 323.9h1M432.8 317.6h1M413.7 316.0h1M455.1 310.0h1M424.2 320.2h1M437.0 320.3h1M421.4 326.4h1M436.6 318.3h1M439.3 307.4h1M433.5 319.0h1M432.9 323.4h1M424.6 321.4h1M426.2 315.9h1M432.0 322.2h1M415.1 328.0h1M422.7 317.4h1M413.6 321.6h1M429.7 323.7h1M437.4 321.4h1M434.4 324.0h1M424.7 329.5h1M439.8 307.1h1M430.2 311.2h1M447.0 311.3h1M436.8 307.2h1M419.7 317.0h1M418.7 328.5h1M434.7 321.3h1M415.6 316.0h1M422.0 319.0h1M435.9 316.2h1M423.1 315.4h1M423.9 317.3h1M431.0 320.4h1M398.9 335.6h1M407.9 332.0h1M434.1 315.8h1M438.6 312.5h1M424.9 316.8h1M429.3 318.1h1M425.2 327.1h1M436.2 325.5h1M413.7 323.6h1M435.0 328.6h1M436.6 304.5h1M423.1 326.8h1M410.0 320.6h1M431.9 311.5h1M440.1 312.1h1M425.8 328.9h1M420.8 322.7h1M423.9 319.5h1M424.8 327.7h1M412.1 323.5h1M424.6 327.9h1M421.7 319.4h1M443.2 324.6h1M420.8 321.8h1M438.3 314.3h1M426.1 316.8h1M423.3 317.0h1M411.4 318.2h1M422.4 314.4h1M444.7 320.6h1M435.3 323.0h1M431.0 324.2h1M417.6 326.5h1M432.6 318.9h1M443.6 310.0h1M418.7 324.1h1M422.9 326.6h1M430.5 318.0h1M443.5 309.8h1M436.2 305.9h1M422.6 317.8h1M415.2 331.8h1M428.4 320.3h1M437.0 315.1h1M436.8 318.3h1M423.3 305.8h1M450.4 308.9h1M430.2 321.0h1M429.0 317.4h1M429.8 321.0h1M433.7 316.6h1M425.7 318.3h1M431.5 326.7h1M440.1 317.1h1M421.6 321.0h1M436.4 313.9h1M436.2 315.3h1M415.3 326.2h1M432.3 322.5h1M433.9 314.5h1M425.6 312.2h1M448.4 319.3h1M443.1 314.6h1M423.9 325.2h1M429.6 316.7h1M438.5 315.5h1M433.8 311.1h1M427.7 323.1h1M422.4 317.1h1M444.3 318.6h1M425.0 331.7h1M420.8 310.5h1M416.4 320.7h1M432.9 315.9h1M420.4 325.5h1M424.3 325.1h1M419.2 312.8h1M422.5 330.2h1M437.5 309.1h1M445.8 307.4h1M423.0 325.2h1M427.1 310.8h1M429.3 317.2h1M430.8 314.2h1M441.6 317.5h1M422.5 324.3h1M438.8 313.5h1M438.8 308.9h1M414.6 321.8h1M429.8 322.8h1M419.1 331.6h1M447.5 305.5h1M434.2 319.5h1M438.2 321.1h1M415.6 329.9h1M429.9 317.7h1M434.9 314.1h1M425.6 326.5h1M428.2 314.8h1M428.3 323.2h1M424.7 324.4h1M435.6 310.1h1M406.8 329.7h1M435.1 318.8h1M421.5 329.9h1M426.3 322.3h1M433.4 322.6h1M424.9 329.4h1M419.5 321.6h1M424.7 330.4h1M428.3 316.6h1M417.0 311.1h1M437.0 315.9h1M437.9 320.4h1M424.0 324.0h1M430.1 326.6h1M424.8 325.4h1M446.3 314.8h1M432.3 323.6h1M440.7 314.5h1M425.2 317.1h1M430.8 310.5h1M415.0 308.2h1M434.0 314.4h1M422.3 317.4h1M432.1 315.4h1M436.4 310.2h1M438.9 316.0h1M432.8 321.6h1M429.9 321.9h1M431.6 319.1h1M432.0 311.1h1M420.6 322.0h1M426.8 319.2h1M423.0 327.2h1M415.5 324.8h1M419.4 332.5h1M424.3 317.4h1M427.5 315.4h1M438.6 316.5h1M436.7 319.0h1M419.2 328.4h1M425.3 315.6h1M428.4 324.0h1M434.2 316.5h1M435.6 316.7h1M437.8 316.0h1M427.1 325.2h1M428.8 317.5h1M437.7 315.9h1M438.0 320.8h1M434.4 328.2h1M416.1 315.5h1M432.0 309.1h1M423.6 335.6h1M411.3 317.6h1M445.0 308.3h1M417.1 319.4h1M428.3 322.6h1M432.1 319.3h1M412.3 316.2h1M443.2 314.4h1M427.8 318.0h1M432.6 321.2h1M433.5 321.7h1M414.5 329.6h1M430.3 330.2h1M422.4 325.2h1M424.0 322.5h1M439.6 322.7h1M417.9 322.6h1M416.4 315.4h1M423.0 323.7h1M449.4 311.0h1M449.6 303.3h1M423.0 310.6h1M422.1 318.3h1M441.7 314.2h1M427.9 322.3h1M435.5 311.0h1M431.5 309.1h1M411.0 323.2h1M416.5 320.6h1M407.3 338.6h1M444.3 312.7h1M430.1 328.4h1M442.4 307.5h1M435.4 314.1h1M438.7 314.7h1M431.5 327.6h1M429.6 311.7h1M435.7 326.0h1M416.0 320.3h1M423.3 322.7h1M423.1 314.6h1M431.7 298.8h1M423.4 328.4h1M411.8 330.4h1M436.8 317.5h1M420.8 318.4h1M444.1 320.1h1M434.0 319.3h1M430.0 321.4h1M428.2 317.7h1M433.8 325.1h1M427.3 324.0h1M431.2 325.3h1M427.8 328.3h1M424.1 322.8h1M438.6 314.3h1M418.2 327.6h1M422.6 331.4h1M426.2 316.3h1M430.4 305.7h1M439.2 318.5h1M443.8 322.8h1M440.5 318.9h1M411.7 328.0h1M426.0 318.5h1M434.8 313.7h1M430.5 315.3h1M437.4 307.9h1M424.6 335.3h1M445.5 313.7h1M402.2 326.0h1M409.2 334.6h1M432.1 320.8h1M426.6 329.0h1M427.3 305.0h1M434.5 311.0h1M420.8 322.7h1M445.8 300.7h1M431.2 316.9h1M424.2 325.0h1M415.6 310.4h1M426.0 328.4h1M436.1 315.6h1M425.6 315.6h1M430.4 316.3h1M430.0 323.0h1M441.0 324.2h1M434.7 319.7h1M429.9 327.5h1M416.9 311.1h1M416.7 313.7h1M436.9 299.2h1M440.0 316.8h1M429.4 313.2h1M418.0 339.3h1M444.0 316.2h1M424.5 321.0h1M437.7 309.9h1M430.5 320.1h1M427.7 322.2h1M422.7 318.1h1M440.7 306.9h1M409.3 327.1h1M426.6 324.9h1M438.0 325.9h1M428.5 331.7h1M426.5 316.6h1M442.5 309.0h1M417.8 313.2h1M438.1 321.9h1M417.3 327.2h1M431.6 315.7h1M430.4 314.4h1M429.4 318.9h1M430.7 324.0h1M431.9 315.9h1M423.3 333.7h1M430.1 314.4h1M428.7 320.5h1M450.5 314.3h1M429.1 317.3h1M418.8 322.4h1M436.7 314.8h1M410.6 333.5h1M424.2 324.2h1M445.6 314.0h1M425.1 321.6h1M412.0 327.0h1M425.7 321.0h1M434.5 316.1h1M398.4 332.0h1M431.6 318.3h1M429.8 318.2h1M417.7 331.1h1M428.3 318.4h1M434.1 310.3h1M430.9 318.7h1M427.6 308.0h1M419.7 327.5h1M430.8 316.0h1M421.5 324.2h1M419.4 313.9h1M453.0 303.6h1M424.9 321.0h1M439.4 309.4h1M439.9 323.7h1M427.7 315.3h1M422.4 326.1h1M426.7 328.3h1M440.5 309.6h1M428.9 323.5h1M431.5 327.6h1M419.5 311.1h1M445.1 302.3h1M456.9 308.0h1M464.0 293.1h1M453.9 298.1h1M427.3 305.0h1M454.3 298.0h1M447.2 296.5h1M440.1 301.8h1M432.8 314.8h1M442.9 309.7h1M442.1 278.2h1M448.1 292.4h1M434.6 299.3h1M453.0 304.3h1M453.7 291.6h1M444.0 304.0h1M443.0 307.3h1M441.0 307.7h1M460.8 302.1h1M438.9 309.2h1M438.5 314.8h1M457.7 289.7h1M459.2 308.8h1M442.8 300.7h1M438.8 292.5h1M446.4 294.7h1M475.6 283.0h1M455.2 293.1h1M440.7 302.2h1M454.3 304.9h1M423.4 288.7h1M445.7 295.7h1M434.3 310.1h1M451.1 286.8h1M466.3 295.7h1M453.2 299.4h1M449.4 289.3h1M459.7 296.5h1M462.0 285.0h1M433.1 304.8h1M428.5 311.6h1M437.5 293.4h1M465.3 282.3h1M451.5 302.5h1M429.0 314.3h1M451.1 294.3h1M441.9 298.5h1M438.4 293.3h1M429.4 316.6h1M439.4 290.0h1M450.9 292.1h1M443.3 284.7h1M440.4 308.5h1M454.0 294.4h1M452.9 290.0h1M444.6 301.7h1M435.9 293.0h1M453.4 302.3h1M442.4 300.1h1M444.1 282.6h1M428.8 307.5h1M445.5 305.6h1M434.1 305.3h1M434.8 306.9h1M428.0 311.8h1M443.8 311.7h1M455.0 309.1h1M441.4 287.1h1M449.7 283.0h1M439.4 300.9h1M442.9 309.5h1M422.6 315.1h1M432.6 299.5h1M424.6 297.4h1M441.7 300.9h1M442.3 290.8h1M431.2 304.1h1M448.5 300.8h1M455.6 306.3h1M450.7 294.0h1M439.7 291.5h1M448.2 305.5h1M428.1 307.8h1M436.9 312.2h1M445.5 285.9h1M428.0 311.4h1M441.7 319.2h1M431.5 309.6h1M443.4 292.9h1M450.2 299.0h1M455.9 280.3h1M438.2 314.6h1M455.4 303.1h1M432.2 282.6h1M448.6 300.8h1M439.1 293.3h1M461.7 299.5h1M442.4 317.1h1M428.1 301.4h1M439.6 297.9h1M427.2 310.1h1M441.9 306.5h1M432.3 309.0h1M440.6 283.5h1M444.0 277.9h1M442.8 307.6h1M440.2 297.4h1M432.0 302.2h1M435.2 287.1h1M432.5 320.6h1M432.3 304.1h1M439.4 315.6h1M448.9 300.1h1M434.7 297.7h1M438.0 315.5h1M455.9 309.9h1M423.3 288.8h1M456.1 301.7h1M458.3 316.0h1M434.4 298.9h1M438.8 287.3h1M437.9 328.0h1M430.3 292.8h1M440.6 298.3h1M447.9 292.0h1M429.8 302.3h1M450.7 283.7h1M426.9 298.4h1M452.9 281.7h1M433.1 301.9h1M460.9 288.3h1M426.5 307.2h1M445.0 292.2h1M441.4 300.7h1M453.4 289.7h1M452.2 292.2h1M458.4 293.5h1M444.7 299.1h1M441.1 286.1h1M455.9 297.0h1M440.8 307.7h1M444.4 299.7h1M439.7 306.4h1M456.6 298.2h1M434.9 286.7h1M432.9 292.2h1M437.8 293.3h1M439.4 294.4h1M447.5 297.6h1M438.2 297.9h1M418.5 304.8h1M429.6 300.6h1M421.0 299.7h1M451.8 296.7h1M436.9 284.3h1M455.2 296.0h1M442.5 305.1h1M445.0 299.4h1M433.0 319.5h1M434.0 311.5h1M453.7 314.2h1M429.1 316.4h1M434.3 299.4h1M443.3 318.0h1M444.0 312.7h1M430.0 326.9h1M449.4 298.8h1M446.0 299.6h1M437.8 304.9h1M435.9 312.7h1M446.7 304.6h1M446.7 305.4h1M452.5 291.7h1M439.8 288.9h1M453.4 304.9h1M451.4 301.5h1M446.5 305.0h1M428.4 311.6h1M438.6 320.7h1M429.5 315.0h1M432.3 293.8h1M423.4 307.8h1M445.1 299.6h1M438.8 295.5h1M436.3 299.6h1M437.0 298.2h1M438.7 324.1h1M422.3 332.2h1M437.6 301.9h1M426.1 303.9h1M442.8 309.5h1M465.7 283.7h1M449.5 301.8h1M433.6 294.9h1M433.0 307.5h1M449.3 288.8h1M454.3 306.1h1M436.3 309.1h1M432.6 302.9h1M460.1 295.7h1M439.4 308.4h1M444.0 293.3h1M458.3 289.7h1M436.7 315.1h1M447.2 292.7h1M442.3 309.3h1M419.0 295.8h1M437.2 290.6h1M435.0 311.1h1M452.0 299.5h1M434.6 314.2h1M430.6 322.9h1M458.3 302.3h1M435.6 314.9h1M441.2 300.0h1M453.9 298.4h1M439.9 287.8h1M432.7 318.4h1M454.5 291.8h1M446.2 313.5h1M433.0 297.1h1M451.3 298.3h1M446.9 306.7h1M441.3 313.9h1M432.7 314.9h1M448.8 316.4h1M454.9 289.5h1M442.5 292.9h1M444.9 309.9h1M447.0 294.6h1M449.8 304.1h1M431.3 299.9h1M430.8 313.4h1M409.5 292.1h1M413.6 301.1h1M430.2 279.8h1M416.9 284.8h1M416.1 294.5h1M425.2 305.4h1M430.3 292.1h1M416.3 311.3h1M423.2 298.2h1M401.2 305.1h1M419.6 291.7h1M427.8 292.6h1M418.9 305.6h1M411.9 269.2h1M426.7 290.6h1M419.7 287.7h1M420.6 282.5h1M436.2 283.7h1M413.2 281.2h1M413.7 307.8h1M414.4 275.8h1M422.1 286.4h1M438.2 276.1h1M431.4 288.7h1M415.1 315.0h1M410.4 316.1h1M419.2 290.8h1M426.3 285.3h1M428.8 311.7h1M422.3 298.5h1M432.6 296.5h1M419.8 290.7h1M421.0 278.8h1M408.6 294.6h1M414.2 281.1h1M428.8 289.0h1M421.0 308.1h1M419.3 290.0h1M424.1 284.8h1M437.3 295.8h1M414.6 282.1h1M412.1 296.9h1M420.1 279.6h1M422.2 269.9h1M419.1 294.5h1M433.0 310.4h1M423.6 271.3h1M420.3 298.9h1M416.4 281.7h1M419.2 293.8h1M438.5 291.7h1M417.9 298.0h1M420.9 269.4h1M423.2 278.2h1M425.3 295.5h1M414.7 315.6h1M446.4 293.4h1M419.9 288.5h1M421.1 323.4h1M421.5 294.3h1M422.3 288.2h1M409.3 286.1h1M420.9 290.6h1M430.2 279.2h1M425.8 295.8h1M428.3 299.1h1M415.8 312.5h1M418.9 299.9h1M422.0 301.2h1M424.8 282.6h1M423.1 283.6h1M412.1 290.9h1M439.1 299.1h1M429.3 268.0h1M429.5 288.6h1M413.9 278.9h1M415.2 286.7h1M432.2 282.0h1M420.5 293.9h1M429.5 308.3h1M400.3 276.6h1M422.9 305.5h1M418.4 287.2h1M417.1 282.8h1M422.4 276.0h1M425.5 268.0h1M405.3 290.8h1M412.1 290.1h1M424.0 298.7h1M441.0 293.8h1M431.3 289.5h1M425.7 293.4h1M432.9 286.4h1M422.8 299.3h1M426.8 303.9h1M427.5 286.7h1M426.3 274.4h1M422.1 292.0h1M420.7 291.2h1M419.8 304.2h1M408.4 289.9h1M423.2 300.7h1M419.1 281.0h1M431.5 299.1h1M436.2 299.3h1M419.6 285.4h1M430.0 286.9h1M416.0 289.7h1M414.0 289.2h1M415.7 297.1h1M422.9 292.3h1M423.9 293.7h1M407.2 305.5h1M427.5 294.3h1M437.3 295.0h1M428.9 290.6h1M416.5 340.9h1M413.2 330.3h1M416.8 331.6h1M428.7 325.9h1M416.1 338.4h1M403.9 334.6h1M423.2 329.6h1M425.6 331.5h1M416.1 330.5h1M422.9 336.3h1M414.1 322.3h1M399.2 326.8h1M405.8 339.2h1M422.0 328.9h1M413.3 338.1h1M418.7 330.1h1M418.1 341.5h1M411.4 335.4h1M424.1 332.4h1M409.7 329.0h1M421.3 317.7h1M413.2 323.3h1M413.5 336.0h1M403.9 327.2h1M414.9 333.1h1M410.2 330.3h1M423.1 321.4h1M412.4 323.8h1M416.8 342.3h1M435.2 323.9h1M413.2 335.7h1M421.3 329.1h1M405.9 330.2h1M418.8 327.2h1M421.7 341.3h1M413.7 323.5h1M408.7 331.7h1M401.5 337.6h1M413.8 327.5h1M419.1 345.9h1M415.4 337.1h1M406.3 344.3h1M414.5 319.7h1M402.2 339.6h1M399.8 345.2h1M394.6 333.7h1M418.6 325.3h1M415.6 330.3h1M403.6 318.9h1M399.4 331.3h1M403.2 330.7h1M414.0 327.2h1M413.1 327.3h1M409.3 318.4h1M415.9 336.6h1M427.2 323.2h1M407.3 339.1h1M402.8 326.3h1M413.6 335.5h1M421.8 340.1h1M423.0 342.7h1M393.2 324.3h1M413.9 343.7h1M406.3 337.5h1M415.1 314.9h1M423.0 333.0h1M399.7 339.1h1M403.1 325.5h1M412.7 316.5h1M414.1 329.0h1M405.5 335.6h1M405.5 334.8h1M412.6 333.6h1M405.5 324.2h1M419.1 320.2h1M416.9 329.9h1M420.3 344.3h1M400.3 328.9h1M423.1 334.8h1M418.1 328.3h1M409.8 334.9h1M412.2 327.1h1M408.7 326.7h1M400.0 341.1h1M404.1 339.4h1M395.7 342.7h1M412.4 332.5h1M405.9 321.6h1M401.1 321.8h1M406.7 333.1h1M420.0 334.5h1M419.2 342.2h1M426.5 325.9h1M400.9 329.4h1M398.6 326.5h1M415.8 331.0h1M412.0 324.8h1M416.3 330.4h1M422.3 323.2h1M416.3 332.7h1M421.0 326.3h1M416.2 324.9h1M419.2 322.7h1M403.9 312.0h1M416.9 328.3h1M411.7 326.5h1M408.5 332.0h1M413.6 324.2h1M414.0 318.0h1M421.1 334.8h1M395.8 334.4h1M412.0 342.4h1M418.7 328.0h1M416.9 329.9h1M411.5 337.0h1M419.9 312.5h1M404.5 336.4h1M413.3 340.8h1M413.8 333.8h1M415.4 331.7h1M412.4 339.3h1M426.8 341.8h1M412.3 331.3h1M410.6 328.1h1M391.3 328.2h1M401.9 341.4h1M404.5 287.7h1M479.8 289.7h1M403.3 272.8h1M466.5 288.7h1M448.2 287.8h1M441.2 258.7h1M441.1 288.6h1M389.8 310.7h1M409.0 308.1h1M447.5 273.9h1M470.1 270.3h1M399.1 308.7h1M434.0 249.5h1M428.3 303.6h1M431.2 297.3h1M440.0 301.7h1M409.5 269.8h1M511.9 308.2h1M406.0 285.5h1M480.4 274.0h1M394.7 279.9h1M428.9 267.8h1M432.2 290.8h1M398.2 313.0h1M401.3 315.1h1M430.5 244.6h1M464.8 282.5h1" stroke="#000" stroke-width="1" stroke-opacity="0.85" fill="none"/>
<path d="M261.6 502.0h1M252.0 499.9h1M256.1 512.1h1M250.2 511.6h1M255.3 495.4h1M243.3 511.5h1M249.1 505.7h1M249.7 506.2h1M252.0 504.7h1M252.9 509.6h1M256.9 501.3h1M245.4 507.9h1M261.8 508.3h1M264.5 508.5h1M262.5 496.2h1M264.1 510.3h1M249.1 505.5h1M268.9 503.1h1M251.3 507.4h1M257.6 517.2h1M256.8 506.1h1M253.5 505.8h1M259.8 500.1h1M260.6 508.1h1M247.6 507.1h1M254.3 500.3h1M251.1 509.0h1M260.6 506.2h1M259.8 507.0h1M253.2 511.4h1M259.1 496.8h1M262.5 505.1h1M259.9 510.1h1M257.9 504.5h1M252.1 501.7h1M241.6 514.6h1M250.3 507.7h1M254.9 501.8h1M255.9 512.1h1M251.9 506.5h1M253.2 499.2h1M262.8 510.7h1M251.2 505.1h1M264.4 501.3h1M254.5 502.5h1M257.3 512.2h1M262.8 520.0h1M257.0 508.9h1M261.6 500.2h1M250.8 506.5h1M255.4 494.1h1M263.8 496.3h1M248.3 511.8h1M258.0 509.7h1M252.0 516.8h1M262.3 501.3h1M258.3 501.9h1M255.5 508.0h1M250.0 522.6h1M260.6 508.7h1M254.9 519.5h1M259.8 505.8h1M252.1 516.1h1M258.8 505.1h1M267.0 503.8h1M254.0 517.1h1M254.8 496.3h1M254.4 504.2h1M252.6 512.9h1M266.5 500.7h1M257.1 509.9h1M251.1 503.5h1M256.0 513.0h1M258.7 522.1h1M264.6 506.3h1M250.9 499.5h1M256.9 510.4h1M249.1 505.9h1M255.9 509.9h1M256.0 514.1h1M247.5 501.5h1M250.9 503.4h1M252.2 513.0h1M257.9 501.3h1M256.7 506.2h1M252.0 506.5h1M257.2 508.8h1M267.9 516.1h1M251.0 507.9h1M270.2 510.6h1M256.4 508.4h1M256.0 505.0h1M258.6 505.5h1M253.7 510.7h1M261.5 504.2h1M251.4 501.4h1M259.9 502.0h1M255.4 507.9h1M252.3 506.9h1M263.1 513.8h1M258.1 502.7h1M243.8 480.8h1M270.5 481.4h1M257.6 484.9h1M283.7 482.9h1M270.2 496.4h1M275.6 471.7h1M278.6 490.9h1M263.3 492.8h1M277.0 473.4h1M252.1 481.0h1M270.7 481.9h1M269.6 463.3h1M261.2 468.9h1M254.7 501.2h1M268.9 479.5h1M272.8 509.6h1M276.4 481.9h1M277.2 493.2h1M253.3 511.5h1M266.8 490.2h1M261.5 477.3h1M266.3 493.6h1M263.0 492.0h1M271.6 498.1h1M289.1 463.1h1M283.4 484.6h1M279.4 473.6h1M240.1 519.1h1M259.6 499.8h1M262.5 477.0h1M276.8 487.5h1M255.9 508.8h1M269.4 501.2h1M264.5 493.6h1M284.8 471.7h1M297.8 482.8h1M280.2 498.9h1M236.6 502.5h1M243.0 512.1h1M253.0 483.6h1M274.7 485.2h1M277.7 511.1h1M264.1 474.5h1M266.7 475.9h1M280.7 485.8h1M264.4 528.6h1M269.4 475.3h1M258.6 490.3h1M293.7 476.4h1M273.4 509.8h1M243.6 508.1h1M266.8 484.2h1M269.2 495.3h1M257.1 488.0h1M255.9 480.6h1M263.6 490.7h1M272.6 471.5h1M262.4 505.6h1M258.1 512.8h1M276.0 486.1h1M289.9 469.8h1M274.1 502.7h1M276.0 493.5h1M286.5 486.1h1M282.8 468.6h1M260.3 495.9h1M270.0 468.0h1M264.5 508.0h1M259.3 490.6h1M255.9 484.4h1M269.5 494.1h1M285.4 468.6h1M247.9 482.5h1M277.6 495.7h1M262.3 503.7h1M280.5 491.5h1M273.7 480.6h1M276.6 484.5h1M245.2 500.9h1M266.4 495.6h1M285.7 481.2h1M277.9 484.7h1M287.1 493.8h1M269.2 498.1h1M273.4 469.6h1M235.5 493.1h1M270.1 489.8h1M275.4 503.7h1M289.9 492.1h1M292.8 464.8h1M282.2 474.6h1M280.5 472.6h1M302.7 484.2h1M302.8 491.1h1M241.5 504.7h1M263.7 497.2h1M265.8 477.1h1M283.6 459.9h1M267.2 491.1h1M268.2 479.5h1M293.3 482.6h1M281.1 489.4h1M262.3 511.7h1M283.8 477.5h1M278.3 476.9h1M283.4 471.0h1M263.0 488.3h1M281.0 476.1h1M257.2 493.0h1M259.1 487.5h1M273.7 490.8h1M274.0 483.1h1M258.4 502.6h1M277.8 481.9h1M258.7 479.1h1M287.4 447.1h1M261.0 519.8h1M258.9 490.5h1M267.2 483.0h1M245.1 500.9h1M252.2 492.8h1M239.3 508.6h1M251.9 482.2h1M258.4 485.7h1M260.9 531.3h1M263.8 510.2h1M273.1 467.3h1M289.1 482.6h1M283.5 511.6h1M270.5 494.9h1M249.7 493.9h1M265.6 480.0h1M277.2 476.4h1M260.3 498.0h1M269.0 515.0h1M286.9 497.1h1M294.0 485.9h1M246.2 492.8h1M237.1 496.3h1M274.4 476.6h1M277.1 483.1h1M263.9 487.2h1M274.5 485.2h1M266.7 468.9h1M282.6 487.8h1M250.2 495.7h1M274.4 469.5h1M264.5 486.7h1M266.0 481.4h1M267.2 491.8h1M267.4 487.5h1M272.4 472.2h1M272.1 491.7h1M269.2 507.1h1M259.5 513.0h1M286.5 464.4h1M280.2 492.7h1M293.3 482.7h1M267.1 498.3h1M254.1 508.0h1M275.9 499.0h1M240.3 489.6h1M286.4 473.3h1M264.1 512.7h1M279.5 492.0h1M274.8 488.2h1M266.1 516.9h1M273.1 475.9h1M258.3 502.9h1M260.4 490.6h1M272.8 491.5h1M277.8 502.1h1M276.2 486.1h1M256.5 494.7h1M249.9 507.3h1M275.6 502.2h1M288.7 473.9h1M244.5 512.0h1M257.2 491.4h1M273.6 487.8h1M287.5 487.1h1M276.8 477.6h1M264.2 473.2h1M272.4 514.2h1M278.0 479.1h1M278.2 484.6h1M275.1 492.3h1M274.6 479.8h1M278.6 490.5h1M282.4 469.1h1M262.8 493.1h1M269.3 476.0h1M285.3 490.9h1M282.0 479.5h1M274.1 481.1h1M276.3 480.8h1M250.3 487.7h1M262.1 497.9h1M243.9 515.5h1M258.5 483.4h1M262.7 479.0h1M266.1 506.5h1M261.1 492.4h1M273.7 489.1h1M271.0 492.8h1M246.4 481.0h1M257.8 506.7h1M264.7 518.7h1M242.0 506.2h1M286.2 502.7h1M250.1 502.4h1M261.1 491.6h1M270.3 465.0h1M270.5 477.6h1M284.1 474.1h1M261.5 493.6h1M267.9 488.2h1M292.8 485.8h1M279.9 491.4h1M256.4 485.4h1M277.3 506.5h1M277.7 490.7h1M282.8 488.7h1M282.7 496.5h1M260.4 509.0h1M263.6 475.6h1M283.8 483.3h1M273.8 497.5h1M241.1 532.5h1M265.0 498.4h1M273.5 476.6h1M243.8 486.8h1M274.7 511.0h1M296.9 472.4h1M276.2 473.0h1M262.6 503.5h1M268.5 510.5h1M272.1 499.5h1M277.8 485.4h1M280.6 478.6h1M255.8 490.3h1M289.9 471.9h1M242.2 518.3h1M250.6 498.6h1M288.7 464.9h1M268.8 502.5h1M276.3 482.2h1M288.8 475.6h1M260.1 500.8h1M271.5 484.8h1M267.8 501.8h1M263.4 484.9h1M286.8 503.2h1M271.9 507.4h1M263.7 499.4h1M254.6 489.2h1M265.0 493.0h1M286.6 505.0h1M265.0 487.5h1M278.0 477.6h1M254.3 487.3h1M295.0 481.8h1M267.8 478.6h1M264.5 471.5h1M266.4 482.8h1M272.6 500.3h1M274.3 492.8h1M255.3 506.6h1M276.7 478.1h1M259.7 512.9h1M284.0 485.6h1M261.4 493.5h1M282.2 468.8h1M257.9 507.6h1M253.2 477.4h1M261.2 497.3h1M264.9 489.0h1M264.2 495.5h1M278.6 470.1h1M290.6 499.1h1M268.1 465.9h1M267.7 497.6h1M273.1 504.9h1M273.1 485.8h1M283.6 458.6h1M264.6 505.2h1M262.7 489.4h1M276.1 496.2h1M272.8 493.7h1M273.5 471.4h1M262.1 495.0h1M246.1 511.6h1M224.5 496.9h1M240.3 485.5h1M242.8 483.3h1M238.3 482.8h1M240.5 483.3h1M250.1 482.9h1M239.9 490.8h1M237.5 476.5h1M246.3 487.3h1M242.7 484.9h1M244.0 511.4h1M240.8 497.4h1M242.3 498.1h1M239.3 500.0h1M242.0 490.1h1M239.0 480.4h1M236.5 493.4h1M243.5 475.2h1M241.7 493.4h1M252.4 491.4h1M241.5 494.9h1M247.4 488.0h1M242.1 495.5h1M258.1 500.4h1M236.4 477.5h1M245.4 509.5h1M232.3 502.4h1M245.0 491.4h1M246.7 492.3h1M248.2 488.6h1M250.3 487.6h1M250.9 475.8h1M245.7 497.7h1M234.4 492.8h1M234.5 473.8h1M252.7 476.5h1M249.8 493.0h1M231.1 493.7h1M254.0 484.2h1M246.3 479.4h1M253.9 494.6h1M244.7 497.3h1M251.2 486.1h1M256.3 485.5h1M249.5 491.0h1M229.2 478.9h1M246.7 485.9h1M237.8 503.0h1M242.9 487.7h1M249.5 525.4h1M237.6 527.1h1M254.7 531.7h1M249.6 526.6h1M254.0 526.1h1M231.6 534.5h1M243.1 526.5h1M239.6 536.0h1M245.9 515.4h1M255.5 520.9h1M246.8 518.7h1M239.5 529.0h1M242.4 522.2h1M232.0 529.3h1M246.2 521.7h1M234.6 523.0h1M244.3 515.4h1M230.0 536.8h1M247.9 530.3h1M225.8 533.7h1M241.2 534.6h1M237.5 523.4h1M248.0 516.7h1M239.3 514.5h1M241.7 531.0h1M235.7 533.9h1M261.2 528.3h1M255.5 529.5h1M248.4 529.8h1M237.0 534.7h1M242.4 522.9h1M253.0 521.3h1M251.5 519.5h1M240.3 518.3h1M237.9 521.9h1M248.4 521.2h1M240.4 531.5h1M255.2 510.1h1M247.5 522.1h1M228.5 532.1h1M247.7 521.3h1M239.4 532.8h1M249.7 522.7h1M254.0 525.8h1M265.7 510.1h1M229.1 515.7h1M236.2 520.5h1M249.9 515.1h1M250.0 528.2h1M251.6 528.2h1M261.0 531.1h1M232.7 527.7h1M249.2 508.5h1M242.0 525.6h1M249.2 528.5h1M224.0 527.1h1M239.0 527.5h1M239.2 520.3h1M238.0 523.4h1M248.4 511.3h1M254.0 527.6h1M252.5 514.8h1M246.0 519.1h1M242.9 529.2h1M230.7 527.6h1M239.3 527.1h1M251.0 529.1h1M254.8 521.5h1M259.9 515.2h1M248.3 528.9h1M232.4 516.4h1M247.6 521.2h1M254.8 518.1h1M252.1 522.5h1M239.0 531.3h1M247.6 530.6h1M255.4 509.0h1M236.6 529.5h1M263.0 498.7h1M237.0 529.1h1M242.2 521.0h1M242.3 520.9h1M300.8 511.3h1M268.7 491.3h1M251.2 496.4h1M281.9 494.3h1M231.9 503.7h1M265.0 481.3h1M267.5 464.0h1M262.0 492.8h1M252.8 475.4h1M287.4 466.9h1M249.2 469.8h1M242.5 487.7h1M238.1 496.6h1M302.1 511.2h1M243.9 514.2h1M261.1 496.7h1M243.9 496.9h1M264.6 486.6h1M238.5 501.1h1M275.7 493.4h1" stroke="#000" stroke-width="1" stroke-opacity="0.35" fill="none"/>
<path d="M245.7 514.8h1M261.5 500.7h1M262.7 507.3h1M250.4 501.8h1M257.1 506.5h1M257.8 501.4h1M246.6 507.9h1M243.1 512.1h1M257.2 518.5h1M255.3 515.3h1M269.0 511.6h1M256.6 495.1h1M265.6 509.8h1M253.0 512.0h1M257.5 497.5h1M254.3 509.1h1M263.9 514.5h1M254.2 512.2h1M264.8 515.5h1M263.9 509.5h1M259.2 505.0h1M253.2 513.7h1M257.3 502.4h1M265.8 505.3h1M261.5 501.0h1M254.9 506.7h1M252.1 517.0h1M259.1 506.6h1M251.3 517.5h1M258.8 509.2h1M249.2 512.0h1M250.7 513.1h1M253.4 515.4h1M263.9 504.6h1M241.4 511.2h1M252.1 501.0h1M257.0 505.3h1M258.1 508.9h1M263.7 507.5h1M265.5 509.4h1M249.1 510.9h1M248.5 510.5h1M250.6 506.1h1M255.6 521.1h1M261.6 502.4h1M263.3 495.9h1M254.8 493.8h1M270.1 501.3h1M265.3 509.4h1M237.0 510.9h1M256.9 511.7h1M261.6 506.7h1M248.3 506.1h1M267.1 512.1h1M260.0 507.3h1M248.2 512.8h1M255.4 518.3h1M270.7 501.2h1M264.5 506.6h1M262.0 503.5h1M259.6 515.2h1M239.2 510.2h1M255.6 510.2h1M246.3 499.0h1M257.2 507.5h1M269.4 500.2h1M258.8 527.0h1M251.5 501.3h1M255.0 515.9h1M264.5 511.6h1M263.4 511.5h1M251.4 510.5h1M259.4 506.7h1M252.2 499.4h1M257.9 513.0h1M250.2 506.6h1M253.4 517.6h1M262.2 501.1h1M257.4 499.0h1M252.9 498.1h1M254.9 510.4h1M254.8 508.4h1M252.3 508.7h1M265.2 513.4h1M264.7 514.4h1M252.8 512.9h1M250.3 509.9h1M257.6 504.6h1M260.1 504.9h1M261.3 494.7h1M241.0 510.3h1M257.0 497.0h1M253.4 509.2h1M257.7 512.0h1M253.6 511.5h1M259.1 502.1h1M262.1 503.7h1M255.0 501.3h1M251.6 511.1h1M254.6 509.2h1M256.3 503.1h1M256.4 509.8h1M260.7 504.6h1M259.8 505.8h1M264.1 514.5h1M253.1 501.6h1M257.9 500.0h1M251.1 511.1h1M264.4 505.0h1M251.6 519.5h1M258.9 505.0h1M266.3 501.1h1M252.9 503.3h1M266.2 506.0h1M259.3 509.6h1M257.4 504.2h1M253.2 504.6h1M263.9 497.8h1M259.1 508.8h1M263.4 516.6h1M260.7 517.2h1M266.7 506.3h1M253.8 498.3h1M255.0 509.0h1M266.3 502.8h1M256.0 504.9h1M256.5 497.5h1M263.9 515.9h1M264.6 508.0h1M254.2 506.0h1M246.9 512.8h1M261.5 504.0h1M255.9 514.8h1M250.9 506.7h1M265.1 502.1h1M259.2 498.8h1M248.4 516.3h1M267.0 514.4h1M261.2 511.1h1M270.2 508.5h1M282.4 484.5h1M271.8 488.7h1M259.2 512.8h1M265.6 514.1h1M252.2 487.1h1M277.3 500.3h1M286.6 464.5h1M264.0 487.6h1M252.3 489.7h1M253.2 511.1h1M279.5 488.3h1M284.7 493.1h1M263.6 488.9h1M276.5 476.4h1M279.9 504.8h1M250.3 483.3h1M278.1 466.5h1M267.2 494.4h1M254.0 504.4h1M265.2 488.9h1M273.6 491.8h1M268.9 500.3h1M267.0 506.3h1M272.6 500.2h1M290.8 460.3h1M260.7 481.4h1M264.1 502.7h1M273.3 476.4h1M272.7 492.9h1M268.1 466.4h1M249.8 479.5h1M238.4 508.5h1M289.0 483.2h1M272.1 493.5h1M276.3 464.8h1M266.2 482.5h1M245.6 497.6h1M271.7 496.8h1M286.4 474.5h1M267.0 501.9h1M262.4 505.6h1M271.0 481.0h1M260.2 472.7h1M268.5 500.8h1M306.1 464.9h1M264.2 510.9h1M241.5 498.7h1M272.0 473.9h1M272.3 495.6h1M270.4 497.0h1M287.1 481.0h1M271.1 501.9h1M290.4 468.0h1M271.1 478.2h1M272.7 505.8h1M275.2 489.1h1M302.3 483.3h1M267.8 487.9h1M271.6 496.5h1M280.6 498.2h1M267.1 486.6h1M278.7 501.9h1M258.5 498.4h1M276.0 498.1h1M287.5 480.3h1M268.9 484.3h1M271.4 497.3h1M255.5 490.8h1M271.3 466.8h1M248.7 489.5h1M252.0 504.1h1M263.2 484.2h1M292.4 459.9h1M270.5 478.7h1M271.6 476.1h1M250.8 502.7h1M267.4 489.7h1M273.6 483.0h1M287.0 460.1h1M279.1 476.6h1M276.5 473.3h1M269.8 486.9h1M261.7 499.6h1M268.1 487.4h1M282.1 501.2h1M292.4 475.5h1M263.6 495.4h1M261.3 490.5h1M281.2 470.2h1M265.5 493.7h1M265.1 497.4h1M274.1 500.9h1M283.4 468.5h1M267.7 470.1h1M263.4 502.9h1M282.9 503.2h1M261.5 500.3h1M268.7 479.9h1M287.1 485.6h1M275.0 490.0h1M251.1 490.2h1M286.9 485.9h1M277.7 502.1h1M260.0 473.7h1M269.3 513.7h1M300.2 509.8h1M268.3 480.4h1M277.5 483.2h1M289.0 499.5h1M271.7 500.5h1M282.2 477.6h1M244.7 481.2h1M290.7 502.3h1M275.2 463.8h1M278.7 490.5h1M265.4 483.7h1M257.0 488.3h1M265.1 477.3h1M278.0 496.5h1M255.0 494.1h1M260.7 504.9h1M267.3 502.6h1M237.7 489.6h1M296.7 468.8h1M278.9 481.8h1M255.2 505.8h1M284.1 492.5h1M281.9 473.6h1M275.7 484.2h1M271.3 476.1h1M263.9 477.7h1M271.6 486.2h1M289.2 483.7h1M287.5 494.7h1M256.2 476.7h1M272.4 500.1h1M260.2 483.3h1M254.5 496.0h1M261.8 509.8h1M236.0 492.3h1M272.3 480.3h1M260.3 484.5h1M260.7 484.8h1M273.9 507.6h1M247.1 510.8h1M273.6 477.5h1M272.6 476.3h1M259.3 486.6h1M262.8 474.1h1M273.2 472.7h1M268.0 494.3h1M281.7 494.4h1M258.3 483.0h1M254.9 465.0h1M273.1 493.0h1M264.5 491.2h1M279.2 483.6h1M260.8 495.1h1M256.4 502.4h1M256.5 495.8h1M271.1 509.0h1M269.9 495.1h1M262.2 492.1h1M283.4 477.8h1M272.9 494.9h1M278.1 482.0h1M284.0 478.8h1M292.6 492.6h1M261.2 495.0h1M257.6 494.4h1M262.9 488.7h1M265.6 481.8h1M282.2 488.7h1M258.5 479.7h1M278.9 501.1h1M268.9 489.0h1M264.4 505.7h1M256.0 472.5h1M272.4 498.6h1M275.2 497.1h1M257.9 480.1h1M280.6 488.9h1M258.6 475.1h1M282.1 482.3h1M246.2 513.7h1M295.9 479.5h1M254.8 495.8h1M274.4 505.1h1M290.6 501.2h1M257.1 491.0h1M268.0 488.4h1M262.5 479.6h1M275.0 482.0h1M272.5 482.9h1M238.7 504.4h1M275.3 470.4h1M250.9 502.7h1M280.2 481.0h1M270.6 485.2h1M290.1 496.4h1M289.1 487.8h1M256.2 488.5h1M294.8 462.4h1M264.9 504.8h1M272.2 474.2h1M279.6 477.1h1M247.2 495.6h1M260.7 486.6h1M257.3 484.5h1M282.1 480.5h1M266.4 483.4h1M250.6 474.2h1M297.1 470.2h1M249.4 509.2h1M279.2 505.3h1M240.2 524.7h1M269.0 479.9h1M263.5 480.1h1M258.7 501.8h1M287.2 457.3h1M262.9 514.8h1M250.2 486.0h1M260.0 481.2h1M278.2 484.2h1M277.0 499.3h1M274.2 483.2h1M256.6 507.4h1M257.8 483.4h1M274.4 475.5h1M254.5 499.1h1M269.6 498.6h1M280.1 495.1h1M254.5 506.8h1M258.5 488.5h1M266.5 484.8h1M260.8 480.5h1M264.1 482.1h1M251.6 493.7h1M289.0 491.5h1M257.8 493.6h1M275.2 494.1h1M262.2 479.8h1M267.5 487.6h1M282.1 467.2h1M274.1 487.0h1M267.1 473.7h1M288.7 489.8h1M266.9 500.0h1M265.8 501.3h1M265.2 490.3h1M281.4 470.0h1M245.1 521.2h1M285.4 480.5h1M258.9 496.1h1M269.7 496.2h1M267.4 496.0h1M266.5 492.9h1M275.2 495.9h1M275.5 483.8h1M276.2 488.8h1M274.8 490.3h1M267.8 496.8h1M291.3 491.3h1M259.8 498.7h1M269.8 499.4h1M277.2 454.4h1M266.3 499.4h1M271.3 477.0h1M274.4 483.0h1M268.9 490.5h1M279.6 496.5h1M276.6 465.2h1M257.7 491.8h1M274.3 483.1h1M268.3 504.8h1M269.7 486.8h1M282.2 492.0h1M264.4 486.9h1M263.0 478.5h1M252.3 487.3h1M280.3 471.1h1M290.7 481.3h1M257.1 492.0h1M277.4 485.4h1M265.3 476.4h1M251.9 481.3h1M286.2 503.9h1M272.1 513.5h1M261.9 500.7h1M287.8 494.5h1M285.3 477.5h1M274.9 482.2h1M276.9 500.0h1M260.2 488.8h1M269.4 514.9h1M270.0 476.4h1M233.9 489.5h1M226.3 477.9h1M242.0 474.3h1M236.8 478.4h1M243.8 491.8h1M247.0 517.5h1M238.3 471.8h1M252.3 497.1h1M237.6 486.2h1M246.0 486.2h1M256.9 486.0h1M247.6 498.9h1M244.0 505.5h1M258.6 486.2h1M244.0 506.1h1M252.3 482.7h1M248.8 497.1h1M252.0 481.3h1M247.9 496.7h1M249.6 488.6h1M248.9 480.2h1M247.0 498.4h1M233.3 482.8h1M225.2 478.0h1M240.3 486.8h1M231.6 483.4h1M242.0 495.3h1M240.3 492.4h1M243.1 487.0h1M228.0 495.8h1M251.9 498.6h1M237.9 502.0h1M250.1 481.5h1M245.0 480.2h1M248.9 493.9h1M256.5 485.9h1M240.3 475.5h1M249.0 496.2h1M247.5 483.5h1M240.4 500.5h1M246.4 501.2h1M239.5 491.3h1M227.3 496.7h1M227.8 467.7h1M243.2 486.4h1M234.8 484.4h1M243.1 491.9h1M241.9 487.8h1M236.3 500.2h1M234.8 496.6h1M250.2 498.2h1M253.1 484.9h1M250.2 494.3h1M224.7 484.5h1M238.0 481.0h1M241.8 476.3h1M252.4 486.8h1M238.2 484.8h1M229.0 490.5h1M235.4 535.8h1M224.8 524.4h1M246.1 504.8h1M242.0 516.2h1M241.6 515.7h1M232.2 532.2h1M259.9 523.4h1M239.1 519.2h1M262.8 514.2h1M224.4 512.1h1M233.7 521.8h1M253.8 529.2h1M251.5 506.8h1M255.8 512.0h1M248.5 509.3h1M246.3 522.2h1M249.4 524.6h1M239.3 522.5h1M261.8 525.6h1M226.0 529.4h1M247.0 522.5h1M242.3 512.0h1M239.2 536.8h1M230.7 534.0h1M235.6 527.5h1M251.2 520.9h1M227.4 530.0h1M247.3 528.1h1M241.5 502.7h1M248.5 517.1h1M254.9 510.8h1M227.8 512.5h1M248.8 527.1h1M233.7 517.1h1M236.6 534.3h1M243.3 523.6h1M259.8 532.0h1M229.6 520.7h1M246.3 520.0h1M236.5 521.4h1M268.4 508.6h1M241.2 522.0h1M253.9 517.5h1M238.7 529.1h1M238.4 525.3h1M239.4 511.7h1M242.1 511.7h1M237.4 522.4h1M246.7 524.7h1M240.0 520.0h1M253.2 530.0h1M242.1 528.4h1M240.1 526.6h1M234.5 530.8h1M235.1 511.2h1M235.9 521.0h1M241.6 524.0h1M246.7 518.8h1M242.0 520.2h1M245.6 520.3h1M252.4 512.1h1M252.7 516.3h1M236.2 521.6h1M266.2 504.2h1M244.7 532.8h1M239.4 527.8h1M277.3 514.3h1M240.9 511.7h1M249.8 512.3h1M247.9 520.2h1M237.7 511.8h1M244.3 515.3h1M243.4 533.1h1M249.7 523.0h1M226.2 518.0h1M261.8 517.2h1M234.2 534.3h1M246.1 524.0h1M235.3 526.1h1M226.4 527.3h1M253.8 521.6h1M238.7 529.2h1M237.2 520.9h1M246.3 518.4h1M247.8 535.0h1M233.4 517.3h1M258.0 527.6h1M243.7 525.0h1M247.3 514.5h1M231.6 528.0h1M240.3 528.7h1M246.6 521.4h1M260.1 521.3h1M247.6 514.6h1M229.5 517.4h1M244.8 523.6h1M253.9 508.6h1M299.2 488.1h1M234.7 474.6h1M248.6 478.7h1M244.8 528.2h1M242.4 458.4h1M252.4 513.5h1M249.4 482.2h1M227.6 474.8h1M262.3 483.3h1M288.1 476.8h1M264.5 457.7h1M272.1 493.0h1M230.7 504.6h1M225.2 472.2h1M266.5 474.1h1M261.6 517.5h1M288.3 531.5h1M236.3 511.7h1M248.2 496.9h1M249.5 503.0h1M276.2 525.1h1M269.9 497.2h1M287.7 506.1h1M249.9 506.1h1M226.4 480.3h1M251.2 441.4h1M289.9 478.0h1" stroke="#000" stroke-width="1" stroke-opacity="0.6" fill="none"/>
<path d="M256.1 502.0h1M252.1 508.2h1M251.3 500.3h1M250.0 509.3h1M254.9 505.4h1M256.5 517.1h1M248.6 499.1h1M265.5 493.6h1M255.3 508.8h1M254.3 497.9h1M247.5 504.6h1M267.7 505.6h1M257.6 507.0h1M262.1 508.0h1M250.8 503.5h1M253.0 510.8h1M266.1 507.5h1M251.4 517.1h1M249.3 510.5h1M249.8 514.4h1M255.1 517.2h1M257.7 507.3h1M257.0 505.7h1M250.2 505.7h1M252.5 509.9h1M252.6 506.5h1M249.4 512.8h1M252.4 496.5h1M264.1 506.8h1M243.7 518.5h1M255.2 507.5h1M260.6 512.0h1M251.7 508.1h1M252.5 509.8h1M272.9 510.9h1M267.4 505.5h1M252.2 512.0h1M251.4 495.7h1M251.2 516.4h1M257.0 503.8h1M255.8 499.9h1M252.8 508.5h1M261.6 500.7h1M256.0 501.6h1M251.9 515.3h1M261.2 504.0h1M244.1 507.5h1M268.3 512.9h1M256.4 506.2h1M257.3 511.4h1M263.5 501.8h1M262.6 514.1h1M254.5 511.7h1M249.2 508.7h1M259.2 503.2h1M249.9 500.7h1M256.1 504.6h1M243.7 510.8h1M251.8 508.7h1M263.4 495.9h1M262.6 505.4h1M258.6 507.6h1M252.6 509.3h1M267.8 506.8h1M263.8 507.1h1M260.5 512.0h1M257.3 500.9h1M259.3 510.5h1M257.9 509.6h1M260.1 503.6h1M246.3 509.0h1M262.1 507.6h1M259.5 505.5h1M257.1 503.7h1M261.8 512.6h1M253.0 502.3h1M260.6 513.1h1M256.6 504.5h1M253.0 500.3h1M258.4 509.6h1M249.5 497.6h1M264.0 513.4h1M261.0 515.8h1M246.5 509.5h1M252.4 510.3h1M262.0 493.1h1M253.8 510.8h1M253.8 501.2h1M255.7 505.2h1M248.5 492.0h1M263.5 505.4h1M248.9 501.2h1M260.3 510.5h1M246.0 508.9h1M267.7 513.3h1M263.0 509.3h1M254.9 502.2h1M251.0 521.6h1M253.8 507.0h1M256.8 506.9h1M254.8 511.0h1M269.7 500.9h1M254.3 502.4h1M258.6 502.2h1M251.6 504.0h1M256.1 502.2h1M266.0 504.8h1M254.7 497.5h1M269.4 506.0h1M252.8 508.6h1M244.6 512.7h1M261.7 522.6h1M258.3 507.7h1M257.8 498.9h1M257.7 513.4h1M253.4 503.6h1M250.5 514.1h1M264.3 511.2h1M266.2 500.4h1M253.3 506.6h1M254.1 499.9h1M257.5 502.7h1M255.0 502.6h1M249.3 503.0h1M272.4 488.3h1M258.2 489.6h1M283.8 473.2h1M275.8 500.0h1M277.0 488.5h1M256.8 487.1h1M272.3 480.9h1M284.9 482.5h1M270.5 463.1h1M271.8 462.9h1M256.5 495.4h1M265.1 495.0h1M267.8 512.9h1M268.5 492.5h1M259.7 508.3h1M267.7 501.7h1M266.3 469.5h1M271.0 463.3h1M269.7 483.5h1M258.7 491.3h1M292.0 477.3h1M260.2 502.0h1M289.6 479.6h1M268.2 495.0h1M267.1 476.5h1M300.3 481.2h1M277.1 481.0h1M286.9 469.6h1M255.2 487.9h1M259.1 500.7h1M286.5 481.5h1M264.6 489.6h1M280.4 502.1h1M254.9 487.6h1M257.5 484.3h1M260.9 484.4h1M264.4 479.3h1M267.9 495.3h1M230.8 504.1h1M261.1 503.5h1M301.3 466.1h1M282.8 497.6h1M243.7 486.4h1M245.8 493.1h1M267.1 495.5h1M268.6 473.9h1M278.1 488.9h1M274.8 486.9h1M263.4 499.0h1M281.0 481.4h1M252.9 495.9h1M273.7 515.8h1M270.1 471.4h1M265.9 478.4h1M299.4 483.7h1M264.7 474.6h1M278.8 482.8h1M287.1 490.2h1M283.8 496.6h1M275.0 494.0h1M259.5 486.9h1M260.0 491.1h1M260.5 496.3h1M263.9 477.3h1M272.1 497.5h1M291.1 484.7h1M264.2 486.4h1M275.9 488.4h1M287.3 466.8h1M264.5 495.3h1M254.6 513.3h1M272.7 493.3h1M251.1 500.0h1M254.6 482.2h1M265.0 476.9h1M282.0 461.5h1M271.4 482.3h1M288.3 484.5h1M281.9 487.5h1M282.9 479.9h1M258.3 491.5h1M266.8 486.0h1M278.9 492.5h1M281.1 508.0h1M267.6 500.8h1M278.1 491.8h1M270.1 516.8h1M281.7 458.7h1M247.4 481.1h1M246.3 494.7h1M253.7 481.1h1M281.5 496.6h1M268.3 481.1h1M256.3 494.8h1M270.3 501.8h1M276.2 475.9h1M287.0 492.7h1M258.6 519.0h1M258.0 504.5h1M268.8 494.1h1M275.5 485.8h1M277.6 505.8h1M276.9 469.3h1M281.5 500.7h1M257.3 493.7h1M268.3 486.7h1M257.3 486.6h1M275.5 472.6h1M277.3 499.4h1M272.0 494.9h1M275.4 465.9h1M236.5 513.3h1M274.4 485.7h1M261.8 483.3h1M273.7 494.9h1M266.2 478.7h1M264.1 496.6h1M290.1 484.3h1M283.8 475.1h1M261.2 514.2h1M275.2 484.2h1M249.7 483.5h1M297.0 478.9h1M287.8 457.2h1M292.7 469.3h1M279.1 489.1h1M257.3 506.5h1M280.5 479.4h1M274.9 483.0h1M268.3 491.5h1M261.5 488.1h1M269.3 497.5h1M261.7 482.9h1M286.8 481.2h1M264.2 499.6h1M290.8 489.1h1M279.3 472.6h1M270.2 475.3h1M246.3 484.4h1M269.2 474.2h1M248.8 494.6h1M273.1 480.3h1M262.0 482.5h1M279.4 459.5h1M257.6 476.6h1M271.2 489.1h1M268.6 489.8h1M244.9 490.6h1M278.8 504.4h1M272.5 465.9h1M275.8 488.9h1M298.9 471.8h1M251.9 486.0h1M273.7 481.2h1M290.7 491.8h1M268.3 472.9h1M246.0 491.0h1M277.1 475.8h1M267.9 494.8h1M284.2 481.7h1M272.4 500.1h1M260.2 499.5h1M261.0 494.9h1M283.4 476.1h1M262.3 505.6h1M259.4 507.9h1M256.3 495.2h1M255.2 506.6h1M275.7 479.9h1M261.7 483.6h1M271.4 488.1h1M263.6 520.2h1M248.9 495.4h1M280.1 494.3h1M272.9 490.4h1M248.6 491.7h1M276.7 482.5h1M255.4 478.3h1M251.5 468.8h1M247.1 475.2h1M263.0 501.0h1M247.4 497.9h1M277.1 478.6h1M272.2 485.1h1M256.6 497.8h1M271.1 478.4h1M287.1 484.1h1M269.5 482.0h1M303.9 479.1h1M276.5 473.8h1M281.3 473.8h1M265.1 507.4h1M281.7 486.5h1M275.7 503.4h1M263.4 504.4h1M245.1 493.6h1M278.4 492.4h1M253.5 474.0h1M269.1 506.0h1M283.9 479.0h1M272.3 513.6h1M258.5 494.8h1M259.6 486.1h1M276.9 489.5h1M267.9 472.7h1M283.8 483.0h1M272.4 487.1h1M258.7 479.7h1M300.3 487.3h1M259.8 496.3h1M264.5 490.5h1M272.4 489.6h1M255.8 494.1h1M283.8 482.4h1M251.0 502.9h1M264.9 481.4h1M248.4 495.1h1M253.8 491.4h1M250.4 480.0h1M263.2 472.8h1M283.4 483.3h1M263.7 506.9h1M259.6 480.5h1M275.5 484.3h1M260.5 483.5h1M264.7 503.6h1M270.5 474.3h1M245.4 505.1h1M279.8 472.8h1M264.4 475.7h1M254.4 498.7h1M247.5 485.2h1M254.1 495.3h1M269.8 512.5h1M256.3 478.6h1M276.0 490.4h1M260.2 496.1h1M256.8 491.4h1M275.6 474.2h1M263.4 482.6h1M274.3 501.8h1M294.6 487.1h1M268.8 506.8h1M277.2 473.1h1M251.6 490.6h1M272.3 499.3h1M261.2 489.0h1M260.9 513.0h1M264.8 497.3h1M266.2 489.1h1M279.0 485.2h1M286.2 493.1h1M276.1 498.2h1M280.9 486.9h1M271.5 477.6h1M286.5 474.3h1M266.2 479.2h1M265.0 497.8h1M266.7 482.1h1M279.1 487.1h1M272.6 501.5h1M250.1 474.9h1M279.3 492.0h1M271.7 509.5h1M259.5 493.1h1M258.0 476.6h1M272.8 483.6h1M284.5 509.2h1M295.3 479.6h1M271.3 475.7h1M247.2 486.2h1M287.8 482.4h1M244.9 498.8h1M260.4 492.1h1M262.4 497.6h1M250.2 494.7h1M293.3 492.0h1M279.3 511.8h1M281.0 470.1h1M282.3 471.6h1M253.9 502.4h1M254.1 509.9h1M252.3 525.1h1M261.8 518.5h1M291.0 490.3h1M271.3 488.1h1M271.5 498.4h1M258.6 475.8h1M272.2 490.6h1M274.8 480.5h1M289.7 463.2h1M276.5 496.2h1M274.7 497.2h1M281.9 490.5h1M266.3 473.8h1M264.6 493.7h1M267.0 478.4h1M242.7 509.1h1M256.9 489.5h1M255.3 481.4h1M230.3 491.9h1M262.4 493.2h1M257.0 494.2h1M269.2 491.7h1M270.4 500.1h1M258.5 504.9h1M246.5 482.9h1M256.0 491.0h1M280.6 469.5h1M268.2 469.6h1M252.8 493.7h1M273.4 477.8h1M273.7 471.0h1M254.2 498.5h1M276.9 485.5h1M256.6 470.9h1M280.9 483.3h1M245.4 493.0h1M279.1 482.5h1M271.4 482.4h1M245.1 493.7h1M252.8 513.4h1M249.7 483.2h1M250.2 494.4h1M240.1 492.3h1M243.1 493.2h1M238.4 471.6h1M226.4 507.3h1M233.5 514.3h1M240.8 489.1h1M240.2 477.9h1M239.5 500.9h1M234.4 481.0h1M233.0 486.9h1M250.8 482.6h1M236.9 492.3h1M235.4 478.4h1M247.8 496.3h1M245.3 468.5h1M225.7 517.0h1M251.4 488.7h1M245.6 501.7h1M248.1 488.7h1M243.8 509.1h1M232.8 496.6h1M245.1 493.9h1M253.4 496.4h1M237.5 503.1h1M236.7 492.2h1M244.5 481.6h1M241.4 479.7h1M229.4 479.0h1M243.5 497.7h1M239.4 491.8h1M236.0 482.6h1M241.9 477.1h1M251.9 472.7h1M229.8 495.0h1M238.7 482.8h1M251.0 474.4h1M231.4 504.9h1M246.7 488.7h1M247.5 488.1h1M234.3 481.2h1M240.0 486.3h1M240.9 492.8h1M242.4 478.3h1M235.6 485.0h1M257.6 517.2h1M239.4 511.3h1M246.1 508.7h1M227.5 526.0h1M237.3 534.3h1M233.4 535.1h1M233.2 519.2h1M247.9 522.1h1M227.7 524.9h1M262.8 507.5h1M234.9 526.3h1M243.6 532.8h1M250.8 513.8h1M232.5 508.6h1M242.3 502.6h1M269.9 509.9h1M245.4 517.1h1M231.8 529.6h1M254.7 511.6h1M247.5 516.7h1M236.5 512.7h1M252.3 529.7h1M243.8 514.3h1M228.0 529.1h1M237.1 507.0h1M238.8 532.6h1M248.0 521.5h1M236.3 518.4h1M254.8 527.2h1M229.9 519.4h1M251.5 516.4h1M253.2 518.9h1M255.6 518.0h1M225.7 528.6h1M242.6 532.9h1M257.5 505.0h1M237.8 508.6h1M242.8 514.7h1M234.5 527.1h1M243.1 517.4h1M232.3 518.1h1M228.7 519.2h1M259.8 504.8h1M245.8 530.3h1M230.7 537.1h1M246.5 518.8h1M246.6 530.1h1M248.7 519.3h1M255.8 508.6h1M259.5 509.5h1M241.0 532.5h1M256.3 518.6h1M233.5 527.2h1M250.4 505.3h1M259.4 525.3h1M238.5 531.4h1M227.9 530.8h1M236.4 520.2h1M253.5 525.4h1M249.3 508.5h1M237.7 529.5h1M238.0 530.4h1M229.7 519.1h1M247.7 520.6h1M251.3 524.5h1M254.2 524.7h1M261.3 518.4h1M233.3 520.0h1M249.5 525.7h1M251.5 533.2h1M249.8 533.4h1M270.9 520.8h1M275.6 512.5h1M240.7 532.5h1M232.1 525.7h1M230.0 534.7h1M233.8 535.5h1M259.8 513.6h1M257.8 521.7h1M237.6 533.1h1M244.2 518.6h1M243.5 521.4h1M254.4 518.8h1M225.1 513.4h1M261.4 521.1h1M238.8 511.9h1M259.8 510.9h1M259.6 517.6h1M228.7 514.6h1M252.7 518.3h1M226.4 527.5h1M232.4 531.6h1M241.8 524.6h1M250.0 520.0h1M239.4 511.6h1M238.4 526.0h1M257.0 510.8h1M241.8 531.0h1M244.4 510.4h1M234.2 516.6h1M248.0 485.2h1M269.3 477.6h1M235.8 465.2h1M275.4 489.2h1M231.3 511.5h1M283.2 481.8h1M232.4 494.1h1M297.6 514.0h1M277.6 473.8h1M239.2 496.8h1M269.2 483.3h1M250.1 503.4h1M267.4 523.9h1M321.1 525.4h1M289.1 494.3h1M287.4 515.4h1M226.5 513.9h1M264.9 484.3h1M270.7 517.9h1M250.3 465.9h1M239.0 498.3h1M251.2 484.5h1M237.9 475.3h1" stroke="#000" stroke-width="1" stroke-opacity="0.85" fill="none"/>
<path d="M424.2 513.1h1M432.3 500.4h1M433.1 499.2h1M439.7 507.1h1M419.0 507.5h1M436.9 513.7h1M413.7 503.2h1M424.1 513.2h1M428.2 514.1h1M430.6 508.9h1M427.3 507.0h1M439.8 502.5h1M430.3 509.8h1M430.9 508.2h1M432.2 513.8h1M421.7 500.8h1M424.9 508.9h1M438.6 503.8h1M424.1 505.2h1M427.6 505.8h1M436.6 500.9h1M443.1 499.6h1M427.0 515.0h1M447.1 510.0h1M456.3 492.8h1M441.6 498.7h1M442.5 501.0h1M433.5 506.8h1M427.7 503.6h1M416.4 522.3h1M435.1 508.4h1M420.1 520.0h1M429.1 510.2h1M411.9 512.8h1M428.7 510.9h1M449.9 506.0h1M438.2 501.5h1M437.6 506.6h1M438.6 503.4h1M437.0 505.1h1M427.7 512.5h1M422.1 517.1h1M441.0 498.1h1M431.5 511.3h1M409.4 516.8h1M431.8 518.1h1M432.1 509.1h1M431.1 504.8h1M454.1 500.4h1M434.2 512.3h1M432.9 510.4h1M445.1 500.1h1M436.2 504.4h1M436.6 500.7h1M449.0 502.4h1M421.3 505.0h1M431.3 503.5h1M433.2 511.9h1M436.2 506.7h1M430.7 512.0h1M423.3 501.1h1M416.8 513.3h1M435.4 495.8h1M440.5 499.3h1M434.0 507.0h1M426.6 508.4h1M430.4 505.6h1M421.1 505.7h1M451.5 505.9h1M436.0 498.1h1M429.9 505.3h1M415.5 516.1h1M454.7 496.9h1M431.1 513.1h1M450.4 506.1h1M417.8 512.1h1M435.3 504.5h1M419.0 521.7h1M432.5 508.7h1M451.0 499.2h1M430.7 506.5h1M421.5 516.7h1M431.0 513.5h1M450.8 499.8h1M424.3 511.9h1M420.1 520.1h1M441.6 506.2h1M429.6 504.2h1M423.4 508.6h1M438.2 498.4h1M426.7 511.7h1M438.3 505.7h1M440.1 510.6h1M433.3 500.6h1M430.9 506.3h1M428.6 502.5h1M428.4 503.2h1M444.1 499.9h1M442.2 509.4h1M425.1 507.1h1M434.8 498.5h1M433.7 517.3h1M432.0 506.6h1M432.6 510.2h1M431.9 504.1h1M425.0 504.4h1M436.1 510.4h1M433.5 504.4h1M432.0 513.0h1M437.3 498.0h1M434.0 508.8h1M436.6 506.1h1M427.7 503.6h1M455.0 495.2h1M429.8 510.2h1M430.8 503.4h1M430.6 519.1h1M424.6 509.3h1M448.7 494.7h1M436.9 505.3h1M432.7 507.1h1M432.9 497.1h1M436.6 508.6h1M423.0 507.8h1M451.2 498.7h1M441.4 509.3h1M436.4 499.2h1M434.8 508.7h1M432.9 503.3h1M431.0 507.1h1M413.7 508.7h1M436.1 509.5h1M437.2 498.5h1M441.4 504.3h1M433.3 509.7h1M423.0 514.6h1M419.9 505.5h1M422.8 515.5h1M431.7 506.6h1M433.7 503.9h1M425.3 502.3h1M434.8 511.0h1M448.0 499.2h1M437.8 507.3h1M409.8 519.0h1M425.0 504.3h1M451.4 508.7h1M430.2 498.7h1M430.7 502.4h1M437.7 511.1h1M432.0 511.7h1M430.5 512.8h1M430.7 506.7h1M446.8 489.8h1M427.1 505.6h1M417.5 508.7h1M444.1 502.6h1M441.3 499.7h1M434.5 505.9h1M421.8 514.0h1M401.8 519.2h1M432.4 512.3h1M428.9 504.0h1M433.2 502.1h1M424.2 509.7h1M416.3 512.0h1M423.1 519.4h1M431.4 503.2h1M439.9 501.3h1M442.0 499.1h1M433.0 496.8h1M420.0 510.6h1M438.3 506.6h1M435.9 517.7h1M436.5 504.5h1M424.2 507.6h1M412.0 509.6h1M436.3 500.8h1M440.1 501.8h1M441.6 501.8h1M449.4 508.0h1M429.8 511.6h1M451.2 494.6h1M440.0 501.7h1M424.3 507.3h1M448.3 495.3h1M414.5 512.7h1M431.7 502.8h1M436.7 501.6h1M436.8 501.5h1M424.3 516.9h1M425.8 510.0h1M420.9 506.9h1M435.6 515.6h1M421.0 506.4h1M431.7 505.7h1M426.9 516.1h1M445.6 500.2h1M421.5 500.5h1M436.8 503.3h1M438.5 503.0h1M461.9 499.4h1M419.5 510.3h1M434.1 509.5h1M429.1 507.8h1M433.5 507.4h1M442.7 501.6h1M427.8 511.5h1M434.2 500.3h1M436.9 501.3h1M446.7 501.0h1M410.2 505.3h1M429.1 506.8h1M430.1 514.5h1M449.5 504.1h1M419.0 518.9h1M428.3 511.6h1M445.9 499.9h1M437.3 499.4h1M451.6 500.9h1M415.2 506.7h1M448.2 498.7h1M433.8 500.6h1M432.2 504.9h1M422.5 513.3h1M438.8 500.9h1M436.9 499.0h1M443.4 508.4h1M431.8 501.1h1M422.0 508.8h1M433.2 503.2h1M460.2 498.2h1M434.9 508.3h1M434.8 505.0h1M438.4 505.4h1M422.3 511.3h1M433.5 516.0h1M418.7 507.0h1M418.9 504.8h1M453.3 500.0h1M444.0 506.5h1M417.1 508.8h1M432.5 508.7h1M426.2 508.3h1M437.5 506.9h1M423.4 502.9h1M421.6 522.0h1M419.4 510.4h1M446.1 492.4h1M436.4 497.6h1M449.5 499.1h1M432.9 514.8h1M440.2 507.4h1M420.2 514.5h1M437.3 511.5h1M451.2 504.1h1M432.4 510.2h1M442.3 498.5h1M417.7 510.5h1M437.6 510.5h1M427.6 502.7h1M434.6 505.7h1M431.8 500.7h1M415.9 514.1h1M443.6 509.6h1M427.0 507.0h1M440.4 506.3h1M440.8 510.2h1M437.9 516.1h1M441.3 502.3h1M432.0 504.1h1M448.9 491.8h1M427.8 523.9h1M450.8 499.2h1M443.2 501.4h1M422.1 511.7h1M425.7 503.7h1M426.3 504.6h1M416.5 514.8h1M414.8 503.6h1M444.5 497.1h1M430.9 502.6h1M436.1 510.4h1M421.6 515.7h1M427.6 503.2h1M440.7 500.4h1M425.1 515.1h1M441.9 504.1h1M424.4 509.6h1M431.6 510.9h1M427.4 495.1h1M423.0 509.5h1M431.9 504.0h1M429.8 511.1h1M427.1 503.0h1M434.8 493.8h1M443.1 501.9h1M436.0 506.3h1M433.7 503.4h1M452.5 499.8h1M424.1 508.2h1M441.1 499.7h1M424.6 500.4h1M424.7 507.9h1M413.3 518.0h1M426.9 510.5h1M421.5 513.7h1M435.1 506.7h1M446.8 497.2h1M429.2 507.1h1M440.6 499.6h1M425.4 499.3h1M421.5 502.9h1M408.1 516.7h1M431.9 510.2h1M434.3 504.8h1M429.6 500.9h1M431.9 500.7h1M419.1 510.4h1M433.4 504.8h1M442.9 500.6h1M427.9 508.5h1M438.0 500.5h1M440.6 501.7h1M442.3 502.0h1M424.8 502.5h1M436.0 508.6h1M448.0 508.7h1M447.2 490.4h1M438.6 507.9h1M427.1 503.7h1M454.0 507.6h1M451.6 501.5h1M428.0 511.8h1M435.4 504.9h1M437.6 497.9h1M438.8 509.7h1M418.6 503.3h1M437.2 505.5h1M448.3 507.3h1M437.8 503.6h1M425.6 503.8h1M440.0 504.0h1M420.7 509.6h1M439.2 501.8h1M442.7 507.1h1M436.4 498.8h1M440.4 501.1h1M423.5 506.8h1M432.5 506.5h1M430.9 503.6h1M432.2 504.4h1M442.6 501.5h1M450.9 504.7h1M433.0 500.7h1M411.1 519.2h1M423.3 500.6h1M414.4 510.6h1M418.5 505.3h1M450.3 497.0h1M437.2 505.5h1M418.2 509.4h1M427.9 504.0h1M429.6 500.5h1M434.4 509.7h1M438.9 505.0h1M435.9 502.3h1M435.0 502.9h1M425.4 506.4h1M437.1 497.1h1M454.1 497.1h1M430.6 505.3h1M434.4 513.6h1M437.2 504.7h1M432.9 510.1h1M442.0 503.3h1M427.1 504.5h1M438.2 498.9h1M442.0 501.7h1M431.8 508.6h1M416.0 506.2h1M432.0 500.5h1M428.2 504.0h1M446.7 497.7h1M444.7 496.4h1M422.0 510.8h1M444.3 506.4h1M425.5 505.8h1M421.2 506.4h1M415.1 506.8h1M441.0 509.5h1M456.4 490.8h1M419.6 511.4h1M435.6 511.3h1M427.5 509.1h1M439.8 502.2h1M426.5 504.8h1M440.5 505.5h1M431.6 503.7h1M425.4 517.9h1M433.4 502.7h1M434.3 499.0h1M452.9 501.7h1M442.4 504.3h1M411.9 517.4h1M440.0 506.1h1M426.5 499.9h1M436.0 512.5h1M434.3 502.9h1M442.4 500.6h1M440.3 499.2h1M419.2 515.6h1M427.9 506.5h1M425.7 509.4h1M424.8 506.9h1M429.3 506.7h1M425.7 516.7h1M418.1 509.0h1M432.8 500.9h1M444.2 495.9h1M440.9 497.7h1M420.2 509.3h1M431.2 504.3h1M429.7 507.6h1M431.3 507.8h1M447.0 507.0h1M437.4 515.0h1M439.1 505.9h1M454.4 496.2h1M441.5 504.4h1M414.1 510.3h1M435.9 501.0h1M440.9 490.4h1M430.2 512.4h1M436.8 501.3h1M427.3 509.1h1M432.0 508.5h1M428.5 508.5h1M441.6 508.8h1M438.2 504.2h1M424.8 514.1h1M445.7 497.6h1M422.2 513.5h1M429.2 505.8h1M443.5 499.4h1M426.8 507.9h1M444.1 498.9h1M438.5 504.3h1M433.0 499.7h1M422.4 508.4h1M417.1 506.7h1M425.6 515.7h1M419.8 504.0h1M419.6 510.3h1M416.3 516.5h1M432.3 507.3h1M450.3 509.1h1M427.0 511.7h1M435.7 510.6h1M428.1 520.2h1M422.2 520.0h1M449.7 501.0h1M430.1 506.4h1M433.6 501.8h1M412.9 513.7h1M442.8 499.3h1M424.3 512.0h1M440.8 493.6h1M409.1 510.4h1M440.3 508.9h1M427.3 510.7h1M427.7 518.5h1M443.1 506.7h1M412.6 518.2h1M435.6 512.7h1M434.9 503.3h1M435.5 487.2h1M459.5 475.9h1M449.9 467.3h1M426.0 474.2h1M453.6 485.6h1M457.5 485.1h1M439.1 482.3h1M458.1 465.6h1M413.4 480.8h1M473.6 476.4h1M428.5 475.2h1M449.9 477.8h1M452.7 494.3h1M439.5 489.6h1M455.9 490.8h1M437.9 496.2h1M433.2 486.6h1M443.8 481.7h1M435.6 459.4h1M425.3 475.8h1M426.6 482.9h1M442.2 471.9h1M454.3 484.5h1M436.3 481.4h1M440.9 483.2h1M433.8 468.1h1M444.1 484.8h1M448.1 483.0h1M430.8 499.9h1M426.6 482.0h1M440.6 492.7h1M426.4 484.1h1M446.3 460.9h1M437.5 499.5h1M424.5 466.7h1M426.7 467.1h1M445.4 479.5h1M442.0 490.4h1M453.6 466.3h1M442.7 471.9h1M437.5 496.3h1M446.6 474.8h1M434.2 479.6h1M458.0 487.2h1M443.2 482.4h1M440.6 476.0h1M444.8 459.5h1M449.6 472.1h1M442.5 480.9h1M453.2 487.6h1M446.2 495.7h1M455.9 470.0h1M437.2 483.5h1M448.4 472.5h1M447.4 471.8h1M430.0 488.5h1M435.1 489.3h1M441.3 481.7h1M435.8 497.4h1M457.8 490.8h1M443.5 469.3h1M438.4 490.2h1M460.0 473.3h1M452.9 485.7h1M437.2 479.2h1M442.1 477.4h1M434.2 463.5h1M437.1 490.6h1M425.8 496.4h1M425.7 496.6h1M442.1 466.6h1M456.4 471.3h1M420.9 488.7h1M428.8 472.3h1M452.8 484.1h1M426.3 495.3h1M437.7 483.4h1M439.3 475.8h1M437.1 502.6h1M420.3 485.1h1M459.4 468.8h1M406.5 504.9h1M435.0 488.3h1M435.0 492.3h1M442.1 470.5h1M440.5 477.8h1M436.6 477.4h1M439.1 482.8h1M433.5 476.2h1M440.2 472.1h1M438.8 475.9h1M435.8 467.0h1M437.8 469.0h1M437.3 488.4h1M443.4 483.1h1M457.6 483.4h1M453.0 494.7h1M445.1 472.5h1M445.1 457.1h1M461.6 484.1h1M443.7 467.9h1M438.5 493.4h1M441.5 485.6h1M433.2 497.8h1M456.2 462.7h1M439.5 495.4h1M422.9 475.6h1M442.5 482.0h1M433.9 464.7h1M444.3 494.4h1M444.3 489.2h1M430.4 473.8h1M416.4 500.9h1M455.5 459.8h1M438.2 473.3h1M455.2 467.9h1M438.8 480.8h1M424.3 469.8h1M460.2 476.3h1M442.8 489.4h1M453.8 475.7h1M435.3 496.2h1M436.1 471.5h1M442.2 484.3h1M441.3 474.0h1M432.9 477.7h1M432.1 463.5h1M444.9 472.3h1M429.2 484.1h1M439.7 489.8h1M428.7 502.9h1M437.8 469.8h1M458.1 491.8h1M434.7 501.7h1M429.6 492.5h1M427.7 480.2h1M445.5 492.5h1M435.9 474.8h1M447.2 466.4h1M442.9 476.0h1M449.4 477.5h1M448.8 481.8h1M445.5 487.2h1M424.0 500.2h1M445.4 466.0h1M444.1 486.2h1M451.3 477.2h1M415.9 489.7h1M441.2 470.6h1M433.3 478.9h1M433.2 479.3h1M445.7 482.5h1M441.9 492.4h1M436.6 485.7h1M446.5 469.5h1M450.7 478.3h1M449.9 474.4h1M446.5 480.8h1M438.1 484.3h1M445.3 488.9h1M424.5 472.8h1M450.1 497.8h1M442.6 491.6h1M426.8 479.9h1M443.8 474.6h1M422.4 494.9h1M447.4 491.5h1M438.9 487.9h1M445.6 464.3h1M429.7 489.1h1M456.0 478.7h1M439.2 488.1h1M462.1 457.6h1M458.5 471.9h1M448.4 481.7h1M438.4 472.5h1M449.8 498.8h1M442.0 481.9h1M448.7 459.7h1M439.5 486.8h1M440.9 491.6h1M434.5 478.9h1M436.0 479.6h1M426.1 480.4h1M439.8 473.1h1M455.5 478.5h1M440.6 481.2h1M428.8 473.8h1M431.5 491.9h1M430.5 500.9h1M424.8 477.3h1M434.9 492.5h1M436.9 513.4h1M422.8 483.0h1M452.6 482.7h1M429.0 476.2h1M427.9 476.8h1M424.6 493.1h1M438.4 473.1h1M420.7 482.2h1M441.4 496.1h1M439.7 492.3h1M439.6 494.8h1M445.3 486.9h1M419.6 488.2h1M449.7 475.2h1M431.9 486.5h1M461.5 467.8h1M439.5 492.2h1M435.9 499.6h1M424.4 478.8h1M429.9 483.4h1M449.0 484.5h1M447.1 486.0h1M449.2 469.3h1M452.7 493.5h1M428.2 474.6h1M442.3 483.2h1M451.0 485.3h1M433.6 508.5h1M422.4 471.3h1M446.2 490.4h1M444.7 471.3h1M433.4 476.1h1M451.4 488.3h1M436.2 486.1h1M431.0 481.7h1M441.5 478.1h1M432.3 500.1h1M435.1 497.8h1M427.8 491.3h1M457.9 475.3h1M448.7 467.5h1M435.8 478.8h1M432.8 480.6h1M438.2 474.0h1M419.8 501.3h1M407.6 519.9h1M412.4 514.0h1M402.5 519.5h1M411.0 524.7h1M414.3 527.9h1M392.2 532.2h1M421.8 507.5h1M405.4 532.4h1M417.1 505.0h1M419.7 505.8h1M419.7 530.3h1M407.4 522.9h1M403.3 529.5h1M408.3 520.5h1M416.9 519.2h1M431.6 536.6h1M413.3 513.8h1M410.5 520.1h1M424.2 530.7h1M409.2 520.7h1M426.7 522.8h1M402.6 528.4h1M408.2 515.9h1M423.6 522.9h1M395.7 513.2h1M421.6 519.1h1M398.7 514.7h1M410.7 515.7h1M420.8 518.2h1M420.1 521.5h1M419.9 528.9h1M427.3 521.3h1M391.2 527.8h1M420.3 513.8h1M405.7 521.8h1M414.9 537.3h1M406.0 514.8h1M424.1 518.5h1M435.0 513.7h1M427.0 505.1h1M440.6 527.2h1M456.3 470.3h1M429.4 507.4h1M416.5 498.8h1M431.8 500.3h1M435.3 463.8h1M457.1 474.2h1M445.9 472.2h1M402.9 467.5h1M429.7 460.7h1M434.2 446.8h1M434.5 521.6h1M406.5 525.9h1M469.5 517.6h1M439.1 499.5h1M433.8 536.2h1M435.0 516.6h1M419.1 485.2h1M449.7 490.9h1M473.1 484.3h1M395.5 474.1h1" stroke="#000" stroke-width="1" stroke-opacity="0.35" fill="none"/>
<path d="M441.8 500.0h1M440.6 505.0h1M427.7 507.9h1M431.2 509.5h1M435.6 511.6h1M429.1 506.8h1M433.4 505.9h1M437.8 506.6h1M428.9 503.1h1M429.4 509.3h1M439.8 511.1h1M441.4 494.2h1M427.7 505.8h1M441.3 502.4h1M440.5 497.9h1M432.4 510.8h1M438.2 501.7h1M433.5 515.0h1M445.9 500.4h1M421.6 518.0h1M444.5 503.7h1M422.0 515.0h1M438.8 499.7h1M444.1 508.8h1M437.4 497.3h1M449.6 503.9h1M435.4 509.1h1M443.1 491.5h1M451.1 503.5h1M430.9 507.8h1M439.0 507.1h1M435.0 505.9h1M443.6 490.0h1M462.8 492.7h1M423.6 514.3h1M414.3 516.3h1M431.7 510.7h1M426.3 512.4h1M429.1 509.7h1M432.4 504.9h1M434.2 509.5h1M421.4 515.0h1M429.1 501.5h1M424.3 516.7h1M438.8 492.4h1M444.9 508.9h1M424.7 506.6h1M429.7 514.4h1M424.6 508.4h1M437.5 505.4h1M439.8 500.5h1M434.8 504.6h1M441.8 509.5h1M431.3 509.1h1M439.5 502.4h1M430.3 500.9h1M422.6 503.0h1M418.0 516.9h1M439.1 506.1h1M429.1 502.3h1M436.2 503.3h1M442.0 497.4h1M441.2 503.6h1M442.9 496.8h1M435.4 500.7h1M426.9 508.7h1M444.1 499.1h1M423.5 510.2h1M424.0 509.3h1M421.5 513.0h1M428.5 511.6h1M425.1 505.5h1M434.4 506.2h1M434.5 514.4h1M441.5 508.6h1M442.5 500.9h1M437.5 507.1h1M421.5 507.3h1M424.2 505.9h1M425.2 509.8h1M430.6 508.2h1M421.0 507.9h1M418.7 517.5h1M421.6 515.9h1M425.1 508.6h1M419.5 503.0h1M440.2 504.9h1M423.9 505.9h1M433.8 494.9h1M433.5 515.5h1M419.4 508.1h1M439.3 503.4h1M426.5 503.1h1M425.4 507.8h1M435.2 510.5h1M437.5 499.5h1M432.6 513.8h1M441.0 506.6h1M443.6 505.5h1M424.0 501.1h1M432.7 514.4h1M441.4 498.3h1M431.0 499.2h1M438.6 498.8h1M451.0 495.8h1M426.5 519.4h1M439.9 497.1h1M420.0 501.3h1M425.6 507.0h1M421.2 511.8h1M433.5 499.9h1M443.1 503.9h1M433.7 507.7h1M436.9 510.2h1M438.6 501.4h1M432.8 507.2h1M435.7 503.3h1M437.6 502.4h1M443.6 503.6h1M442.0 502.7h1M449.5 511.3h1M435.0 507.2h1M443.4 495.9h1M422.4 511.8h1M432.6 506.1h1M420.2 514.5h1M421.6 513.8h1M433.6 509.4h1M425.0 505.0h1M436.8 508.0h1M437.7 511.0h1M430.4 514.5h1M426.0 507.7h1M431.0 509.1h1M419.9 507.4h1M428.6 503.9h1M423.8 513.0h1M439.5 510.7h1M446.1 503.9h1M447.5 501.5h1M436.9 501.0h1M432.3 512.6h1M418.4 510.0h1M422.3 514.3h1M434.7 503.9h1M439.4 508.2h1M430.1 503.1h1M424.1 514.5h1M436.5 505.1h1M433.8 499.9h1M425.4 511.6h1M454.0 497.8h1M420.6 515.1h1M453.9 496.0h1M438.9 504.6h1M437.1 506.6h1M438.9 503.1h1M425.7 505.5h1M433.0 508.6h1M448.1 500.8h1M429.8 504.3h1M425.0 503.4h1M442.2 498.4h1M425.5 503.6h1M449.2 504.7h1M429.4 500.7h1M450.4 497.6h1M446.9 495.4h1M440.3 509.9h1M438.0 511.1h1M416.0 520.2h1M436.8 496.1h1M434.4 500.8h1M434.2 513.0h1M436.2 499.4h1M424.1 507.1h1M416.7 507.5h1M422.6 504.8h1M422.4 499.1h1M424.6 514.1h1M435.9 507.1h1M433.1 496.9h1M439.2 504.1h1M432.7 503.2h1M428.7 506.2h1M449.1 491.2h1M419.3 505.4h1M435.3 501.6h1M432.5 505.8h1M430.1 501.9h1M433.6 512.5h1M413.6 520.1h1M417.5 502.6h1M442.6 501.3h1M448.2 497.4h1M434.2 508.8h1M436.6 508.2h1M436.7 504.3h1M431.0 510.7h1M433.9 501.4h1M431.0 509.3h1M423.7 507.2h1M435.6 499.9h1M425.7 508.8h1M429.4 508.8h1M423.7 514.3h1M433.3 510.5h1M423.7 520.5h1M443.7 506.5h1M455.3 497.1h1M429.0 502.0h1M434.1 511.9h1M426.3 510.9h1M435.9 501.5h1M418.7 509.1h1M429.2 505.1h1M433.2 496.0h1M432.8 504.4h1M418.2 506.6h1M429.1 514.7h1M435.5 509.5h1M408.7 511.8h1M466.0 486.2h1M425.5 507.6h1M440.4 509.4h1M437.0 507.0h1M442.3 505.8h1M432.4 512.0h1M451.2 496.6h1M430.5 505.8h1M442.5 499.2h1M450.3 487.2h1M435.6 509.1h1M443.0 498.7h1M440.4 513.3h1M416.9 509.3h1M434.2 500.3h1M429.9 506.5h1M425.9 505.6h1M420.0 511.7h1M407.6 514.6h1M422.6 518.7h1M437.9 507.8h1M421.8 514.3h1M444.5 497.7h1M411.7 507.9h1M437.5 502.2h1M419.2 515.6h1M433.4 504.2h1M436.0 502.7h1M419.3 501.4h1M448.3 502.1h1M424.1 506.6h1M436.4 500.6h1M429.7 506.2h1M427.4 509.3h1M423.8 513.5h1M440.2 505.7h1M420.3 511.5h1M436.4 502.7h1M423.1 520.4h1M430.0 512.9h1M444.4 500.1h1M432.2 507.3h1M411.7 513.6h1M446.5 504.0h1M441.0 505.8h1M438.5 511.6h1M436.3 504.3h1M420.3 510.2h1M435.5 503.3h1M439.5 509.6h1M437.8 509.8h1M437.6 511.9h1M440.1 507.4h1M437.0 504.8h1M426.6 507.0h1M429.3 504.1h1M439.6 498.8h1M442.1 496.3h1M457.3 498.7h1M434.3 518.5h1M428.3 512.9h1M428.0 502.4h1M425.0 504.6h1M443.7 502.8h1M441.7 506.4h1M428.9 507.1h1M449.5 500.2h1M423.2 506.2h1M417.9 515.8h1M435.9 501.7h1M424.0 512.5h1M450.2 499.7h1M428.3 512.1h1M450.7 506.4h1M432.1 503.7h1M448.8 491.1h1M423.7 511.0h1M432.7 505.6h1M423.6 512.8h1M439.7 498.9h1M448.8 492.9h1M442.2 501.1h1M425.3 513.4h1M450.4 497.2h1M433.7 510.4h1M430.4 503.7h1M427.8 505.7h1M431.2 506.4h1M444.8 504.5h1M425.6 513.7h1M460.9 494.4h1M423.8 509.9h1M421.9 508.7h1M409.7 507.9h1M440.9 494.6h1M444.9 507.8h1M406.6 511.5h1M433.4 508.4h1M425.1 510.2h1M436.1 508.6h1M423.7 514.9h1M427.3 517.0h1M422.9 511.1h1M436.3 506.8h1M437.5 505.8h1M439.6 501.7h1M423.0 510.4h1M453.1 494.1h1M427.9 506.8h1M438.8 503.8h1M437.1 504.7h1M436.5 505.3h1M454.0 498.3h1M446.6 500.5h1M438.6 504.9h1M434.3 499.9h1M424.6 507.1h1M427.6 507.9h1M426.1 518.3h1M425.3 517.1h1M440.6 502.0h1M436.4 502.8h1M436.2 505.3h1M437.0 507.2h1M431.1 503.7h1M436.2 516.0h1M431.9 511.2h1M432.6 507.7h1M431.6 504.6h1M436.7 507.8h1M445.4 507.6h1M421.4 515.7h1M432.6 511.1h1M425.7 503.8h1M428.7 511.0h1M429.4 513.5h1M436.2 498.2h1M432.9 501.6h1M426.5 510.4h1M432.5 513.0h1M438.6 496.9h1M453.2 499.0h1M417.4 515.5h1M435.8 499.9h1M416.5 513.0h1M427.8 503.8h1M431.2 500.9h1M440.4 498.5h1M452.2 498.6h1M426.1 510.2h1M426.3 506.2h1M431.3 506.0h1M435.2 505.1h1M430.0 505.2h1M437.9 495.7h1M442.5 497.3h1M434.6 502.6h1M431.8 507.1h1M423.3 503.5h1M426.9 501.6h1M438.7 493.2h1M431.5 517.9h1M432.3 513.5h1M422.1 516.7h1M438.3 496.4h1M422.9 508.2h1M426.6 514.2h1M436.5 507.7h1M435.2 502.7h1M433.9 513.0h1M441.0 500.0h1M443.5 502.5h1M425.8 514.1h1M446.4 500.6h1M433.1 503.0h1M436.4 510.1h1M434.4 508.4h1M428.3 501.0h1M421.9 513.1h1M422.1 508.7h1M427.8 509.7h1M419.1 512.3h1M434.8 502.6h1M428.0 499.2h1M431.6 503.1h1M430.8 505.8h1M431.8 509.8h1M444.7 499.6h1M418.6 513.9h1M436.5 503.4h1M432.9 513.8h1M432.9 506.3h1M413.6 507.2h1M427.4 510.6h1M442.6 511.3h1M430.3 514.1h1M432.6 498.4h1M452.2 499.7h1M442.7 499.7h1M436.2 510.8h1M413.0 505.7h1M434.9 497.4h1M416.0 504.9h1M444.9 509.3h1M422.2 507.1h1M435.0 505.6h1M422.4 509.7h1M447.4 498.9h1M429.2 509.0h1M423.4 506.8h1M432.1 513.1h1M429.9 509.6h1M430.1 508.3h1M434.8 501.8h1M433.5 500.2h1M413.5 509.7h1M436.6 496.2h1M427.4 511.2h1M446.2 498.2h1M438.2 500.3h1M429.9 514.9h1M435.2 505.1h1M425.2 507.1h1M427.7 508.0h1M452.4 499.1h1M413.6 514.2h1M417.6 513.8h1M438.6 503.1h1M418.4 510.9h1M447.8 499.0h1M451.3 499.3h1M435.0 500.6h1M437.3 506.6h1M442.4 500.7h1M429.3 508.8h1M435.8 502.4h1M440.5 502.6h1M423.2 502.1h1M422.3 512.7h1M445.5 506.3h1M431.0 509.9h1M427.8 501.4h1M427.5 505.3h1M431.5 512.2h1M433.2 512.0h1M440.0 507.5h1M433.7 507.5h1M435.2 491.9h1M437.6 511.1h1M426.1 511.2h1M445.9 501.8h1M434.5 507.4h1M434.5 507.8h1M437.9 509.7h1M429.6 513.0h1M429.8 503.9h1M430.2 500.6h1M440.8 501.2h1M425.7 501.4h1M439.1 503.3h1M430.9 504.7h1M403.3 521.8h1M425.3 512.7h1M437.1 502.5h1M435.0 508.0h1M432.3 506.4h1M432.3 507.2h1M439.6 508.2h1M432.5 509.4h1M442.7 503.9h1M427.5 508.7h1M429.7 498.6h1M428.8 511.0h1M443.2 501.4h1M420.0 510.7h1M452.9 501.8h1M427.4 511.9h1M419.6 517.7h1M429.4 512.3h1M434.3 505.9h1M445.7 493.1h1M437.9 507.3h1M433.1 503.2h1M424.7 504.7h1M422.1 509.2h1M430.2 510.2h1M432.9 511.5h1M446.7 505.5h1M425.0 515.5h1M426.4 508.6h1M432.1 500.5h1M438.0 510.9h1M452.3 498.2h1M416.8 516.9h1M437.2 507.2h1M429.1 508.6h1M408.8 515.1h1M417.2 513.0h1M442.7 503.6h1M431.0 503.8h1M432.1 505.5h1M451.3 502.6h1M430.4 504.0h1M447.7 496.3h1M438.7 503.4h1M431.0 511.8h1M432.9 505.4h1M428.4 503.5h1M424.8 511.1h1M422.6 512.9h1M440.5 511.2h1M426.0 506.7h1M431.7 501.0h1M428.2 510.9h1M419.4 509.4h1M447.1 503.5h1M436.3 506.4h1M456.3 497.0h1M435.4 509.3h1M421.4 516.8h1M453.6 499.0h1M421.9 517.5h1M433.1 506.6h1M428.4 509.0h1M445.2 502.2h1M431.1 506.2h1M431.9 505.1h1M431.3 509.1h1M427.4 507.9h1M428.1 505.3h1M441.7 501.5h1M430.5 505.5h1M408.9 514.6h1M426.6 518.0h1M430.1 512.7h1M438.0 504.9h1M433.1 510.3h1M441.9 501.3h1M418.0 507.2h1M459.6 492.7h1M446.1 499.7h1M448.3 502.0h1M421.9 508.9h1M438.4 501.6h1M427.0 506.9h1M434.5 510.5h1M440.0 501.2h1M442.9 503.5h1M438.9 511.5h1M421.5 503.0h1M421.7 510.0h1M430.8 510.7h1M438.0 505.1h1M437.5 500.1h1M443.2 505.6h1M421.4 513.7h1M437.6 507.0h1M424.4 503.6h1M437.6 500.8h1M440.5 494.5h1M434.6 507.3h1M417.9 509.3h1M417.7 515.2h1M446.5 504.3h1M411.5 517.9h1M444.0 498.0h1M414.7 510.1h1M427.8 508.5h1M415.0 526.9h1M433.6 505.2h1M421.6 515.7h1M432.5 505.0h1M418.1 507.5h1M425.7 514.8h1M423.8 510.9h1M431.9 507.4h1M430.1 502.4h1M431.2 498.8h1M432.4 513.5h1M427.7 513.2h1M436.4 500.5h1M451.0 505.7h1M431.5 507.5h1M441.8 513.4h1M420.0 508.8h1M427.9 516.9h1M437.0 505.1h1M428.9 507.1h1M437.2 509.0h1M442.8 496.7h1M440.8 466.5h1M457.5 463.1h1M436.7 493.8h1M442.6 479.6h1M436.8 468.9h1M409.3 503.8h1M434.2 482.9h1M436.1 476.2h1M422.6 499.3h1M408.0 519.1h1M445.7 467.7h1M445.4 499.8h1M447.7 484.9h1M453.4 477.4h1M444.6 479.9h1M453.4 467.1h1M450.0 483.3h1M425.2 481.0h1M436.4 465.7h1M438.1 481.0h1M441.8 465.8h1M452.8 467.8h1M443.2 478.3h1M428.3 491.3h1M428.3 458.2h1M432.9 485.1h1M429.9 473.6h1M449.5 487.8h1M431.8 473.1h1M442.6 489.5h1M446.9 485.7h1M442.6 462.4h1M437.7 474.5h1M448.2 478.4h1M435.5 482.7h1M438.5 480.1h1M443.1 488.8h1M443.2 477.8h1M443.3 479.9h1M435.1 499.2h1M441.2 476.4h1M436.1 470.3h1M433.8 504.7h1M454.5 490.5h1M434.9 485.7h1M452.6 466.6h1M433.5 494.8h1M438.0 483.3h1M426.3 488.3h1M451.8 475.1h1M429.1 496.1h1M427.6 462.9h1M438.5 478.9h1M437.0 484.5h1M438.0 502.3h1M442.7 486.9h1M440.2 466.3h1M417.1 464.6h1M438.7 469.5h1M424.1 483.4h1M441.0 487.8h1M433.1 497.1h1M465.3 474.6h1M439.9 482.3h1M463.4 492.0h1M447.4 477.6h1M423.4 473.7h1M448.1 491.4h1M433.0 473.3h1M435.0 487.7h1M451.8 488.0h1M448.2 504.6h1M452.9 478.4h1M443.0 472.3h1M428.4 492.3h1M443.5 485.1h1M443.1 458.6h1M436.0 491.4h1M423.9 493.1h1M437.8 476.9h1M447.6 501.0h1M441.9 480.1h1M428.4 492.9h1M440.1 464.4h1M423.4 490.3h1M432.2 491.7h1M441.5 487.8h1M439.8 493.0h1M432.6 498.1h1M443.2 504.0h1M439.6 475.2h1M434.5 486.7h1M447.6 466.6h1M446.0 492.8h1M430.1 483.2h1M434.3 483.2h1M437.8 478.0h1M449.1 468.8h1M454.7 481.5h1M421.7 476.0h1M442.7 487.2h1M451.9 483.9h1M442.0 480.8h1M436.1 486.2h1M447.9 473.3h1M421.5 504.6h1M439.9 486.0h1M449.7 454.1h1M444.6 490.8h1M439.7 470.7h1M431.7 488.0h1M453.4 488.2h1M429.1 475.9h1M441.8 487.9h1M437.5 480.9h1M429.4 476.2h1M439.8 474.3h1M420.6 492.4h1M438.0 475.5h1M416.3 493.6h1M452.5 471.8h1M445.3 491.8h1M430.1 479.7h1M432.1 476.2h1M446.7 479.5h1M426.2 478.3h1M442.8 477.2h1M430.9 470.5h1M438.4 470.3h1M436.9 471.5h1M451.5 476.2h1M425.1 476.1h1M436.1 480.4h1M434.1 482.8h1M443.8 485.2h1M455.6 471.8h1M426.0 494.4h1M414.7 478.3h1M446.3 482.6h1M453.7 480.9h1M453.9 485.0h1M437.0 469.9h1M430.4 474.3h1M455.9 470.9h1M434.6 489.2h1M456.0 469.3h1M447.8 482.3h1M440.6 478.6h1M426.4 484.2h1M432.8 510.5h1M428.9 472.1h1M437.9 486.4h1M429.1 477.4h1M438.6 470.0h1M429.3 481.0h1M444.4 493.8h1M441.8 477.2h1M452.7 480.7h1M442.8 485.6h1M440.3 485.2h1M434.2 481.7h1M427.5 471.0h1M439.9 471.3h1M421.7 499.7h1M447.7 492.7h1M442.9 487.2h1M463.2 469.9h1M430.2 498.6h1M417.3 472.1h1M429.0 501.6h1M437.3 469.7h1M432.2 480.5h1M421.9 479.7h1M451.5 481.0h1M432.1 479.7h1M458.7 493.0h1M451.2 494.0h1M424.4 483.6h1M430.5 495.5h1M423.3 473.1h1M437.2 482.3h1M426.5 503.0h1M444.6 483.1h1M434.3 492.9h1M435.9 478.7h1M411.1 492.2h1M460.8 502.1h1M447.5 484.0h1M477.3 472.4h1M446.1 472.4h1M424.1 487.4h1M457.5 485.2h1M439.3 481.2h1M438.4 489.0h1M436.6 491.4h1M441.9 492.3h1M446.9 485.4h1M430.1 488.1h1M447.3 470.6h1M435.5 481.4h1M437.3 489.1h1M445.2 484.9h1M436.5 487.4h1M438.9 496.7h1M424.2 491.2h1M434.9 492.7h1M444.4 484.9h1M423.1 471.8h1M424.7 472.1h1M428.4 487.8h1M429.3 493.9h1M450.7 487.2h1M440.4 471.6h1M444.0 477.0h1M431.7 513.7h1M421.7 469.1h1M451.6 496.0h1M415.2 497.2h1M436.4 475.1h1M448.8 474.5h1M446.6 492.9h1M441.3 475.9h1M433.0 480.2h1M435.1 475.3h1M446.4 476.8h1M442.9 483.1h1M450.0 464.8h1M428.6 481.6h1M429.8 487.6h1M444.7 503.2h1M460.1 453.8h1M438.1 476.7h1M452.7 490.6h1M425.9 477.0h1M440.9 495.6h1M433.4 494.5h1M455.9 477.1h1M432.5 487.4h1M438.9 496.5h1M433.3 471.5h1M430.0 477.7h1M452.9 493.5h1M452.0 478.0h1M466.4 472.7h1M435.5 486.7h1M436.4 484.1h1M445.4 491.4h1M438.1 452.0h1M436.2 488.2h1M430.5 508.3h1M433.0 470.7h1M457.4 506.4h1M442.1 471.1h1M437.1 481.2h1M444.8 487.9h1M415.2 484.2h1M436.3 482.9h1M472.5 469.2h1M431.4 473.3h1M438.7 490.5h1M447.7 488.1h1M437.5 490.3h1M418.2 503.5h1M446.8 496.5h1M429.3 491.2h1M436.8 489.2h1M438.1 483.9h1M463.9 476.0h1M434.1 477.4h1M446.0 483.4h1M418.2 498.3h1M444.2 484.0h1M449.6 483.9h1M434.4 471.4h1M422.4 488.5h1M440.9 473.9h1M428.9 482.1h1M438.6 461.7h1M419.7 496.3h1M428.0 484.1h1M446.8 476.0h1M439.3 486.1h1M427.4 498.8h1M439.7 480.8h1M438.8 472.0h1M447.0 498.0h1M451.2 455.5h1M433.4 488.3h1M434.3 475.9h1M442.6 490.9h1M459.1 490.0h1M432.2 471.6h1M459.9 473.9h1M428.0 507.5h1M446.7 501.2h1M453.9 482.5h1M423.4 487.7h1M434.1 499.1h1M447.0 471.3h1M442.6 457.4h1M448.3 451.6h1M421.6 472.1h1M450.7 477.6h1M417.7 507.9h1M422.6 498.8h1M443.2 485.0h1M448.8 494.5h1M438.4 506.3h1M445.7 497.9h1M420.3 482.1h1M432.6 482.5h1M424.8 518.6h1M436.8 479.0h1M432.5 475.8h1M449.3 469.4h1M430.2 476.5h1M435.8 478.5h1M423.9 499.6h1M437.7 480.3h1M441.3 483.2h1M431.5 478.9h1M404.4 520.3h1M412.6 510.8h1M417.4 527.4h1M394.4 517.5h1M416.3 532.7h1M414.0 530.0h1M407.5 533.2h1M409.8 524.3h1M409.6 507.5h1M405.6 536.1h1M427.3 516.4h1M403.5 531.3h1M401.3 522.8h1M409.6 526.8h1M410.9 519.2h1M413.9 525.8h1M408.3 508.7h1M422.2 498.8h1M417.2 510.7h1M400.2 514.0h1M399.9 509.8h1M410.0 520.3h1M398.5 522.0h1M430.2 515.8h1M411.2 528.2h1M403.0 519.3h1M425.3 529.7h1M415.0 514.7h1M410.6 511.9h1M395.4 524.1h1M413.1 516.0h1M422.2 527.6h1M419.3 523.4h1M407.6 515.9h1M416.1 520.0h1M406.4 515.0h1M423.2 507.0h1M393.0 531.8h1M403.0 519.6h1M416.5 509.4h1M425.9 522.2h1M414.8 518.3h1M411.8 511.6h1M422.9 495.9h1M426.8 451.2h1M436.9 485.5h1M456.7 521.5h1M428.5 514.5h1M449.8 513.1h1M443.8 478.7h1M403.3 529.0h1M444.5 513.9h1M464.5 505.4h1M470.0 484.5h1M416.3 509.3h1M389.3 491.9h1M402.8 421.3h1M408.1 479.6h1" stroke="#000" stroke-width="1" stroke-opacity="0.6" fill="none"/>
<path d="M436.9 502.5h1M431.9 507.8h1M429.5 504.0h1M413.2 517.5h1M439.8 507.3h1M437.9 502.4h1M421.2 507.7h1M424.8 509.4h1M411.5 518.3h1M410.4 512.2h1M437.6 507.7h1M444.5 495.0h1M422.5 517.3h1M429.9 502.3h1M446.3 489.7h1M460.3 493.1h1M441.7 507.0h1M433.9 506.9h1M438.0 507.0h1M418.9 518.0h1M434.6 503.4h1M420.7 519.6h1M429.3 510.1h1M433.0 498.5h1M446.5 502.2h1M417.7 515.6h1M429.9 509.2h1M443.3 500.8h1M438.6 510.0h1M436.0 503.5h1M438.9 513.5h1M417.3 516.7h1M419.3 508.3h1M431.7 509.2h1M436.7 508.9h1M456.1 494.8h1M441.1 500.9h1M433.8 516.1h1M434.6 512.0h1M442.0 493.4h1M428.5 507.4h1M438.9 502.3h1M436.0 506.6h1M442.7 504.0h1M428.6 511.3h1M430.4 507.5h1M431.9 507.8h1M422.1 504.6h1M441.7 498.7h1M426.3 516.0h1M451.8 502.0h1M423.6 504.1h1M434.8 507.6h1M421.8 508.9h1M427.8 506.3h1M455.9 501.3h1M438.3 509.4h1M420.1 507.0h1M426.1 506.9h1M434.8 510.6h1M429.9 500.4h1M418.4 512.0h1M418.8 511.6h1M432.8 506.8h1M444.2 502.7h1M442.3 510.8h1M432.5 511.4h1M429.6 502.8h1M435.8 498.9h1M420.1 503.9h1M427.4 507.2h1M439.8 503.9h1M421.5 512.5h1M424.1 512.6h1M427.1 504.0h1M436.6 499.6h1M442.6 506.0h1M431.6 508.4h1M421.0 501.7h1M411.0 516.1h1M427.2 512.5h1M432.7 512.6h1M433.3 508.5h1M424.2 503.3h1M436.3 511.2h1M416.9 504.3h1M441.9 503.0h1M420.3 509.5h1M441.9 499.4h1M442.3 507.6h1M443.7 490.7h1M431.6 503.3h1M427.3 511.7h1M435.2 493.3h1M432.0 511.3h1M446.4 498.1h1M435.6 507.6h1M442.7 504.2h1M441.4 501.9h1M425.1 507.4h1M449.3 497.8h1M429.2 506.0h1M422.7 511.4h1M444.7 520.2h1M444.9 501.7h1M433.2 507.0h1M425.3 507.0h1M430.9 507.6h1M457.3 494.4h1M423.4 510.9h1M429.6 509.8h1M431.1 510.6h1M419.5 511.0h1M425.1 508.2h1M415.2 517.7h1M429.0 500.1h1M436.1 500.4h1M421.1 506.7h1M442.4 503.3h1M434.4 505.6h1M431.0 506.5h1M417.3 516.4h1M454.8 499.2h1M445.7 493.9h1M435.4 511.9h1M437.6 503.6h1M439.0 500.1h1M429.5 513.3h1M438.7 505.7h1M420.9 509.8h1M419.3 512.3h1M439.2 508.5h1M445.5 501.2h1M426.2 508.4h1M440.2 502.9h1M434.0 506.0h1M440.9 509.6h1M425.3 513.3h1M438.5 499.6h1M426.7 508.2h1M420.3 514.0h1M420.3 510.8h1M431.0 507.9h1M434.0 513.9h1M440.8 495.3h1M434.8 503.1h1M432.4 508.9h1M403.1 517.1h1M424.2 510.7h1M428.4 506.0h1M435.2 501.1h1M430.9 509.6h1M437.2 506.3h1M415.3 503.4h1M430.8 509.2h1M437.1 506.6h1M434.9 506.4h1M441.8 504.5h1M430.6 515.0h1M436.5 510.3h1M421.2 511.3h1M426.1 510.8h1M443.6 505.1h1M433.8 501.8h1M423.5 503.5h1M422.0 517.2h1M430.9 514.8h1M433.8 507.6h1M446.1 511.9h1M433.4 512.2h1M444.3 493.2h1M420.9 511.7h1M442.3 497.5h1M428.8 510.8h1M437.1 510.4h1M445.7 491.9h1M443.0 501.6h1M433.0 505.7h1M425.1 505.7h1M426.4 513.2h1M431.8 511.8h1M434.2 514.0h1M449.8 507.2h1M432.9 502.6h1M427.8 500.2h1M442.6 509.7h1M425.0 507.8h1M435.1 502.9h1M428.3 508.7h1M452.0 495.7h1M411.1 512.3h1M427.2 512.4h1M420.5 506.7h1M442.0 508.1h1M427.3 505.9h1M417.6 507.0h1M429.2 510.9h1M423.8 503.3h1M417.1 507.9h1M419.9 515.7h1M434.5 506.1h1M437.9 503.8h1M428.8 505.5h1M431.0 507.1h1M437.1 494.5h1M432.5 504.2h1M438.6 502.2h1M433.5 501.1h1M429.6 504.3h1M440.6 500.4h1M421.5 503.3h1M427.1 511.8h1M419.1 512.8h1M430.0 506.7h1M453.0 502.4h1M430.5 505.8h1M441.5 493.7h1M431.9 506.0h1M423.9 513.4h1M427.5 510.5h1M435.7 505.5h1M431.5 514.4h1M448.0 505.3h1M432.6 502.3h1M425.2 517.1h1M433.7 510.7h1M432.2 508.7h1M443.0 505.7h1M422.0 505.7h1M442.9 500.4h1M429.0 510.4h1M440.7 503.7h1M434.9 498.9h1M438.4 498.3h1M430.6 509.8h1M424.3 510.9h1M463.0 503.5h1M438.4 508.1h1M427.2 502.6h1M442.0 493.8h1M443.5 511.0h1M436.6 502.4h1M428.8 511.3h1M423.3 506.8h1M418.1 517.9h1M444.6 496.4h1M425.5 509.8h1M422.4 514.0h1M415.9 508.2h1M440.0 505.9h1M429.9 504.7h1M434.5 503.5h1M433.3 507.4h1M448.1 510.6h1M424.4 508.2h1M435.7 511.2h1M398.5 521.4h1M417.1 517.3h1M436.8 500.8h1M444.5 510.2h1M434.8 507.9h1M425.2 504.5h1M464.4 497.1h1M446.6 507.6h1M424.5 504.3h1M430.6 498.6h1M416.8 510.0h1M425.0 522.9h1M433.3 507.7h1M434.0 508.1h1M430.2 495.3h1M430.3 513.4h1M428.5 500.1h1M425.6 509.5h1M433.8 497.8h1M438.1 515.8h1M427.0 502.5h1M443.8 502.0h1M422.1 514.3h1M427.8 510.1h1M428.3 503.2h1M448.4 498.7h1M430.8 504.9h1M445.3 503.7h1M444.0 500.1h1M427.6 498.1h1M430.5 502.6h1M429.9 508.7h1M427.4 510.5h1M449.1 500.7h1M437.8 512.1h1M425.7 511.4h1M431.6 504.0h1M424.4 518.2h1M429.6 510.9h1M439.0 504.8h1M423.2 512.0h1M421.3 514.1h1M439.1 501.8h1M439.1 503.5h1M426.0 508.3h1M407.8 511.2h1M428.5 506.6h1M429.6 509.8h1M418.7 512.4h1M431.0 504.3h1M431.8 511.9h1M426.2 501.8h1M434.1 504.7h1M428.5 501.3h1M431.9 505.1h1M448.8 500.2h1M415.4 512.2h1M435.9 505.7h1M420.9 511.7h1M424.0 511.2h1M440.5 497.4h1M431.3 506.3h1M432.9 507.3h1M433.7 509.4h1M415.7 521.3h1M442.1 503.2h1M455.5 497.8h1M439.1 497.9h1M449.8 495.6h1M429.2 508.8h1M448.4 501.2h1M433.8 507.6h1M419.3 511.3h1M452.3 494.5h1M432.4 498.8h1M426.3 508.6h1M424.0 507.3h1M423.5 509.5h1M432.6 502.2h1M442.1 511.7h1M446.5 509.4h1M425.6 509.7h1M427.8 507.3h1M430.2 501.3h1M438.0 501.1h1M439.6 508.5h1M421.7 510.1h1M428.5 500.6h1M433.5 502.4h1M449.1 502.3h1M425.9 501.2h1M431.3 498.7h1M431.3 516.4h1M444.6 507.3h1M449.8 492.0h1M433.7 504.8h1M433.3 504.8h1M431.8 502.1h1M427.5 508.2h1M445.4 510.1h1M441.2 512.8h1M445.1 506.6h1M432.4 508.2h1M419.0 512.0h1M426.1 513.6h1M438.6 499.5h1M438.8 499.6h1M444.1 498.3h1M414.0 510.2h1M422.5 504.1h1M429.0 504.6h1M423.6 501.5h1M414.6 512.1h1M437.2 503.2h1M423.2 508.9h1M442.3 498.7h1M429.4 508.0h1M429.1 507.4h1M422.4 510.9h1M439.1 509.0h1M432.5 504.2h1M433.5 501.6h1M421.3 506.0h1M423.1 510.4h1M441.0 508.6h1M446.7 494.2h1M434.8 509.1h1M426.5 520.4h1M431.0 507.4h1M428.1 506.3h1M457.1 490.5h1M432.5 505.9h1M421.0 514.9h1M437.9 512.3h1M415.1 515.5h1M441.6 500.9h1M435.4 513.9h1M429.3 506.2h1M438.7 501.6h1M431.9 512.9h1M427.5 509.8h1M434.5 511.9h1M445.3 500.4h1M453.9 507.4h1M447.6 502.0h1M428.4 509.6h1M431.5 507.8h1M449.3 500.9h1M432.7 519.5h1M428.3 513.5h1M415.7 517.9h1M433.4 498.2h1M424.6 509.0h1M435.0 505.6h1M416.1 508.2h1M416.0 522.1h1M414.8 525.1h1M438.0 502.6h1M427.0 507.8h1M430.9 505.7h1M430.8 501.9h1M429.3 504.3h1M432.1 506.3h1M422.5 513.5h1M426.7 507.0h1M420.8 514.5h1M427.8 515.5h1M429.4 508.1h1M397.4 527.0h1M437.0 501.1h1M454.6 504.1h1M412.1 511.0h1M431.0 510.3h1M445.7 497.4h1M410.9 509.4h1M432.4 507.0h1M441.0 508.3h1M438.0 501.4h1M423.2 515.7h1M422.0 505.4h1M435.3 504.9h1M443.0 491.2h1M429.9 511.8h1M445.2 512.7h1M425.8 506.3h1M426.1 509.1h1M422.3 510.2h1M436.0 500.5h1M447.2 499.4h1M437.9 502.7h1M436.2 505.8h1M440.2 500.0h1M430.4 509.9h1M447.6 489.4h1M435.4 501.6h1M444.1 505.1h1M444.1 512.1h1M422.9 513.9h1M439.0 503.1h1M442.5 500.9h1M427.0 513.2h1M434.7 511.5h1M435.3 500.5h1M434.8 511.9h1M443.0 497.4h1M427.9 506.0h1M439.1 495.0h1M436.6 502.2h1M425.5 508.3h1M432.7 509.8h1M435.0 507.0h1M429.7 499.7h1M418.6 515.9h1M433.9 508.9h1M424.1 504.7h1M428.9 511.6h1M435.5 499.9h1M420.8 509.2h1M435.9 507.1h1M423.8 510.3h1M426.8 505.9h1M429.6 501.6h1M457.2 499.6h1M429.3 503.8h1M413.5 509.8h1M429.2 510.6h1M431.9 500.4h1M431.3 503.7h1M426.9 508.8h1M431.2 499.2h1M450.1 502.1h1M432.9 508.0h1M428.0 516.1h1M420.8 511.8h1M443.6 495.3h1M443.3 502.6h1M435.3 508.5h1M430.3 503.0h1M435.0 507.8h1M428.8 503.4h1M422.9 515.8h1M440.0 504.1h1M418.6 516.9h1M443.7 499.6h1M410.0 509.7h1M424.8 506.9h1M429.4 514.5h1M431.6 510.8h1M449.5 497.9h1M425.5 512.8h1M412.3 513.1h1M415.3 511.0h1M439.6 498.8h1M445.2 501.9h1M428.5 507.7h1M432.3 507.2h1M419.6 504.8h1M424.0 509.1h1M426.4 512.0h1M445.2 491.9h1M435.8 507.6h1M430.7 505.9h1M430.4 506.4h1M436.5 493.9h1M422.3 500.9h1M426.9 510.6h1M434.0 510.6h1M418.2 508.4h1M451.5 503.8h1M425.7 513.4h1M425.8 503.9h1M448.7 504.4h1M443.6 504.0h1M426.9 510.2h1M417.1 515.4h1M422.9 506.2h1M433.4 508.1h1M420.6 513.2h1M440.2 505.2h1M432.9 504.2h1M428.7 511.1h1M451.1 499.3h1M444.8 500.2h1M446.9 509.0h1M414.5 503.7h1M428.3 506.4h1M411.9 517.5h1M436.6 504.1h1M434.0 514.4h1M431.4 512.9h1M436.5 506.7h1M439.5 505.6h1M437.3 513.3h1M448.3 499.2h1M428.0 500.1h1M445.5 506.4h1M405.5 513.5h1M447.3 505.4h1M437.4 504.3h1M424.6 509.4h1M437.7 507.6h1M422.9 517.4h1M453.0 503.8h1M421.8 507.2h1M445.4 502.0h1M418.7 512.4h1M436.4 506.9h1M421.2 510.3h1M422.6 519.5h1M428.5 506.5h1M444.0 503.3h1M413.8 516.8h1M414.3 521.7h1M426.7 501.8h1M426.3 507.6h1M450.5 500.4h1M434.8 502.6h1M443.5 503.1h1M444.2 499.1h1M440.6 506.7h1M425.3 518.2h1M439.6 501.9h1M430.2 510.3h1M425.0 518.8h1M427.3 511.3h1M424.8 519.1h1M438.1 509.5h1M459.5 500.6h1M432.3 505.9h1M433.4 507.3h1M412.2 515.0h1M445.3 502.8h1M433.2 508.9h1M433.5 506.0h1M436.0 497.8h1M424.8 507.4h1M433.9 494.8h1M418.9 506.5h1M427.7 506.9h1M412.7 508.2h1M424.4 510.3h1M421.5 512.4h1M453.5 497.1h1M425.6 508.7h1M417.6 505.1h1M430.8 512.8h1M451.1 483.1h1M443.5 489.9h1M440.9 488.5h1M440.6 493.2h1M438.3 469.9h1M435.3 488.8h1M446.3 484.2h1M450.2 486.9h1M437.8 465.7h1M439.6 469.3h1M424.7 491.2h1M408.5 482.0h1M433.7 476.8h1M450.0 464.8h1M442.4 488.6h1M446.3 473.8h1M436.6 474.3h1M431.5 480.5h1M440.9 452.4h1M436.2 471.6h1M444.4 490.1h1M427.7 465.6h1M430.7 478.1h1M430.4 499.9h1M450.3 502.2h1M442.8 489.3h1M450.4 489.0h1M429.9 479.2h1M445.5 445.1h1M450.6 469.0h1M439.6 488.1h1M451.0 476.4h1M461.2 463.2h1M431.7 488.0h1M428.0 495.2h1M439.6 477.4h1M427.1 461.7h1M428.4 500.7h1M444.3 473.9h1M441.5 478.3h1M454.2 483.8h1M439.7 471.9h1M449.6 495.0h1M458.8 475.5h1M450.5 495.7h1M433.0 485.8h1M449.6 489.7h1M426.7 496.6h1M417.7 471.0h1M439.8 489.6h1M445.8 482.9h1M448.1 481.9h1M455.8 479.0h1M434.7 484.5h1M430.5 483.4h1M443.4 474.8h1M430.2 497.8h1M430.2 483.1h1M427.1 488.7h1M468.2 475.5h1M446.5 493.8h1M438.4 484.7h1M426.8 483.8h1M427.9 479.0h1M440.5 504.7h1M439.4 476.7h1M425.5 498.2h1M436.8 494.6h1M444.3 491.7h1M458.0 489.4h1M436.2 489.3h1M451.9 487.3h1M448.5 472.6h1M429.3 467.6h1M456.4 469.0h1M442.1 476.6h1M440.9 468.9h1M436.6 518.4h1M442.8 477.6h1M444.1 471.1h1M434.1 475.1h1M404.1 487.9h1M433.2 486.0h1M415.7 501.8h1M431.9 465.3h1M440.9 490.3h1M437.7 459.8h1M448.3 465.3h1M441.1 489.8h1M447.4 477.9h1M439.7 470.8h1M446.7 485.0h1M447.4 492.7h1M434.2 502.8h1M436.1 511.6h1M432.8 492.7h1M455.8 474.1h1M438.9 489.3h1M419.5 485.0h1M419.9 465.2h1M434.2 487.1h1M430.7 477.4h1M463.1 492.1h1M454.1 475.1h1M434.2 492.3h1M449.3 464.1h1M430.7 479.6h1M424.3 489.6h1M435.4 478.4h1M424.3 497.8h1M429.0 477.4h1M420.2 495.2h1M459.4 480.1h1M439.4 481.7h1M441.2 477.8h1M431.7 479.9h1M426.7 485.1h1M417.3 502.7h1M448.1 494.4h1M453.2 501.1h1M429.3 473.3h1M447.1 483.1h1M448.2 492.2h1M421.3 472.7h1M434.6 483.8h1M442.9 472.9h1M446.6 479.0h1M447.6 479.7h1M422.3 492.8h1M441.5 450.0h1M422.8 494.1h1M442.1 475.1h1M446.4 475.2h1M430.8 496.5h1M439.1 491.5h1M431.3 507.2h1M436.6 499.7h1M440.2 483.1h1M429.2 497.0h1M426.2 479.2h1M433.8 486.3h1M440.7 469.7h1M451.7 501.8h1M430.1 511.1h1M433.5 489.1h1M449.4 486.7h1M442.5 463.8h1M464.2 489.6h1M435.1 456.7h1M443.0 476.3h1M431.4 482.4h1M443.6 486.3h1M424.1 484.7h1M428.6 500.0h1M435.6 478.5h1M460.4 462.6h1M452.9 469.3h1M436.8 491.2h1M433.4 476.7h1M431.7 479.6h1M445.2 504.2h1M436.6 494.0h1M453.1 470.7h1M451.8 478.9h1M420.9 482.6h1M452.9 476.6h1M433.5 460.4h1M427.9 508.3h1M440.4 482.5h1M457.1 469.7h1M423.7 481.1h1M441.6 484.8h1M448.6 484.9h1M437.5 479.4h1M445.2 472.5h1M426.9 475.2h1M446.2 494.8h1M442.1 479.7h1M426.9 486.1h1M435.3 482.6h1M437.6 485.5h1M449.9 464.3h1M425.3 487.6h1M433.4 462.7h1M450.8 468.4h1M396.9 480.0h1M442.9 481.7h1M448.5 490.0h1M454.1 483.9h1M446.0 478.1h1M452.5 478.4h1M452.6 473.7h1M433.3 477.2h1M457.6 476.8h1M439.8 482.3h1M437.3 481.8h1M428.0 481.1h1M447.3 495.7h1M422.2 499.1h1M417.7 467.4h1M427.8 487.2h1M447.0 487.5h1M451.6 485.6h1M414.0 494.3h1M443.6 499.9h1M441.5 489.5h1M467.1 508.4h1M449.3 499.1h1M444.6 482.6h1M446.1 489.6h1M411.0 491.8h1M416.7 480.5h1M428.3 469.6h1M449.2 488.3h1M421.7 517.1h1M418.7 499.0h1M453.9 469.6h1M408.6 482.5h1M428.7 491.7h1M447.1 477.3h1M433.2 466.0h1M444.2 482.3h1M449.0 488.7h1M453.7 482.2h1M427.7 477.9h1M448.1 512.1h1M427.9 475.3h1M475.4 479.7h1M440.0 505.5h1M450.9 461.9h1M432.8 484.4h1M458.1 495.7h1M448.8 467.3h1M436.5 488.1h1M444.0 482.8h1M447.5 471.8h1M438.5 490.5h1M439.0 487.6h1M426.7 489.3h1M429.9 479.4h1M429.9 503.1h1M438.1 483.1h1M441.5 494.2h1M440.2 469.8h1M458.2 467.8h1M425.8 483.7h1M447.0 508.3h1M443.2 467.3h1M469.8 475.3h1M440.5 472.8h1M420.1 489.6h1M428.4 490.4h1M433.3 476.2h1M431.8 485.7h1M449.5 479.8h1M422.5 469.1h1M422.2 504.2h1M445.0 496.1h1M446.4 472.9h1M444.9 484.3h1M434.5 471.4h1M448.0 484.4h1M442.7 471.9h1M451.9 467.9h1M429.8 468.3h1M437.6 502.3h1M430.7 483.9h1M436.6 472.1h1M427.1 505.9h1M442.5 476.0h1M451.1 475.0h1M451.7 485.4h1M421.6 472.6h1M438.5 492.3h1M448.0 489.7h1M466.4 473.3h1M451.4 474.1h1M424.9 455.6h1M436.4 476.1h1M445.0 483.9h1M465.5 485.5h1M437.5 478.4h1M428.1 477.5h1M432.4 470.3h1M460.0 471.6h1M434.4 483.4h1M448.9 486.8h1M419.5 523.5h1M410.7 517.3h1M418.1 507.0h1M426.7 524.6h1M409.4 513.1h1M421.7 513.3h1M416.6 529.8h1M391.1 514.5h1M399.7 512.0h1M420.7 520.5h1M417.1 527.6h1M433.3 516.3h1M420.7 519.5h1M422.1 530.0h1M406.6 516.9h1M425.3 508.0h1M410.4 505.7h1M404.9 508.7h1M432.0 523.9h1M398.8 523.6h1M406.2 518.7h1M408.6 523.6h1M400.1 518.9h1M412.4 516.8h1M402.8 517.6h1M402.6 532.9h1M424.1 533.0h1M394.9 526.5h1M409.4 532.9h1M409.9 525.1h1M408.2 516.2h1M410.3 507.5h1M406.5 527.6h1M408.5 532.5h1M430.9 517.3h1M424.2 505.2h1M425.8 507.8h1M428.4 524.0h1M404.4 517.8h1M399.8 506.8h1M423.1 518.3h1M416.1 452.6h1M458.8 482.2h1M404.8 500.8h1M452.2 496.8h1M483.9 510.9h1M434.1 488.0h1M391.7 503.1h1M410.4 493.6h1M416.3 503.1h1M453.0 491.2h1M453.0 465.8h1M432.3 531.4h1M457.3 492.3h1M459.0 443.9h1M436.4 481.2h1M450.1 482.4h1M476.5 514.5h1M467.9 480.7h1M448.0 521.3h1M455.4 478.3h1M434.6 482.6h1" stroke="#000" stroke-width="1" stroke-opacity="0.85" fill="none"/>
</g>
<path d="M431.3 74V107" stroke="#333" stroke-width="1.4"/>
<polyline points="188.1,11 189.3,80 189.7,150 189.7,220 189.1,260 188.3,330 188.5,360" fill="none" stroke="#000" stroke-width="2.3"/>
<polyline points="187.1,360 187.1,440 187.4,480 187.7,510 188.1,578.5" fill="none" stroke="#000" stroke-width="2.3"/>
<path d="M187.8 1L191.9 12.5L184.4 12.5Z" fill="#000"/>
<polyline points="182.3,577.7 250,577.3 330,577.7 400,578.1 480,579.3 509,579.8" fill="none" stroke="#000" stroke-width="2.3"/>
<path d="M518 580.2L507 575.8L507 584Z" fill="#000"/>
<text x="343" y="16.9" class="tt" textLength="34.2" lengthAdjust="spacingAndGlyphs">WEEK 0</text>
<text x="343" y="200.8" class="tt" textLength="33.6" lengthAdjust="spacingAndGlyphs">WEEK 4</text>
<text x="338.8" y="388.8" class="tt" textLength="34.2" lengthAdjust="spacingAndGlyphs">WEEK 8</text>
<text x="342.8" y="595.8" class="ax" textLength="27.7" lengthAdjust="spacingAndGlyphs">CD38</text>
<text transform="translate(180.6 293.6) rotate(-90)" x="0" y="0" class="ax" textLength="28.1" lengthAdjust="spacingAndGlyphs">CD34</text>
</g></svg></body></html>
